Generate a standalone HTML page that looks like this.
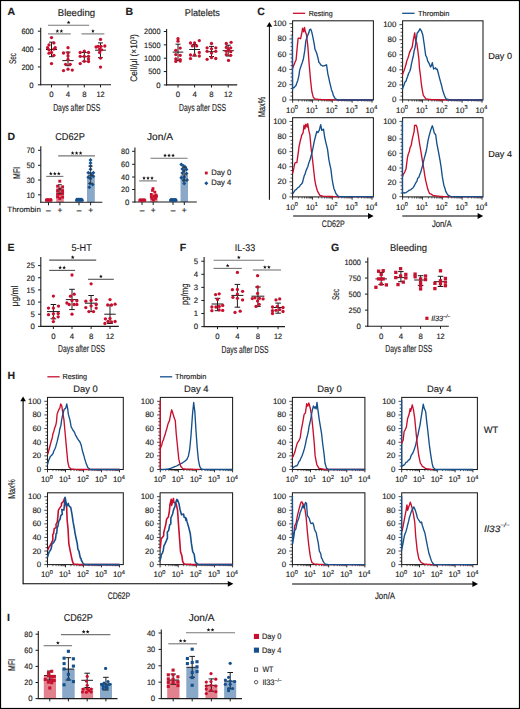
<!DOCTYPE html>
<html><head><meta charset="utf-8"><style>
html,body{margin:0;padding:0;background:#fff;}
body{width:520px;height:709px;overflow:hidden;}
svg{display:block;font-family:"Liberation Sans",sans-serif;text-rendering:geometricPrecision;}
text{fill:#1c1c1c;stroke:#1c1c1c;stroke-width:0.15px;}
</style></head><body>
<svg width="520" height="709" viewBox="0 0 520 709">
<rect x="0" y="0" width="520" height="709" fill="#fff"/>
<text x="7.4" y="15.3" font-size="10.5" font-weight="bold" fill="#000">A</text>
<text x="76.4" y="15.5" font-size="9.8" text-anchor="middle" textLength="37.3" lengthAdjust="spacingAndGlyphs">Bleeding</text>
<line x1="40.7" y1="27.8" x2="40.7" y2="85.3" stroke="#1c1c1c" stroke-width="1.1"/>
<line x1="37.9" y1="31.2" x2="40.7" y2="31.2" stroke="#1c1c1c" stroke-width="1"/>
<text x="33.7" y="34" font-size="7.8" text-anchor="end" textLength="12.3" lengthAdjust="spacingAndGlyphs">600</text>
<line x1="37.9" y1="49.07" x2="40.7" y2="49.07" stroke="#1c1c1c" stroke-width="1"/>
<text x="33.7" y="51.87" font-size="7.8" text-anchor="end" textLength="12.3" lengthAdjust="spacingAndGlyphs">400</text>
<line x1="37.9" y1="66.93" x2="40.7" y2="66.93" stroke="#1c1c1c" stroke-width="1"/>
<text x="33.7" y="69.73" font-size="7.8" text-anchor="end" textLength="12.3" lengthAdjust="spacingAndGlyphs">200</text>
<line x1="37.9" y1="84.8" x2="40.7" y2="84.8" stroke="#1c1c1c" stroke-width="1"/>
<text x="33.7" y="87.6" font-size="7.8" text-anchor="end">0</text>
<line x1="40.2" y1="84.8" x2="111" y2="84.8" stroke="#1c1c1c" stroke-width="1.1"/>
<line x1="51.5" y1="84.8" x2="51.5" y2="87.4" stroke="#1c1c1c" stroke-width="1"/>
<text x="51.5" y="97.1" font-size="7.8" text-anchor="middle">0</text>
<line x1="68" y1="84.8" x2="68" y2="87.4" stroke="#1c1c1c" stroke-width="1"/>
<text x="68" y="97.1" font-size="7.8" text-anchor="middle">4</text>
<line x1="84.3" y1="84.8" x2="84.3" y2="87.4" stroke="#1c1c1c" stroke-width="1"/>
<text x="84.3" y="97.1" font-size="7.8" text-anchor="middle">8</text>
<line x1="100.5" y1="84.8" x2="100.5" y2="87.4" stroke="#1c1c1c" stroke-width="1"/>
<text x="100.5" y="97.1" font-size="7.8" text-anchor="middle" textLength="8.2" lengthAdjust="spacingAndGlyphs">12</text>
<text x="76.7" y="110.7" font-size="10.2" text-anchor="middle" textLength="47" lengthAdjust="spacingAndGlyphs">Days after DSS</text>
<text x="15.9" y="58.5" font-size="9.8" text-anchor="middle" textLength="11" lengthAdjust="spacingAndGlyphs" transform="rotate(-90 15.9 58.5)">Sec</text>
<line x1="48" y1="25.3" x2="89.2" y2="25.3" stroke="#777" stroke-width="1.1"/>
<polygon points="68.6,20.5 69.1,21.81 70.5,21.88 69.41,22.76 69.78,24.12 68.6,23.35 67.42,24.12 67.79,22.76 66.7,21.88 68.1,21.81" fill="#111"/>
<line x1="48" y1="33.9" x2="70.7" y2="33.9" stroke="#777" stroke-width="1.1"/>
<polygon points="57.35,29.1 57.85,30.41 59.25,30.48 58.16,31.36 58.53,32.72 57.35,31.95 56.17,32.72 56.54,31.36 55.45,30.48 56.85,30.41" fill="#111"/>
<polygon points="61.35,29.1 61.85,30.41 63.25,30.48 62.16,31.36 62.53,32.72 61.35,31.95 60.17,32.72 60.54,31.36 59.45,30.48 60.85,30.41" fill="#111"/>
<line x1="81.5" y1="33.9" x2="104.4" y2="33.9" stroke="#777" stroke-width="1.1"/>
<polygon points="92.95,29.1 93.45,30.41 94.85,30.48 93.76,31.36 94.13,32.72 92.95,31.95 91.77,32.72 92.14,31.36 91.05,30.48 92.45,30.41" fill="#111"/>
<line x1="46" y1="49.5" x2="57" y2="49.5" stroke="#1c1c1c" stroke-width="1"/>
<line x1="51.5" y1="42.2" x2="51.5" y2="56.7" stroke="#1c1c1c" stroke-width="1"/>
<line x1="49" y1="42.2" x2="54" y2="42.2" stroke="#1c1c1c" stroke-width="1"/>
<line x1="49" y1="56.7" x2="54" y2="56.7" stroke="#1c1c1c" stroke-width="1"/>
<circle cx="51.5" cy="37.6" r="1.65" fill="#c8102e"/>
<circle cx="49" cy="44.9" r="1.65" fill="#c8102e"/>
<circle cx="53.9" cy="42.9" r="1.65" fill="#c8102e"/>
<circle cx="49" cy="49.8" r="1.65" fill="#c8102e"/>
<circle cx="53.9" cy="49.1" r="1.65" fill="#c8102e"/>
<circle cx="49" cy="53.2" r="1.65" fill="#c8102e"/>
<circle cx="53.9" cy="55.3" r="1.65" fill="#c8102e"/>
<circle cx="51.5" cy="52.5" r="1.65" fill="#c8102e"/>
<circle cx="51.5" cy="63.6" r="1.65" fill="#c8102e"/>
<circle cx="47.6" cy="47.7" r="1.65" fill="#c8102e"/>
<circle cx="55.2" cy="47.7" r="1.65" fill="#c8102e"/>
<line x1="62.3" y1="60.6" x2="73.7" y2="60.6" stroke="#1c1c1c" stroke-width="1"/>
<line x1="68" y1="52.1" x2="68" y2="65.7" stroke="#1c1c1c" stroke-width="1"/>
<line x1="65.5" y1="52.1" x2="70.5" y2="52.1" stroke="#1c1c1c" stroke-width="1"/>
<line x1="65.5" y1="65.7" x2="70.5" y2="65.7" stroke="#1c1c1c" stroke-width="1"/>
<circle cx="68" cy="47.7" r="1.65" fill="#c8102e"/>
<circle cx="63.5" cy="53" r="1.65" fill="#c8102e"/>
<circle cx="68" cy="53" r="1.65" fill="#c8102e"/>
<circle cx="68" cy="56" r="1.65" fill="#c8102e"/>
<circle cx="68" cy="59.5" r="1.65" fill="#c8102e"/>
<circle cx="65.6" cy="64.3" r="1.65" fill="#c8102e"/>
<circle cx="70.2" cy="64.3" r="1.65" fill="#c8102e"/>
<circle cx="63.5" cy="70.6" r="1.65" fill="#c8102e"/>
<circle cx="68" cy="69.2" r="1.65" fill="#c8102e"/>
<circle cx="72.3" cy="70.1" r="1.65" fill="#c8102e"/>
<line x1="80.8" y1="56.7" x2="87.8" y2="56.7" stroke="#1c1c1c" stroke-width="1"/>
<line x1="84.3" y1="52.5" x2="84.3" y2="61.3" stroke="#1c1c1c" stroke-width="1"/>
<line x1="81.8" y1="52.5" x2="86.8" y2="52.5" stroke="#1c1c1c" stroke-width="1"/>
<line x1="81.8" y1="61.3" x2="86.8" y2="61.3" stroke="#1c1c1c" stroke-width="1"/>
<circle cx="80.2" cy="52.5" r="1.65" fill="#c8102e"/>
<circle cx="84.3" cy="51.2" r="1.65" fill="#c8102e"/>
<circle cx="88.5" cy="52.5" r="1.65" fill="#c8102e"/>
<circle cx="80.2" cy="56.3" r="1.65" fill="#c8102e"/>
<circle cx="84.3" cy="56.3" r="1.65" fill="#c8102e"/>
<circle cx="88.5" cy="56.3" r="1.65" fill="#c8102e"/>
<circle cx="80.2" cy="63.6" r="1.65" fill="#c8102e"/>
<circle cx="84.3" cy="61.3" r="1.65" fill="#c8102e"/>
<circle cx="88.5" cy="61.5" r="1.65" fill="#c8102e"/>
<circle cx="88.5" cy="58.8" r="1.65" fill="#c8102e"/>
<line x1="95.1" y1="50.2" x2="105.9" y2="50.2" stroke="#1c1c1c" stroke-width="1"/>
<line x1="100.5" y1="42.9" x2="100.5" y2="57.7" stroke="#1c1c1c" stroke-width="1"/>
<line x1="98" y1="42.9" x2="103" y2="42.9" stroke="#1c1c1c" stroke-width="1"/>
<line x1="98" y1="57.7" x2="103" y2="57.7" stroke="#1c1c1c" stroke-width="1"/>
<circle cx="100.5" cy="39.4" r="1.65" fill="#c8102e"/>
<circle cx="96.1" cy="47" r="1.65" fill="#c8102e"/>
<circle cx="98.2" cy="46.3" r="1.65" fill="#c8102e"/>
<circle cx="101" cy="46.3" r="1.65" fill="#c8102e"/>
<circle cx="104.8" cy="46" r="1.65" fill="#c8102e"/>
<circle cx="99.6" cy="49.1" r="1.65" fill="#c8102e"/>
<circle cx="101.6" cy="49.8" r="1.65" fill="#c8102e"/>
<circle cx="99.6" cy="52.5" r="1.65" fill="#c8102e"/>
<circle cx="100.5" cy="58.1" r="1.65" fill="#c8102e"/>
<circle cx="100.5" cy="67.1" r="1.65" fill="#c8102e"/>
<text x="125.6" y="15.3" font-size="10.5" font-weight="bold" fill="#000">B</text>
<text x="202.4" y="15.6" font-size="9.8" text-anchor="middle" textLength="35.1" lengthAdjust="spacingAndGlyphs">Platelets</text>
<line x1="166.6" y1="29" x2="166.6" y2="85.4" stroke="#1c1c1c" stroke-width="1.1"/>
<line x1="163.8" y1="31.5" x2="166.6" y2="31.5" stroke="#1c1c1c" stroke-width="1"/>
<text x="160.5" y="34.3" font-size="7.8" text-anchor="end" textLength="16.4" lengthAdjust="spacingAndGlyphs">2000</text>
<line x1="163.8" y1="44.85" x2="166.6" y2="44.85" stroke="#1c1c1c" stroke-width="1"/>
<text x="160.5" y="47.65" font-size="7.8" text-anchor="end" textLength="16.4" lengthAdjust="spacingAndGlyphs">1500</text>
<line x1="163.8" y1="58.2" x2="166.6" y2="58.2" stroke="#1c1c1c" stroke-width="1"/>
<text x="160.5" y="61" font-size="7.8" text-anchor="end" textLength="16.4" lengthAdjust="spacingAndGlyphs">1000</text>
<line x1="163.8" y1="71.55" x2="166.6" y2="71.55" stroke="#1c1c1c" stroke-width="1"/>
<text x="160.5" y="74.35" font-size="7.8" text-anchor="end" textLength="12.3" lengthAdjust="spacingAndGlyphs">500</text>
<line x1="163.8" y1="84.9" x2="166.6" y2="84.9" stroke="#1c1c1c" stroke-width="1"/>
<text x="160.5" y="87.7" font-size="7.8" text-anchor="end">0</text>
<line x1="165.9" y1="84.9" x2="237.2" y2="84.9" stroke="#1c1c1c" stroke-width="1.1"/>
<line x1="178" y1="84.9" x2="178" y2="87.5" stroke="#1c1c1c" stroke-width="1"/>
<text x="178" y="97.2" font-size="7.8" text-anchor="middle">0</text>
<line x1="194.6" y1="84.9" x2="194.6" y2="87.5" stroke="#1c1c1c" stroke-width="1"/>
<text x="194.6" y="97.2" font-size="7.8" text-anchor="middle">4</text>
<line x1="211.5" y1="84.9" x2="211.5" y2="87.5" stroke="#1c1c1c" stroke-width="1"/>
<text x="211.5" y="97.2" font-size="7.8" text-anchor="middle">8</text>
<line x1="228.2" y1="84.9" x2="228.2" y2="87.5" stroke="#1c1c1c" stroke-width="1"/>
<text x="228.2" y="97.2" font-size="7.8" text-anchor="middle" textLength="8.2" lengthAdjust="spacingAndGlyphs">12</text>
<text x="202.5" y="110.7" font-size="10.2" text-anchor="middle" textLength="47" lengthAdjust="spacingAndGlyphs">Days after DSS</text>
<text x="137.1" y="58" font-size="9.5" text-anchor="middle" transform="rotate(-90 137.1 58)" textLength="47.7" lengthAdjust="spacingAndGlyphs">Cell/&#956;l (&#215;10<tspan font-size="5.5" dy="-3">3</tspan><tspan dy="3">)</tspan></text>
<line x1="172.7" y1="52.1" x2="183.3" y2="52.1" stroke="#1c1c1c" stroke-width="1"/>
<line x1="178" y1="44.2" x2="178" y2="60.4" stroke="#1c1c1c" stroke-width="1"/>
<line x1="175.5" y1="44.2" x2="180.5" y2="44.2" stroke="#1c1c1c" stroke-width="1"/>
<line x1="175.5" y1="60.4" x2="180.5" y2="60.4" stroke="#1c1c1c" stroke-width="1"/>
<circle cx="178" cy="38.7" r="1.65" fill="#c8102e"/>
<circle cx="178" cy="41.2" r="1.65" fill="#c8102e"/>
<circle cx="175.8" cy="50.3" r="1.65" fill="#c8102e"/>
<circle cx="180.2" cy="48.1" r="1.65" fill="#c8102e"/>
<circle cx="175.8" cy="54.6" r="1.65" fill="#c8102e"/>
<circle cx="180.2" cy="55.3" r="1.65" fill="#c8102e"/>
<circle cx="175.8" cy="58.9" r="1.65" fill="#c8102e"/>
<circle cx="180.2" cy="59.6" r="1.65" fill="#c8102e"/>
<circle cx="175.8" cy="61.4" r="1.65" fill="#c8102e"/>
<circle cx="180.2" cy="61.1" r="1.65" fill="#c8102e"/>
<line x1="189.2" y1="49.5" x2="200" y2="49.5" stroke="#1c1c1c" stroke-width="1"/>
<line x1="194.6" y1="44.5" x2="194.6" y2="56" stroke="#1c1c1c" stroke-width="1"/>
<line x1="192.1" y1="44.5" x2="197.1" y2="44.5" stroke="#1c1c1c" stroke-width="1"/>
<line x1="192.1" y1="56" x2="197.1" y2="56" stroke="#1c1c1c" stroke-width="1"/>
<circle cx="190.5" cy="43" r="1.65" fill="#c8102e"/>
<circle cx="194.6" cy="43" r="1.65" fill="#c8102e"/>
<circle cx="199.3" cy="40.6" r="1.65" fill="#c8102e"/>
<circle cx="192.4" cy="45.9" r="1.65" fill="#c8102e"/>
<circle cx="196.7" cy="45.9" r="1.65" fill="#c8102e"/>
<circle cx="190.5" cy="55" r="1.65" fill="#c8102e"/>
<circle cx="194.6" cy="55" r="1.65" fill="#c8102e"/>
<circle cx="199.3" cy="56" r="1.65" fill="#c8102e"/>
<circle cx="190.5" cy="58.6" r="1.65" fill="#c8102e"/>
<circle cx="199.3" cy="52.4" r="1.65" fill="#c8102e"/>
<line x1="207.5" y1="51.7" x2="215.5" y2="51.7" stroke="#1c1c1c" stroke-width="1"/>
<line x1="211.5" y1="46.4" x2="211.5" y2="56.5" stroke="#1c1c1c" stroke-width="1"/>
<line x1="209" y1="46.4" x2="214" y2="46.4" stroke="#1c1c1c" stroke-width="1"/>
<line x1="209" y1="56.5" x2="214" y2="56.5" stroke="#1c1c1c" stroke-width="1"/>
<circle cx="211.5" cy="43.5" r="1.65" fill="#c8102e"/>
<circle cx="207.1" cy="47.8" r="1.65" fill="#c8102e"/>
<circle cx="215.8" cy="47.8" r="1.65" fill="#c8102e"/>
<circle cx="211.5" cy="48.8" r="1.65" fill="#c8102e"/>
<circle cx="207.1" cy="51.3" r="1.65" fill="#c8102e"/>
<circle cx="215.8" cy="51.3" r="1.65" fill="#c8102e"/>
<circle cx="211.5" cy="53.1" r="1.65" fill="#c8102e"/>
<circle cx="211.5" cy="57.5" r="1.65" fill="#c8102e"/>
<circle cx="207.1" cy="59.3" r="1.65" fill="#c8102e"/>
<circle cx="215.8" cy="58.5" r="1.65" fill="#c8102e"/>
<line x1="222.6" y1="50.7" x2="233.8" y2="50.7" stroke="#1c1c1c" stroke-width="1"/>
<line x1="228.2" y1="45.2" x2="228.2" y2="56" stroke="#1c1c1c" stroke-width="1"/>
<line x1="225.7" y1="45.2" x2="230.7" y2="45.2" stroke="#1c1c1c" stroke-width="1"/>
<line x1="225.7" y1="56" x2="230.7" y2="56" stroke="#1c1c1c" stroke-width="1"/>
<circle cx="226.3" cy="43.5" r="1.65" fill="#c8102e"/>
<circle cx="231.1" cy="42.3" r="1.65" fill="#c8102e"/>
<circle cx="226.3" cy="47.4" r="1.65" fill="#c8102e"/>
<circle cx="230.7" cy="47.8" r="1.65" fill="#c8102e"/>
<circle cx="226.3" cy="51.3" r="1.65" fill="#c8102e"/>
<circle cx="230.7" cy="51.7" r="1.65" fill="#c8102e"/>
<circle cx="226.3" cy="54.6" r="1.65" fill="#c8102e"/>
<circle cx="230.7" cy="55.3" r="1.65" fill="#c8102e"/>
<circle cx="228.5" cy="60.4" r="1.65" fill="#c8102e"/>
<circle cx="228.5" cy="49.5" r="1.65" fill="#c8102e"/>
<text x="257.2" y="15.3" font-size="10.5" font-weight="bold" fill="#000">C</text>
<line x1="292.9" y1="13.3" x2="305.2" y2="13.3" stroke="#c8102e" stroke-width="1.3"/>
<text x="308.7" y="15.5" font-size="7.3" textLength="24" lengthAdjust="spacingAndGlyphs">Resting</text>
<line x1="402.2" y1="13.3" x2="414.6" y2="13.3" stroke="#15508c" stroke-width="1.3"/>
<text x="418" y="15.5" font-size="7.3" textLength="31.4" lengthAdjust="spacingAndGlyphs">Thrombin</text>
<line x1="289.4" y1="99.9" x2="292.6" y2="99.9" stroke="#1c1c1c" stroke-width="0.8"/>
<text x="286.3" y="102.4" font-size="7.9" text-anchor="end">0</text>
<line x1="290.6" y1="96.09" x2="292.6" y2="96.09" stroke="#1c1c1c" stroke-width="0.8"/>
<line x1="290.6" y1="92.28" x2="292.6" y2="92.28" stroke="#1c1c1c" stroke-width="0.8"/>
<line x1="290.6" y1="88.47" x2="292.6" y2="88.47" stroke="#1c1c1c" stroke-width="0.8"/>
<line x1="289.4" y1="84.66" x2="292.6" y2="84.66" stroke="#1c1c1c" stroke-width="0.8"/>
<text x="286.3" y="87.16" font-size="7.9" text-anchor="end">20</text>
<line x1="290.6" y1="80.85" x2="292.6" y2="80.85" stroke="#1c1c1c" stroke-width="0.8"/>
<line x1="290.6" y1="77.04" x2="292.6" y2="77.04" stroke="#1c1c1c" stroke-width="0.8"/>
<line x1="290.6" y1="73.23" x2="292.6" y2="73.23" stroke="#1c1c1c" stroke-width="0.8"/>
<line x1="289.4" y1="69.42" x2="292.6" y2="69.42" stroke="#1c1c1c" stroke-width="0.8"/>
<text x="286.3" y="71.92" font-size="7.9" text-anchor="end">40</text>
<line x1="290.6" y1="65.61" x2="292.6" y2="65.61" stroke="#1c1c1c" stroke-width="0.8"/>
<line x1="290.6" y1="61.8" x2="292.6" y2="61.8" stroke="#1c1c1c" stroke-width="0.8"/>
<line x1="290.6" y1="57.99" x2="292.6" y2="57.99" stroke="#1c1c1c" stroke-width="0.8"/>
<line x1="289.4" y1="54.18" x2="292.6" y2="54.18" stroke="#1c1c1c" stroke-width="0.8"/>
<text x="286.3" y="56.68" font-size="7.9" text-anchor="end">60</text>
<line x1="290.6" y1="50.37" x2="292.6" y2="50.37" stroke="#1c1c1c" stroke-width="0.8"/>
<line x1="290.6" y1="46.56" x2="292.6" y2="46.56" stroke="#1c1c1c" stroke-width="0.8"/>
<line x1="290.6" y1="42.75" x2="292.6" y2="42.75" stroke="#1c1c1c" stroke-width="0.8"/>
<line x1="289.4" y1="38.94" x2="292.6" y2="38.94" stroke="#1c1c1c" stroke-width="0.8"/>
<text x="286.3" y="41.44" font-size="7.9" text-anchor="end">80</text>
<line x1="290.6" y1="35.13" x2="292.6" y2="35.13" stroke="#1c1c1c" stroke-width="0.8"/>
<line x1="290.6" y1="31.32" x2="292.6" y2="31.32" stroke="#1c1c1c" stroke-width="0.8"/>
<line x1="290.6" y1="27.51" x2="292.6" y2="27.51" stroke="#1c1c1c" stroke-width="0.8"/>
<line x1="289.4" y1="23.7" x2="292.6" y2="23.7" stroke="#1c1c1c" stroke-width="0.8"/>
<text x="286.3" y="26.2" font-size="7.9" text-anchor="end">100</text>
<line x1="298.58" y1="99.9" x2="298.58" y2="101.5" stroke="#1c1c1c" stroke-width="0.7"/>
<line x1="302.07" y1="99.9" x2="302.07" y2="101.5" stroke="#1c1c1c" stroke-width="0.7"/>
<line x1="304.55" y1="99.9" x2="304.55" y2="101.5" stroke="#1c1c1c" stroke-width="0.7"/>
<line x1="306.47" y1="99.9" x2="306.47" y2="101.5" stroke="#1c1c1c" stroke-width="0.7"/>
<line x1="308.05" y1="99.9" x2="308.05" y2="101.5" stroke="#1c1c1c" stroke-width="0.7"/>
<line x1="309.38" y1="99.9" x2="309.38" y2="101.5" stroke="#1c1c1c" stroke-width="0.7"/>
<line x1="310.53" y1="99.9" x2="310.53" y2="101.5" stroke="#1c1c1c" stroke-width="0.7"/>
<line x1="311.54" y1="99.9" x2="311.54" y2="101.5" stroke="#1c1c1c" stroke-width="0.7"/>
<line x1="318.43" y1="99.9" x2="318.43" y2="101.5" stroke="#1c1c1c" stroke-width="0.7"/>
<line x1="321.92" y1="99.9" x2="321.92" y2="101.5" stroke="#1c1c1c" stroke-width="0.7"/>
<line x1="324.4" y1="99.9" x2="324.4" y2="101.5" stroke="#1c1c1c" stroke-width="0.7"/>
<line x1="326.32" y1="99.9" x2="326.32" y2="101.5" stroke="#1c1c1c" stroke-width="0.7"/>
<line x1="327.9" y1="99.9" x2="327.9" y2="101.5" stroke="#1c1c1c" stroke-width="0.7"/>
<line x1="329.23" y1="99.9" x2="329.23" y2="101.5" stroke="#1c1c1c" stroke-width="0.7"/>
<line x1="330.38" y1="99.9" x2="330.38" y2="101.5" stroke="#1c1c1c" stroke-width="0.7"/>
<line x1="331.39" y1="99.9" x2="331.39" y2="101.5" stroke="#1c1c1c" stroke-width="0.7"/>
<line x1="338.28" y1="99.9" x2="338.28" y2="101.5" stroke="#1c1c1c" stroke-width="0.7"/>
<line x1="341.77" y1="99.9" x2="341.77" y2="101.5" stroke="#1c1c1c" stroke-width="0.7"/>
<line x1="344.25" y1="99.9" x2="344.25" y2="101.5" stroke="#1c1c1c" stroke-width="0.7"/>
<line x1="346.17" y1="99.9" x2="346.17" y2="101.5" stroke="#1c1c1c" stroke-width="0.7"/>
<line x1="347.75" y1="99.9" x2="347.75" y2="101.5" stroke="#1c1c1c" stroke-width="0.7"/>
<line x1="349.08" y1="99.9" x2="349.08" y2="101.5" stroke="#1c1c1c" stroke-width="0.7"/>
<line x1="350.23" y1="99.9" x2="350.23" y2="101.5" stroke="#1c1c1c" stroke-width="0.7"/>
<line x1="351.24" y1="99.9" x2="351.24" y2="101.5" stroke="#1c1c1c" stroke-width="0.7"/>
<line x1="358.13" y1="99.9" x2="358.13" y2="101.5" stroke="#1c1c1c" stroke-width="0.7"/>
<line x1="361.62" y1="99.9" x2="361.62" y2="101.5" stroke="#1c1c1c" stroke-width="0.7"/>
<line x1="364.1" y1="99.9" x2="364.1" y2="101.5" stroke="#1c1c1c" stroke-width="0.7"/>
<line x1="366.02" y1="99.9" x2="366.02" y2="101.5" stroke="#1c1c1c" stroke-width="0.7"/>
<line x1="367.6" y1="99.9" x2="367.6" y2="101.5" stroke="#1c1c1c" stroke-width="0.7"/>
<line x1="368.93" y1="99.9" x2="368.93" y2="101.5" stroke="#1c1c1c" stroke-width="0.7"/>
<line x1="370.08" y1="99.9" x2="370.08" y2="101.5" stroke="#1c1c1c" stroke-width="0.7"/>
<line x1="371.09" y1="99.9" x2="371.09" y2="101.5" stroke="#1c1c1c" stroke-width="0.7"/>
<line x1="292.6" y1="99.9" x2="292.6" y2="102.7" stroke="#1c1c1c" stroke-width="0.9"/>
<text x="292" y="112.5" font-size="7.9" text-anchor="middle">10<tspan font-size="5.6" dy="-3.5">0</tspan></text>
<line x1="312.45" y1="99.9" x2="312.45" y2="102.7" stroke="#1c1c1c" stroke-width="0.9"/>
<text x="311.85" y="112.5" font-size="7.9" text-anchor="middle">10<tspan font-size="5.6" dy="-3.5">1</tspan></text>
<line x1="332.3" y1="99.9" x2="332.3" y2="102.7" stroke="#1c1c1c" stroke-width="0.9"/>
<text x="331.7" y="112.5" font-size="7.9" text-anchor="middle">10<tspan font-size="5.6" dy="-3.5">2</tspan></text>
<line x1="352.15" y1="99.9" x2="352.15" y2="102.7" stroke="#1c1c1c" stroke-width="0.9"/>
<text x="351.55" y="112.5" font-size="7.9" text-anchor="middle">10<tspan font-size="5.6" dy="-3.5">3</tspan></text>
<line x1="372" y1="99.9" x2="372" y2="102.7" stroke="#1c1c1c" stroke-width="0.9"/>
<text x="371.4" y="112.5" font-size="7.9" text-anchor="middle">10<tspan font-size="5.6" dy="-3.5">4</tspan></text>
<rect x="292.6" y="20.8" width="80.8" height="79.1" fill="none" stroke="#1c1c1c" stroke-width="1.05"/>
<line x1="289.4" y1="196.9" x2="292.6" y2="196.9" stroke="#1c1c1c" stroke-width="0.8"/>
<text x="286.3" y="199.4" font-size="7.9" text-anchor="end">0</text>
<line x1="290.6" y1="193.13" x2="292.6" y2="193.13" stroke="#1c1c1c" stroke-width="0.8"/>
<line x1="290.6" y1="189.36" x2="292.6" y2="189.36" stroke="#1c1c1c" stroke-width="0.8"/>
<line x1="290.6" y1="185.59" x2="292.6" y2="185.59" stroke="#1c1c1c" stroke-width="0.8"/>
<line x1="289.4" y1="181.82" x2="292.6" y2="181.82" stroke="#1c1c1c" stroke-width="0.8"/>
<text x="286.3" y="184.32" font-size="7.9" text-anchor="end">20</text>
<line x1="290.6" y1="178.05" x2="292.6" y2="178.05" stroke="#1c1c1c" stroke-width="0.8"/>
<line x1="290.6" y1="174.28" x2="292.6" y2="174.28" stroke="#1c1c1c" stroke-width="0.8"/>
<line x1="290.6" y1="170.51" x2="292.6" y2="170.51" stroke="#1c1c1c" stroke-width="0.8"/>
<line x1="289.4" y1="166.74" x2="292.6" y2="166.74" stroke="#1c1c1c" stroke-width="0.8"/>
<text x="286.3" y="169.24" font-size="7.9" text-anchor="end">40</text>
<line x1="290.6" y1="162.97" x2="292.6" y2="162.97" stroke="#1c1c1c" stroke-width="0.8"/>
<line x1="290.6" y1="159.2" x2="292.6" y2="159.2" stroke="#1c1c1c" stroke-width="0.8"/>
<line x1="290.6" y1="155.43" x2="292.6" y2="155.43" stroke="#1c1c1c" stroke-width="0.8"/>
<line x1="289.4" y1="151.66" x2="292.6" y2="151.66" stroke="#1c1c1c" stroke-width="0.8"/>
<text x="286.3" y="154.16" font-size="7.9" text-anchor="end">60</text>
<line x1="290.6" y1="147.89" x2="292.6" y2="147.89" stroke="#1c1c1c" stroke-width="0.8"/>
<line x1="290.6" y1="144.12" x2="292.6" y2="144.12" stroke="#1c1c1c" stroke-width="0.8"/>
<line x1="290.6" y1="140.35" x2="292.6" y2="140.35" stroke="#1c1c1c" stroke-width="0.8"/>
<line x1="289.4" y1="136.58" x2="292.6" y2="136.58" stroke="#1c1c1c" stroke-width="0.8"/>
<text x="286.3" y="139.08" font-size="7.9" text-anchor="end">80</text>
<line x1="290.6" y1="132.81" x2="292.6" y2="132.81" stroke="#1c1c1c" stroke-width="0.8"/>
<line x1="290.6" y1="129.04" x2="292.6" y2="129.04" stroke="#1c1c1c" stroke-width="0.8"/>
<line x1="290.6" y1="125.27" x2="292.6" y2="125.27" stroke="#1c1c1c" stroke-width="0.8"/>
<line x1="289.4" y1="121.5" x2="292.6" y2="121.5" stroke="#1c1c1c" stroke-width="0.8"/>
<text x="286.3" y="124" font-size="7.9" text-anchor="end">100</text>
<line x1="298.58" y1="196.9" x2="298.58" y2="198.5" stroke="#1c1c1c" stroke-width="0.7"/>
<line x1="302.07" y1="196.9" x2="302.07" y2="198.5" stroke="#1c1c1c" stroke-width="0.7"/>
<line x1="304.55" y1="196.9" x2="304.55" y2="198.5" stroke="#1c1c1c" stroke-width="0.7"/>
<line x1="306.47" y1="196.9" x2="306.47" y2="198.5" stroke="#1c1c1c" stroke-width="0.7"/>
<line x1="308.05" y1="196.9" x2="308.05" y2="198.5" stroke="#1c1c1c" stroke-width="0.7"/>
<line x1="309.38" y1="196.9" x2="309.38" y2="198.5" stroke="#1c1c1c" stroke-width="0.7"/>
<line x1="310.53" y1="196.9" x2="310.53" y2="198.5" stroke="#1c1c1c" stroke-width="0.7"/>
<line x1="311.54" y1="196.9" x2="311.54" y2="198.5" stroke="#1c1c1c" stroke-width="0.7"/>
<line x1="318.43" y1="196.9" x2="318.43" y2="198.5" stroke="#1c1c1c" stroke-width="0.7"/>
<line x1="321.92" y1="196.9" x2="321.92" y2="198.5" stroke="#1c1c1c" stroke-width="0.7"/>
<line x1="324.4" y1="196.9" x2="324.4" y2="198.5" stroke="#1c1c1c" stroke-width="0.7"/>
<line x1="326.32" y1="196.9" x2="326.32" y2="198.5" stroke="#1c1c1c" stroke-width="0.7"/>
<line x1="327.9" y1="196.9" x2="327.9" y2="198.5" stroke="#1c1c1c" stroke-width="0.7"/>
<line x1="329.23" y1="196.9" x2="329.23" y2="198.5" stroke="#1c1c1c" stroke-width="0.7"/>
<line x1="330.38" y1="196.9" x2="330.38" y2="198.5" stroke="#1c1c1c" stroke-width="0.7"/>
<line x1="331.39" y1="196.9" x2="331.39" y2="198.5" stroke="#1c1c1c" stroke-width="0.7"/>
<line x1="338.28" y1="196.9" x2="338.28" y2="198.5" stroke="#1c1c1c" stroke-width="0.7"/>
<line x1="341.77" y1="196.9" x2="341.77" y2="198.5" stroke="#1c1c1c" stroke-width="0.7"/>
<line x1="344.25" y1="196.9" x2="344.25" y2="198.5" stroke="#1c1c1c" stroke-width="0.7"/>
<line x1="346.17" y1="196.9" x2="346.17" y2="198.5" stroke="#1c1c1c" stroke-width="0.7"/>
<line x1="347.75" y1="196.9" x2="347.75" y2="198.5" stroke="#1c1c1c" stroke-width="0.7"/>
<line x1="349.08" y1="196.9" x2="349.08" y2="198.5" stroke="#1c1c1c" stroke-width="0.7"/>
<line x1="350.23" y1="196.9" x2="350.23" y2="198.5" stroke="#1c1c1c" stroke-width="0.7"/>
<line x1="351.24" y1="196.9" x2="351.24" y2="198.5" stroke="#1c1c1c" stroke-width="0.7"/>
<line x1="358.13" y1="196.9" x2="358.13" y2="198.5" stroke="#1c1c1c" stroke-width="0.7"/>
<line x1="361.62" y1="196.9" x2="361.62" y2="198.5" stroke="#1c1c1c" stroke-width="0.7"/>
<line x1="364.1" y1="196.9" x2="364.1" y2="198.5" stroke="#1c1c1c" stroke-width="0.7"/>
<line x1="366.02" y1="196.9" x2="366.02" y2="198.5" stroke="#1c1c1c" stroke-width="0.7"/>
<line x1="367.6" y1="196.9" x2="367.6" y2="198.5" stroke="#1c1c1c" stroke-width="0.7"/>
<line x1="368.93" y1="196.9" x2="368.93" y2="198.5" stroke="#1c1c1c" stroke-width="0.7"/>
<line x1="370.08" y1="196.9" x2="370.08" y2="198.5" stroke="#1c1c1c" stroke-width="0.7"/>
<line x1="371.09" y1="196.9" x2="371.09" y2="198.5" stroke="#1c1c1c" stroke-width="0.7"/>
<line x1="292.6" y1="196.9" x2="292.6" y2="199.7" stroke="#1c1c1c" stroke-width="0.9"/>
<text x="292" y="209.5" font-size="7.9" text-anchor="middle">10<tspan font-size="5.6" dy="-3.5">0</tspan></text>
<line x1="312.45" y1="196.9" x2="312.45" y2="199.7" stroke="#1c1c1c" stroke-width="0.9"/>
<text x="311.85" y="209.5" font-size="7.9" text-anchor="middle">10<tspan font-size="5.6" dy="-3.5">1</tspan></text>
<line x1="332.3" y1="196.9" x2="332.3" y2="199.7" stroke="#1c1c1c" stroke-width="0.9"/>
<text x="331.7" y="209.5" font-size="7.9" text-anchor="middle">10<tspan font-size="5.6" dy="-3.5">2</tspan></text>
<line x1="352.15" y1="196.9" x2="352.15" y2="199.7" stroke="#1c1c1c" stroke-width="0.9"/>
<text x="351.55" y="209.5" font-size="7.9" text-anchor="middle">10<tspan font-size="5.6" dy="-3.5">3</tspan></text>
<line x1="372" y1="196.9" x2="372" y2="199.7" stroke="#1c1c1c" stroke-width="0.9"/>
<text x="371.4" y="209.5" font-size="7.9" text-anchor="middle">10<tspan font-size="5.6" dy="-3.5">4</tspan></text>
<rect x="292.6" y="117.7" width="80.8" height="79.2" fill="none" stroke="#1c1c1c" stroke-width="1.05"/>
<line x1="399.4" y1="99.9" x2="402.6" y2="99.9" stroke="#1c1c1c" stroke-width="0.8"/>
<text x="396.3" y="102.4" font-size="7.9" text-anchor="end">0</text>
<line x1="400.6" y1="96.14" x2="402.6" y2="96.14" stroke="#1c1c1c" stroke-width="0.8"/>
<line x1="400.6" y1="92.38" x2="402.6" y2="92.38" stroke="#1c1c1c" stroke-width="0.8"/>
<line x1="400.6" y1="88.62" x2="402.6" y2="88.62" stroke="#1c1c1c" stroke-width="0.8"/>
<line x1="399.4" y1="84.86" x2="402.6" y2="84.86" stroke="#1c1c1c" stroke-width="0.8"/>
<text x="396.3" y="87.36" font-size="7.9" text-anchor="end">20</text>
<line x1="400.6" y1="81.1" x2="402.6" y2="81.1" stroke="#1c1c1c" stroke-width="0.8"/>
<line x1="400.6" y1="77.34" x2="402.6" y2="77.34" stroke="#1c1c1c" stroke-width="0.8"/>
<line x1="400.6" y1="73.58" x2="402.6" y2="73.58" stroke="#1c1c1c" stroke-width="0.8"/>
<line x1="399.4" y1="69.82" x2="402.6" y2="69.82" stroke="#1c1c1c" stroke-width="0.8"/>
<text x="396.3" y="72.32" font-size="7.9" text-anchor="end">40</text>
<line x1="400.6" y1="66.06" x2="402.6" y2="66.06" stroke="#1c1c1c" stroke-width="0.8"/>
<line x1="400.6" y1="62.3" x2="402.6" y2="62.3" stroke="#1c1c1c" stroke-width="0.8"/>
<line x1="400.6" y1="58.54" x2="402.6" y2="58.54" stroke="#1c1c1c" stroke-width="0.8"/>
<line x1="399.4" y1="54.78" x2="402.6" y2="54.78" stroke="#1c1c1c" stroke-width="0.8"/>
<text x="396.3" y="57.28" font-size="7.9" text-anchor="end">60</text>
<line x1="400.6" y1="51.02" x2="402.6" y2="51.02" stroke="#1c1c1c" stroke-width="0.8"/>
<line x1="400.6" y1="47.26" x2="402.6" y2="47.26" stroke="#1c1c1c" stroke-width="0.8"/>
<line x1="400.6" y1="43.5" x2="402.6" y2="43.5" stroke="#1c1c1c" stroke-width="0.8"/>
<line x1="399.4" y1="39.74" x2="402.6" y2="39.74" stroke="#1c1c1c" stroke-width="0.8"/>
<text x="396.3" y="42.24" font-size="7.9" text-anchor="end">80</text>
<line x1="400.6" y1="35.98" x2="402.6" y2="35.98" stroke="#1c1c1c" stroke-width="0.8"/>
<line x1="400.6" y1="32.22" x2="402.6" y2="32.22" stroke="#1c1c1c" stroke-width="0.8"/>
<line x1="400.6" y1="28.46" x2="402.6" y2="28.46" stroke="#1c1c1c" stroke-width="0.8"/>
<line x1="399.4" y1="24.7" x2="402.6" y2="24.7" stroke="#1c1c1c" stroke-width="0.8"/>
<text x="396.3" y="27.2" font-size="7.9" text-anchor="end">100</text>
<line x1="408.58" y1="99.9" x2="408.58" y2="101.5" stroke="#1c1c1c" stroke-width="0.7"/>
<line x1="412.07" y1="99.9" x2="412.07" y2="101.5" stroke="#1c1c1c" stroke-width="0.7"/>
<line x1="414.55" y1="99.9" x2="414.55" y2="101.5" stroke="#1c1c1c" stroke-width="0.7"/>
<line x1="416.47" y1="99.9" x2="416.47" y2="101.5" stroke="#1c1c1c" stroke-width="0.7"/>
<line x1="418.05" y1="99.9" x2="418.05" y2="101.5" stroke="#1c1c1c" stroke-width="0.7"/>
<line x1="419.38" y1="99.9" x2="419.38" y2="101.5" stroke="#1c1c1c" stroke-width="0.7"/>
<line x1="420.53" y1="99.9" x2="420.53" y2="101.5" stroke="#1c1c1c" stroke-width="0.7"/>
<line x1="421.54" y1="99.9" x2="421.54" y2="101.5" stroke="#1c1c1c" stroke-width="0.7"/>
<line x1="428.43" y1="99.9" x2="428.43" y2="101.5" stroke="#1c1c1c" stroke-width="0.7"/>
<line x1="431.92" y1="99.9" x2="431.92" y2="101.5" stroke="#1c1c1c" stroke-width="0.7"/>
<line x1="434.4" y1="99.9" x2="434.4" y2="101.5" stroke="#1c1c1c" stroke-width="0.7"/>
<line x1="436.32" y1="99.9" x2="436.32" y2="101.5" stroke="#1c1c1c" stroke-width="0.7"/>
<line x1="437.9" y1="99.9" x2="437.9" y2="101.5" stroke="#1c1c1c" stroke-width="0.7"/>
<line x1="439.23" y1="99.9" x2="439.23" y2="101.5" stroke="#1c1c1c" stroke-width="0.7"/>
<line x1="440.38" y1="99.9" x2="440.38" y2="101.5" stroke="#1c1c1c" stroke-width="0.7"/>
<line x1="441.39" y1="99.9" x2="441.39" y2="101.5" stroke="#1c1c1c" stroke-width="0.7"/>
<line x1="448.28" y1="99.9" x2="448.28" y2="101.5" stroke="#1c1c1c" stroke-width="0.7"/>
<line x1="451.77" y1="99.9" x2="451.77" y2="101.5" stroke="#1c1c1c" stroke-width="0.7"/>
<line x1="454.25" y1="99.9" x2="454.25" y2="101.5" stroke="#1c1c1c" stroke-width="0.7"/>
<line x1="456.17" y1="99.9" x2="456.17" y2="101.5" stroke="#1c1c1c" stroke-width="0.7"/>
<line x1="457.75" y1="99.9" x2="457.75" y2="101.5" stroke="#1c1c1c" stroke-width="0.7"/>
<line x1="459.08" y1="99.9" x2="459.08" y2="101.5" stroke="#1c1c1c" stroke-width="0.7"/>
<line x1="460.23" y1="99.9" x2="460.23" y2="101.5" stroke="#1c1c1c" stroke-width="0.7"/>
<line x1="461.24" y1="99.9" x2="461.24" y2="101.5" stroke="#1c1c1c" stroke-width="0.7"/>
<line x1="468.13" y1="99.9" x2="468.13" y2="101.5" stroke="#1c1c1c" stroke-width="0.7"/>
<line x1="471.62" y1="99.9" x2="471.62" y2="101.5" stroke="#1c1c1c" stroke-width="0.7"/>
<line x1="474.1" y1="99.9" x2="474.1" y2="101.5" stroke="#1c1c1c" stroke-width="0.7"/>
<line x1="476.02" y1="99.9" x2="476.02" y2="101.5" stroke="#1c1c1c" stroke-width="0.7"/>
<line x1="477.6" y1="99.9" x2="477.6" y2="101.5" stroke="#1c1c1c" stroke-width="0.7"/>
<line x1="478.93" y1="99.9" x2="478.93" y2="101.5" stroke="#1c1c1c" stroke-width="0.7"/>
<line x1="480.08" y1="99.9" x2="480.08" y2="101.5" stroke="#1c1c1c" stroke-width="0.7"/>
<line x1="481.09" y1="99.9" x2="481.09" y2="101.5" stroke="#1c1c1c" stroke-width="0.7"/>
<line x1="402.6" y1="99.9" x2="402.6" y2="102.7" stroke="#1c1c1c" stroke-width="0.9"/>
<text x="402" y="112.5" font-size="7.9" text-anchor="middle">10<tspan font-size="5.6" dy="-3.5">0</tspan></text>
<line x1="422.45" y1="99.9" x2="422.45" y2="102.7" stroke="#1c1c1c" stroke-width="0.9"/>
<text x="421.85" y="112.5" font-size="7.9" text-anchor="middle">10<tspan font-size="5.6" dy="-3.5">1</tspan></text>
<line x1="442.3" y1="99.9" x2="442.3" y2="102.7" stroke="#1c1c1c" stroke-width="0.9"/>
<text x="441.7" y="112.5" font-size="7.9" text-anchor="middle">10<tspan font-size="5.6" dy="-3.5">2</tspan></text>
<line x1="462.15" y1="99.9" x2="462.15" y2="102.7" stroke="#1c1c1c" stroke-width="0.9"/>
<text x="461.55" y="112.5" font-size="7.9" text-anchor="middle">10<tspan font-size="5.6" dy="-3.5">3</tspan></text>
<line x1="482" y1="99.9" x2="482" y2="102.7" stroke="#1c1c1c" stroke-width="0.9"/>
<text x="481.4" y="112.5" font-size="7.9" text-anchor="middle">10<tspan font-size="5.6" dy="-3.5">4</tspan></text>
<rect x="402.6" y="20.8" width="80.4" height="79.1" fill="none" stroke="#1c1c1c" stroke-width="1.05"/>
<line x1="399.4" y1="196.7" x2="402.6" y2="196.7" stroke="#1c1c1c" stroke-width="0.8"/>
<text x="396.3" y="199.2" font-size="7.9" text-anchor="end">0</text>
<line x1="400.6" y1="193.07" x2="402.6" y2="193.07" stroke="#1c1c1c" stroke-width="0.8"/>
<line x1="400.6" y1="189.45" x2="402.6" y2="189.45" stroke="#1c1c1c" stroke-width="0.8"/>
<line x1="400.6" y1="185.82" x2="402.6" y2="185.82" stroke="#1c1c1c" stroke-width="0.8"/>
<line x1="399.4" y1="182.2" x2="402.6" y2="182.2" stroke="#1c1c1c" stroke-width="0.8"/>
<text x="396.3" y="184.7" font-size="7.9" text-anchor="end">20</text>
<line x1="400.6" y1="178.65" x2="402.6" y2="178.65" stroke="#1c1c1c" stroke-width="0.8"/>
<line x1="400.6" y1="175.1" x2="402.6" y2="175.1" stroke="#1c1c1c" stroke-width="0.8"/>
<line x1="400.6" y1="171.55" x2="402.6" y2="171.55" stroke="#1c1c1c" stroke-width="0.8"/>
<line x1="399.4" y1="168" x2="402.6" y2="168" stroke="#1c1c1c" stroke-width="0.8"/>
<text x="396.3" y="170.5" font-size="7.9" text-anchor="end">40</text>
<line x1="400.6" y1="164.32" x2="402.6" y2="164.32" stroke="#1c1c1c" stroke-width="0.8"/>
<line x1="400.6" y1="160.65" x2="402.6" y2="160.65" stroke="#1c1c1c" stroke-width="0.8"/>
<line x1="400.6" y1="156.98" x2="402.6" y2="156.98" stroke="#1c1c1c" stroke-width="0.8"/>
<line x1="399.4" y1="153.3" x2="402.6" y2="153.3" stroke="#1c1c1c" stroke-width="0.8"/>
<text x="396.3" y="155.8" font-size="7.9" text-anchor="end">60</text>
<line x1="400.6" y1="149.7" x2="402.6" y2="149.7" stroke="#1c1c1c" stroke-width="0.8"/>
<line x1="400.6" y1="146.1" x2="402.6" y2="146.1" stroke="#1c1c1c" stroke-width="0.8"/>
<line x1="400.6" y1="142.5" x2="402.6" y2="142.5" stroke="#1c1c1c" stroke-width="0.8"/>
<line x1="399.4" y1="138.9" x2="402.6" y2="138.9" stroke="#1c1c1c" stroke-width="0.8"/>
<text x="396.3" y="141.4" font-size="7.9" text-anchor="end">80</text>
<line x1="400.6" y1="134.53" x2="402.6" y2="134.53" stroke="#1c1c1c" stroke-width="0.8"/>
<line x1="400.6" y1="130.15" x2="402.6" y2="130.15" stroke="#1c1c1c" stroke-width="0.8"/>
<line x1="400.6" y1="125.78" x2="402.6" y2="125.78" stroke="#1c1c1c" stroke-width="0.8"/>
<line x1="399.4" y1="121.4" x2="402.6" y2="121.4" stroke="#1c1c1c" stroke-width="0.8"/>
<text x="396.3" y="123.9" font-size="7.9" text-anchor="end">100</text>
<line x1="408.58" y1="196.9" x2="408.58" y2="198.5" stroke="#1c1c1c" stroke-width="0.7"/>
<line x1="412.07" y1="196.9" x2="412.07" y2="198.5" stroke="#1c1c1c" stroke-width="0.7"/>
<line x1="414.55" y1="196.9" x2="414.55" y2="198.5" stroke="#1c1c1c" stroke-width="0.7"/>
<line x1="416.47" y1="196.9" x2="416.47" y2="198.5" stroke="#1c1c1c" stroke-width="0.7"/>
<line x1="418.05" y1="196.9" x2="418.05" y2="198.5" stroke="#1c1c1c" stroke-width="0.7"/>
<line x1="419.38" y1="196.9" x2="419.38" y2="198.5" stroke="#1c1c1c" stroke-width="0.7"/>
<line x1="420.53" y1="196.9" x2="420.53" y2="198.5" stroke="#1c1c1c" stroke-width="0.7"/>
<line x1="421.54" y1="196.9" x2="421.54" y2="198.5" stroke="#1c1c1c" stroke-width="0.7"/>
<line x1="428.43" y1="196.9" x2="428.43" y2="198.5" stroke="#1c1c1c" stroke-width="0.7"/>
<line x1="431.92" y1="196.9" x2="431.92" y2="198.5" stroke="#1c1c1c" stroke-width="0.7"/>
<line x1="434.4" y1="196.9" x2="434.4" y2="198.5" stroke="#1c1c1c" stroke-width="0.7"/>
<line x1="436.32" y1="196.9" x2="436.32" y2="198.5" stroke="#1c1c1c" stroke-width="0.7"/>
<line x1="437.9" y1="196.9" x2="437.9" y2="198.5" stroke="#1c1c1c" stroke-width="0.7"/>
<line x1="439.23" y1="196.9" x2="439.23" y2="198.5" stroke="#1c1c1c" stroke-width="0.7"/>
<line x1="440.38" y1="196.9" x2="440.38" y2="198.5" stroke="#1c1c1c" stroke-width="0.7"/>
<line x1="441.39" y1="196.9" x2="441.39" y2="198.5" stroke="#1c1c1c" stroke-width="0.7"/>
<line x1="448.28" y1="196.9" x2="448.28" y2="198.5" stroke="#1c1c1c" stroke-width="0.7"/>
<line x1="451.77" y1="196.9" x2="451.77" y2="198.5" stroke="#1c1c1c" stroke-width="0.7"/>
<line x1="454.25" y1="196.9" x2="454.25" y2="198.5" stroke="#1c1c1c" stroke-width="0.7"/>
<line x1="456.17" y1="196.9" x2="456.17" y2="198.5" stroke="#1c1c1c" stroke-width="0.7"/>
<line x1="457.75" y1="196.9" x2="457.75" y2="198.5" stroke="#1c1c1c" stroke-width="0.7"/>
<line x1="459.08" y1="196.9" x2="459.08" y2="198.5" stroke="#1c1c1c" stroke-width="0.7"/>
<line x1="460.23" y1="196.9" x2="460.23" y2="198.5" stroke="#1c1c1c" stroke-width="0.7"/>
<line x1="461.24" y1="196.9" x2="461.24" y2="198.5" stroke="#1c1c1c" stroke-width="0.7"/>
<line x1="468.13" y1="196.9" x2="468.13" y2="198.5" stroke="#1c1c1c" stroke-width="0.7"/>
<line x1="471.62" y1="196.9" x2="471.62" y2="198.5" stroke="#1c1c1c" stroke-width="0.7"/>
<line x1="474.1" y1="196.9" x2="474.1" y2="198.5" stroke="#1c1c1c" stroke-width="0.7"/>
<line x1="476.02" y1="196.9" x2="476.02" y2="198.5" stroke="#1c1c1c" stroke-width="0.7"/>
<line x1="477.6" y1="196.9" x2="477.6" y2="198.5" stroke="#1c1c1c" stroke-width="0.7"/>
<line x1="478.93" y1="196.9" x2="478.93" y2="198.5" stroke="#1c1c1c" stroke-width="0.7"/>
<line x1="480.08" y1="196.9" x2="480.08" y2="198.5" stroke="#1c1c1c" stroke-width="0.7"/>
<line x1="481.09" y1="196.9" x2="481.09" y2="198.5" stroke="#1c1c1c" stroke-width="0.7"/>
<line x1="402.6" y1="196.9" x2="402.6" y2="199.7" stroke="#1c1c1c" stroke-width="0.9"/>
<text x="402" y="209.5" font-size="7.9" text-anchor="middle">10<tspan font-size="5.6" dy="-3.5">0</tspan></text>
<line x1="422.45" y1="196.9" x2="422.45" y2="199.7" stroke="#1c1c1c" stroke-width="0.9"/>
<text x="421.85" y="209.5" font-size="7.9" text-anchor="middle">10<tspan font-size="5.6" dy="-3.5">1</tspan></text>
<line x1="442.3" y1="196.9" x2="442.3" y2="199.7" stroke="#1c1c1c" stroke-width="0.9"/>
<text x="441.7" y="209.5" font-size="7.9" text-anchor="middle">10<tspan font-size="5.6" dy="-3.5">2</tspan></text>
<line x1="462.15" y1="196.9" x2="462.15" y2="199.7" stroke="#1c1c1c" stroke-width="0.9"/>
<text x="461.55" y="209.5" font-size="7.9" text-anchor="middle">10<tspan font-size="5.6" dy="-3.5">3</tspan></text>
<line x1="482" y1="196.9" x2="482" y2="199.7" stroke="#1c1c1c" stroke-width="0.9"/>
<text x="481.4" y="209.5" font-size="7.9" text-anchor="middle">10<tspan font-size="5.6" dy="-3.5">4</tspan></text>
<rect x="402.6" y="117.7" width="80.4" height="79.2" fill="none" stroke="#1c1c1c" stroke-width="1.05"/>
<polyline points="292.31,68.89 293.37,66.17 294.03,64.64 295.03,62.04 296.08,59.94 297.22,47.4 298.12,38.24 299.41,38.15 300.62,38.68 301.99,32.03 302.52,28.27 303.65,31.79 304.5,27.4 305.43,32.01 306.44,34.53 307.83,45.98 309,62.18 310.56,80.43 311.84,91.47 313.32,97.34 314.21,98.15 315.15,99.04 315.94,99.1 316.74,99.17 317.54,99.24 318.34,99.31 319.14,99.38 319.94,99.44 320.74,99.51 321.54,99.58 322.31,99.6 323.07,99.62 323.84,99.64 324.61,99.66 325.38,99.68 326.15,99.7 326.92,99.72 327.69,99.74 328.46,99.75 329.23,99.77 330,99.79 330.77,99.81 331.54,99.83 332.3,99.85 333.07,99.87 333.84,99.89 334.61,99.91 335.38,99.93 336.15,99.95 336.9,99.95 337.66,99.95 338.41,99.95 339.16,99.95 339.92,99.95 340.67,99.95 341.42,99.95 342.18,99.95 342.93,99.95 343.68,99.95 344.43,99.95 345.19,99.95 345.94,99.95 346.69,99.95 347.45,99.95 348.2,99.95 348.95,99.95 349.71,99.95 350.46,99.95 351.21,99.95 351.97,99.95 352.72,99.95 353.47,99.95 354.23,99.95 354.98,99.95 355.73,99.95 356.48,99.95 357.24,99.95 357.99,99.95 358.74,99.95 359.5,99.95 360.25,99.95 361,99.95 361.76,99.95 362.51,99.95 363.26,99.95 364.02,99.95 364.77,99.95 365.52,99.95 366.27,99.95 367.03,99.95 367.78,99.95 368.53,99.95 369.29,99.95 370.04,99.95 370.79,99.95 371.55,99.95 372.3,99.95 373.05,99.95" fill="none" stroke="#c8102e" stroke-width="1.35" stroke-linejoin="round"/>
<polyline points="292.31,36.01 292.5,89.53 293.05,87.54 294.23,87.56 294.97,86.45 296.01,85.46 296.73,83.15 297.74,80.68 298.91,75.55 299.63,70.34 300.43,67.91 301.24,65.59 302.28,62.46 303.43,58.7 304.76,50.65 305.81,41.17 307.13,36.71 308.96,32.37 309.53,29.82 310.7,29.17 311.66,31.72 312.52,35.41 314.07,43.14 315,49.35 316.15,51.84 316.98,54.23 318.06,58.37 318.94,62.5 319.87,63.24 320.61,64.8 321.71,65.32 322.63,65.96 323.65,65.82 325.05,65.48 326.55,64.81 327.85,73.95 328.93,78.57 329.76,82.6 330.71,86.43 331.46,89.67 332.68,92.65 333.3,95.47 334.36,97.16 335.23,98.71 336.15,99.1 337.06,99.52 337.98,99.95 338.74,99.95 339.5,99.95 340.27,99.95 341.03,99.95 341.79,99.95 342.55,99.95 343.32,99.95 344.08,99.95 344.84,99.95 345.6,99.95 346.37,99.95 347.13,99.95 347.89,99.95 348.65,99.95 349.42,99.95 350.18,99.95 350.94,99.95 351.7,99.95 352.47,99.95 353.23,99.95 353.99,99.95 354.75,99.95 355.52,99.95 356.28,99.95 357.04,99.95 357.8,99.95 358.57,99.95 359.33,99.95 360.09,99.95 360.85,99.95 361.62,99.95 362.38,99.95 363.14,99.95 363.9,99.95 364.67,99.95 365.43,99.95 366.19,99.95 366.95,99.95 367.72,99.95 368.48,99.95 369.24,99.95 370,99.95 370.77,99.95 371.53,99.95 372.29,99.95 373.05,99.95" fill="none" stroke="#15508c" stroke-width="1.35" stroke-linejoin="round"/>
<polyline points="402.31,75.28 403.24,72.53 404.18,70.26 404.87,68.13 406.1,64.04 406.76,60.99 407.78,58.52 408.69,55.59 409.47,52.62 410.68,49.87 411.54,48.37 412.17,47.18 413.31,39.97 413.98,36.68 414.72,32.79 415.62,40.84 416.73,42.66 417.96,51.41 418.93,59.69 419.49,68.43 420.46,75.76 421.46,84.98 422.32,90.05 423.29,95.39 424.24,96.52 425.18,97.84 426.06,99.04 426.84,99.11 427.62,99.19 428.4,99.27 429.19,99.35 429.97,99.43 430.75,99.5 431.54,99.58 432.31,99.6 433.07,99.62 433.84,99.64 434.61,99.66 435.38,99.68 436.15,99.7 436.92,99.72 437.69,99.74 438.46,99.75 439.23,99.77 440,99.79 440.77,99.81 441.54,99.83 442.3,99.85 443.07,99.87 443.84,99.89 444.61,99.91 445.38,99.93 446.15,99.95 446.9,99.95 447.66,99.95 448.41,99.95 449.16,99.95 449.92,99.95 450.67,99.95 451.42,99.95 452.18,99.95 452.93,99.95 453.68,99.95 454.43,99.95 455.19,99.95 455.94,99.95 456.69,99.95 457.45,99.95 458.2,99.95 458.95,99.95 459.71,99.95 460.46,99.95 461.21,99.95 461.97,99.95 462.72,99.95 463.47,99.95 464.23,99.95 464.98,99.95 465.73,99.95 466.48,99.95 467.24,99.95 467.99,99.95 468.74,99.95 469.5,99.95 470.25,99.95 471,99.95 471.76,99.95 472.51,99.95 473.26,99.95 474.02,99.95 474.77,99.95 475.52,99.95 476.27,99.95 477.03,99.95 477.78,99.95 478.53,99.95 479.29,99.95 480.04,99.95 480.79,99.95 481.55,99.95 482.3,99.95 483.05,99.95" fill="none" stroke="#c8102e" stroke-width="1.35" stroke-linejoin="round"/>
<polyline points="402.31,89.9 403.05,87.15 403.99,84.9 405.01,82.07 406.09,80.96 406.76,78.65 407.69,76.24 408.54,73.52 409.79,71.29 410.66,68.37 411.31,64.68 412.41,59.53 413.42,55.47 414.01,51.54 415.17,47.1 415.87,42.41 417.11,33.24 418.9,31.05 419.94,28.76 421.52,31.02 422.91,35.55 424.19,44.24 425.66,55.31 426.89,57.52 427.69,61.05 428.85,62.87 429.72,64.97 430.56,67.03 431.41,65.56 432.32,62.76 433.63,69.05 434.75,68.26 435.58,67.76 436.3,69.38 437.27,69.28 438.89,75.6 439.69,78.62 440.65,82.21 441.67,85.7 442.69,90.37 443.6,92.92 444.27,95.02 445.27,97.39 446.15,99.03 447.06,99.26 447.98,99.49 448.89,99.72 449.8,99.95 450.56,99.95 451.32,99.95 452.07,99.95 452.83,99.95 453.58,99.95 454.34,99.95 455.09,99.95 455.85,99.95 456.61,99.95 457.36,99.95 458.12,99.95 458.87,99.95 459.63,99.95 460.38,99.95 461.14,99.95 461.89,99.95 462.65,99.95 463.41,99.95 464.16,99.95 464.92,99.95 465.67,99.95 466.43,99.95 467.18,99.95 467.94,99.95 468.7,99.95 469.45,99.95 470.21,99.95 470.96,99.95 471.72,99.95 472.47,99.95 473.23,99.95 473.98,99.95 474.74,99.95 475.5,99.95 476.25,99.95 477.01,99.95 477.76,99.95 478.52,99.95 479.27,99.95 480.03,99.95 480.79,99.95 481.54,99.95 482.3,99.95 483.05,99.95" fill="none" stroke="#15508c" stroke-width="1.35" stroke-linejoin="round"/>
<polyline points="292.67,173.28 293.87,167.95 294.69,163.59 295.77,162.61 296.86,162.67 297.85,155.55 299.09,146.36 300.06,141.74 301.11,137.71 301.87,134.79 303.08,132.83 304.04,125.19 304.94,128.88 305.85,124.1 307.08,127.02 307.72,123.61 308.91,130.93 309.86,134.67 311.02,147.76 312.59,160.14 314.06,173.51 314.69,179.24 315.55,184.08 316.42,187.47 317.55,191.38 318.64,193.13 319.7,195.19 320.62,195.51 321.54,195.75 322.45,196.03 323.36,196.3 324.13,196.32 324.9,196.34 325.67,196.36 326.44,196.38 327.21,196.4 327.98,196.42 328.75,196.44 329.52,196.46 330.29,196.48 331.06,196.5 331.82,196.51 332.59,196.53 333.36,196.55 334.13,196.57 334.9,196.59 335.67,196.61 336.44,196.63 337.21,196.65 337.98,196.67 338.74,196.67 339.49,196.67 340.25,196.67 341.01,196.67 341.77,196.67 342.53,196.67 343.28,196.67 344.04,196.67 344.8,196.67 345.56,196.67 346.31,196.67 347.07,196.67 347.83,196.67 348.59,196.67 349.35,196.67 350.1,196.67 350.86,196.67 351.62,196.67 352.38,196.67 353.14,196.67 353.89,196.67 354.65,196.67 355.41,196.67 356.17,196.67 356.93,196.67 357.68,196.67 358.44,196.67 359.2,196.67 359.96,196.67 360.72,196.67 361.47,196.67 362.23,196.67 362.99,196.67 363.75,196.67 364.51,196.67 365.26,196.67 366.02,196.67 366.78,196.67 367.54,196.67 368.3,196.67 369.05,196.67 369.81,196.67 370.57,196.67 371.33,196.67 372.08,196.67 372.84,196.67 373.6,196.67" fill="none" stroke="#c8102e" stroke-width="1.35" stroke-linejoin="round"/>
<polyline points="292.67,193.38 293.54,192.67 294.18,191.54 295.11,190.12 296.07,189.69 296.99,188.66 297.91,187.63 298.67,187.26 299.69,186.12 300.55,184.79 301.34,184.16 302.43,182.78 303.2,179.64 304.31,175.54 305.07,174.11 305.88,170.97 306.83,168.88 307.87,166.52 308.81,162.88 309.84,160.33 310.58,157.79 311.57,154.28 312.97,148.08 314.17,141.66 315.61,135.96 316.8,131.38 317.89,132.64 319.41,129.89 320.68,124.65 321.75,130.34 323.52,129.09 324.62,136.99 325.9,142.56 327.55,149.34 328.76,158.81 329.71,164 330.88,169.18 332.1,179.14 333,184.08 333.85,188.48 335.02,191.14 335.85,193.46 336.91,194.74 337.98,196.12 338.89,196.39 339.8,196.67 340.56,196.67 341.31,196.67 342.06,196.67 342.81,196.67 343.56,196.67 344.31,196.67 345.06,196.67 345.81,196.67 346.56,196.67 347.31,196.67 348.07,196.67 348.82,196.67 349.57,196.67 350.32,196.67 351.07,196.67 351.82,196.67 352.57,196.67 353.32,196.67 354.07,196.67 354.83,196.67 355.58,196.67 356.33,196.67 357.08,196.67 357.83,196.67 358.58,196.67 359.33,196.67 360.08,196.67 360.83,196.67 361.58,196.67 362.34,196.67 363.09,196.67 363.84,196.67 364.59,196.67 365.34,196.67 366.09,196.67 366.84,196.67 367.59,196.67 368.34,196.67 369.09,196.67 369.85,196.67 370.6,196.67 371.35,196.67 372.1,196.67 372.85,196.67 373.6,196.67" fill="none" stroke="#15508c" stroke-width="1.35" stroke-linejoin="round"/>
<polyline points="402.31,176.94 403.07,174.9 403.95,173.47 404.99,171.5 405.96,169.1 407.39,158.12 408.16,154.5 409.39,151.27 410.05,147.71 411.26,145.12 411.95,140.95 412.71,137.32 414.09,131.7 414.57,125.36 416.14,125.19 416.96,127.23 418.33,135.09 419.48,143.2 420.82,150.83 422.37,160.71 423.9,169.41 424.69,175.06 425.77,180.95 426.64,184.4 427.67,188.84 428.54,191.32 429.64,193.62 430.66,193.9 431.54,194.38 432.46,194.95 433.36,195.59 434.17,195.69 434.99,195.78 435.8,195.88 436.61,195.98 437.42,196.08 438.23,196.18 439.05,196.28 439.86,196.38 440.67,196.49 441.48,196.51 442.29,196.53 443.11,196.55 443.92,196.57 444.73,196.59 445.54,196.61 446.35,196.63 447.17,196.65 447.98,196.67 448.74,196.67 449.5,196.67 450.27,196.67 451.03,196.67 451.79,196.67 452.55,196.67 453.32,196.67 454.08,196.67 454.84,196.67 455.6,196.67 456.37,196.67 457.13,196.67 457.89,196.67 458.65,196.67 459.42,196.67 460.18,196.67 460.94,196.67 461.7,196.67 462.47,196.67 463.23,196.67 463.99,196.67 464.75,196.67 465.52,196.67 466.28,196.67 467.04,196.67 467.8,196.67 468.57,196.67 469.33,196.67 470.09,196.67 470.85,196.67 471.62,196.67 472.38,196.67 473.14,196.67 473.9,196.67 474.67,196.67 475.43,196.67 476.19,196.67 476.95,196.67 477.72,196.67 478.48,196.67 479.24,196.67 480,196.67 480.77,196.67 481.53,196.67 482.29,196.67 483.05,196.67" fill="none" stroke="#c8102e" stroke-width="1.35" stroke-linejoin="round"/>
<polyline points="402.31,120.67 402.39,193.24 403.26,192.95 404.08,192.68 404.98,193.01 405.95,192.56 406.87,191.97 407.89,191.29 408.61,190.7 409.53,190.14 410.69,189.85 411.28,189.12 412.56,188.29 413.32,187.38 414.25,185.93 415.18,184.05 416.07,182.42 416.96,181.07 417.65,178.34 418.74,177.47 419.85,174.29 420.67,172.47 421.4,169.63 422.56,165.81 423.43,161.89 424.31,158.19 425.88,152.52 426.97,147.21 428.1,140.04 429.35,134.96 430.79,129.84 431.62,127.62 432.34,125.82 433.3,128.86 434.24,132.82 435.7,134.77 436.88,143.61 438.34,151.24 439.96,159.78 441.15,167.45 442.29,176.7 443.89,185.48 444.85,187.96 445.76,191.32 446.87,193.35 447.97,195.22 448.89,195.68 449.8,196.18 450.72,196.67 451.47,196.67 452.22,196.67 452.97,196.67 453.73,196.67 454.48,196.67 455.23,196.67 455.98,196.67 456.73,196.67 457.49,196.67 458.24,196.67 458.99,196.67 459.74,196.67 460.49,196.67 461.25,196.67 462,196.67 462.75,196.67 463.5,196.67 464.25,196.67 465.01,196.67 465.76,196.67 466.51,196.67 467.26,196.67 468.01,196.67 468.77,196.67 469.52,196.67 470.27,196.67 471.02,196.67 471.77,196.67 472.53,196.67 473.28,196.67 474.03,196.67 474.78,196.67 475.53,196.67 476.28,196.67 477.04,196.67 477.79,196.67 478.54,196.67 479.29,196.67 480.04,196.67 480.8,196.67 481.55,196.67 482.3,196.67 483.05,196.67" fill="none" stroke="#15508c" stroke-width="1.35" stroke-linejoin="round"/>
<text x="488.2" y="59.3" font-size="8.8" textLength="23.8" lengthAdjust="spacingAndGlyphs">Day 0</text>
<text x="488.2" y="156.8" font-size="8.8" textLength="23.8" lengthAdjust="spacingAndGlyphs">Day 4</text>
<line x1="293.1" y1="216" x2="369.6" y2="216" stroke="#000" stroke-width="1.1"/>
<path d="M373.6 216L368 213.1L368 218.9Z" fill="#000"/>
<line x1="402.3" y1="216" x2="479.2" y2="216" stroke="#000" stroke-width="1.1"/>
<path d="M483.2 216L477.6 213.1L477.6 218.9Z" fill="#000"/>
<text x="333.2" y="227" font-size="9.5" text-anchor="middle" textLength="22.8" lengthAdjust="spacingAndGlyphs">CD62P</text>
<text x="441.8" y="227" font-size="9.5" text-anchor="middle" textLength="19.8" lengthAdjust="spacingAndGlyphs">Jon/A</text>
<line x1="269.4" y1="199.8" x2="269.4" y2="25.9" stroke="#000" stroke-width="1.0"/>
<path d="M269.4 21.9L266.6 26.7L272.2 26.7Z" fill="#000"/>
<text x="264.9" y="107" font-size="9.8" text-anchor="middle" textLength="20.2" lengthAdjust="spacingAndGlyphs" transform="rotate(-90 264.9 107)">Max%</text>
<text x="7.4" y="139.9" font-size="10.5" font-weight="bold" fill="#000">D</text>
<text x="70" y="140.3" font-size="10" text-anchor="middle" textLength="29.5" lengthAdjust="spacingAndGlyphs">CD62P</text>
<text x="160" y="140.2" font-size="10" text-anchor="middle" textLength="26" lengthAdjust="spacingAndGlyphs">Jon/A</text>
<rect x="45.1" y="199.2" width="6.8" height="3.1" fill="#e3828f"/>
<rect x="56.2" y="188.2" width="7.6" height="14.1" fill="#e3828f"/>
<rect x="75.2" y="198.8" width="8.2" height="3.5" fill="#8aa9c9"/>
<rect x="87" y="175.6" width="7.8" height="26.7" fill="#8aa9c9"/>
<line x1="40.8" y1="146.3" x2="40.8" y2="202.8" stroke="#1c1c1c" stroke-width="1.1"/>
<line x1="38" y1="150.3" x2="40.8" y2="150.3" stroke="#1c1c1c" stroke-width="1"/>
<text x="34.7" y="153.1" font-size="7.8" text-anchor="end" textLength="8.2" lengthAdjust="spacingAndGlyphs">70</text>
<line x1="38" y1="165.3" x2="40.8" y2="165.3" stroke="#1c1c1c" stroke-width="1"/>
<text x="34.7" y="168.1" font-size="7.8" text-anchor="end" textLength="8.2" lengthAdjust="spacingAndGlyphs">50</text>
<line x1="38" y1="180" x2="40.8" y2="180" stroke="#1c1c1c" stroke-width="1"/>
<text x="34.7" y="182.8" font-size="7.8" text-anchor="end" textLength="8.2" lengthAdjust="spacingAndGlyphs">30</text>
<line x1="38" y1="194.8" x2="40.8" y2="194.8" stroke="#1c1c1c" stroke-width="1"/>
<text x="34.7" y="197.6" font-size="7.8" text-anchor="end" textLength="8.2" lengthAdjust="spacingAndGlyphs">10</text>
<line x1="40.3" y1="202.3" x2="102.3" y2="202.3" stroke="#1c1c1c" stroke-width="1.1"/>
<line x1="48.5" y1="202.3" x2="48.5" y2="205.3" stroke="#1c1c1c" stroke-width="1"/>
<line x1="59.9" y1="202.3" x2="59.9" y2="205.3" stroke="#1c1c1c" stroke-width="1"/>
<line x1="79" y1="202.3" x2="79" y2="205.3" stroke="#1c1c1c" stroke-width="1"/>
<line x1="90.6" y1="202.3" x2="90.6" y2="205.3" stroke="#1c1c1c" stroke-width="1"/>
<rect x="45.1" y="199" width="2.4" height="2.4" fill="#c8102e"/>
<rect x="46.4" y="199" width="2.4" height="2.4" fill="#c8102e"/>
<rect x="47.7" y="199" width="2.4" height="2.4" fill="#c8102e"/>
<rect x="49" y="199" width="2.4" height="2.4" fill="#c8102e"/>
<rect x="50.1" y="199" width="2.4" height="2.4" fill="#c8102e"/>
<rect x="45.5" y="198.2" width="2.0" height="2.0" fill="#c8102e"/>
<rect x="47" y="198.2" width="2.0" height="2.0" fill="#c8102e"/>
<rect x="48.5" y="198.2" width="2.0" height="2.0" fill="#c8102e"/>
<rect x="50" y="198.2" width="2.0" height="2.0" fill="#c8102e"/>
<circle cx="76.5" cy="200.3" r="1.4" fill="#15508c"/>
<circle cx="78" cy="200.3" r="1.4" fill="#15508c"/>
<circle cx="79.5" cy="200.3" r="1.4" fill="#15508c"/>
<circle cx="81" cy="200.3" r="1.4" fill="#15508c"/>
<circle cx="82.3" cy="200.3" r="1.4" fill="#15508c"/>
<circle cx="77" cy="199.1" r="1.3" fill="#15508c"/>
<circle cx="78.5" cy="199.1" r="1.3" fill="#15508c"/>
<circle cx="80" cy="199.1" r="1.3" fill="#15508c"/>
<circle cx="81.5" cy="199.1" r="1.3" fill="#15508c"/>
<rect x="58.35" y="179.75" width="2.9" height="2.9" fill="#c8102e"/>
<rect x="56.15" y="184.75" width="2.9" height="2.9" fill="#c8102e"/>
<rect x="61.15" y="185.35" width="2.9" height="2.9" fill="#c8102e"/>
<rect x="56.15" y="189.25" width="2.9" height="2.9" fill="#c8102e"/>
<rect x="61.15" y="189.25" width="2.9" height="2.9" fill="#c8102e"/>
<rect x="56.15" y="192.55" width="2.9" height="2.9" fill="#c8102e"/>
<rect x="58.35" y="192.55" width="2.9" height="2.9" fill="#c8102e"/>
<rect x="61.15" y="192.05" width="2.9" height="2.9" fill="#c8102e"/>
<rect x="56.15" y="195.35" width="2.9" height="2.9" fill="#c8102e"/>
<rect x="61.15" y="195.65" width="2.9" height="2.9" fill="#c8102e"/>
<rect x="58.35" y="187.55" width="2.9" height="2.9" fill="#c8102e"/>
<rect x="58.35" y="197.05" width="2.9" height="2.9" fill="#c8102e"/>
<line x1="57.7" y1="189" x2="62.1" y2="189" stroke="#333" stroke-width="0.8"/>
<line x1="59.9" y1="184.5" x2="59.9" y2="193.5" stroke="#333" stroke-width="0.8"/>
<line x1="57.9" y1="184.5" x2="61.9" y2="184.5" stroke="#333" stroke-width="0.8"/>
<line x1="57.9" y1="193.5" x2="61.9" y2="193.5" stroke="#333" stroke-width="0.8"/>
<path d="M90.5 158L92.5 160L90.5 162L88.5 160Z" fill="#15508c"/>
<path d="M90.5 161L92.5 163L90.5 165L88.5 163Z" fill="#15508c"/>
<path d="M90.5 164.1L92.5 166.1L90.5 168.1L88.5 166.1Z" fill="#15508c"/>
<path d="M90.5 167.3L92.5 169.3L90.5 171.3L88.5 169.3Z" fill="#15508c"/>
<path d="M88.3 170.8L90.3 172.8L88.3 174.8L86.3 172.8Z" fill="#15508c"/>
<path d="M90.5 171.4L92.5 173.4L90.5 175.4L88.5 173.4Z" fill="#15508c"/>
<path d="M93.3 170.8L95.3 172.8L93.3 174.8L91.3 172.8Z" fill="#15508c"/>
<path d="M88.3 175.3L90.3 177.3L88.3 179.3L86.3 177.3Z" fill="#15508c"/>
<path d="M93.3 174.2L95.3 176.2L93.3 178.2L91.3 176.2Z" fill="#15508c"/>
<path d="M90.5 176.4L92.5 178.4L90.5 180.4L88.5 178.4Z" fill="#15508c"/>
<path d="M90 181.4L92 183.4L90 185.4L88 183.4Z" fill="#15508c"/>
<path d="M92.7 182.5L94.7 184.5L92.7 186.5L90.7 184.5Z" fill="#15508c"/>
<path d="M89.4 185.3L91.4 187.3L89.4 189.3L87.4 187.3Z" fill="#15508c"/>
<path d="M91.5 173L93.5 175L91.5 177L89.5 175Z" fill="#15508c"/>
<line x1="88.2" y1="175.6" x2="93" y2="175.6" stroke="#333" stroke-width="0.8"/>
<line x1="90.6" y1="166.1" x2="90.6" y2="183.4" stroke="#333" stroke-width="0.8"/>
<line x1="88.4" y1="166.1" x2="92.8" y2="166.1" stroke="#333" stroke-width="0.8"/>
<line x1="88.4" y1="183.4" x2="92.8" y2="183.4" stroke="#333" stroke-width="0.8"/>
<line x1="46.2" y1="176.4" x2="63.4" y2="176.4" stroke="#777" stroke-width="1.1"/>
<polygon points="50.8,171.6 51.3,172.91 52.7,172.98 51.61,173.86 51.98,175.22 50.8,174.45 49.62,175.22 49.99,173.86 48.9,172.98 50.3,172.91" fill="#111"/>
<polygon points="54.8,171.6 55.3,172.91 56.7,172.98 55.61,173.86 55.98,175.22 54.8,174.45 53.62,175.22 53.99,173.86 52.9,172.98 54.3,172.91" fill="#111"/>
<polygon points="58.8,171.6 59.3,172.91 60.7,172.98 59.61,173.86 59.98,175.22 58.8,174.45 57.62,175.22 57.99,173.86 56.9,172.98 58.3,172.91" fill="#111"/>
<line x1="58.2" y1="155.9" x2="95" y2="155.9" stroke="#777" stroke-width="1.1"/>
<polygon points="72.6,151.1 73.1,152.41 74.5,152.48 73.41,153.36 73.78,154.72 72.6,153.95 71.42,154.72 71.79,153.36 70.7,152.48 72.1,152.41" fill="#111"/>
<polygon points="76.6,151.1 77.1,152.41 78.5,152.48 77.41,153.36 77.78,154.72 76.6,153.95 75.42,154.72 75.79,153.36 74.7,152.48 76.1,152.41" fill="#111"/>
<polygon points="80.6,151.1 81.1,152.41 82.5,152.48 81.41,153.36 81.78,154.72 80.6,153.95 79.42,154.72 79.79,153.36 78.7,152.48 80.1,152.41" fill="#111"/>
<text x="7.3" y="212.3" font-size="7.6" textLength="33.5" lengthAdjust="spacingAndGlyphs">Thrombin</text>
<text x="48.3" y="212.6" font-size="8.4" text-anchor="middle">&#8211;</text>
<text x="60" y="212.6" font-size="8.4" text-anchor="middle">+</text>
<text x="79.2" y="212.6" font-size="8.4" text-anchor="middle">&#8211;</text>
<text x="90.7" y="212.6" font-size="8.4" text-anchor="middle">+</text>
<text x="20.2" y="172.9" font-size="9.8" text-anchor="middle" textLength="12" lengthAdjust="spacingAndGlyphs" transform="rotate(-90 20.2 172.9)">MFI</text>
<rect x="138.6" y="199.2" width="7.2" height="2.8" fill="#e3828f"/>
<rect x="150.2" y="194.4" width="7.4" height="7.6" fill="#e3828f"/>
<rect x="169.3" y="199.4" width="7.4" height="2.6" fill="#8aa9c9"/>
<rect x="180.5" y="174.8" width="7.5" height="27.2" fill="#8aa9c9"/>
<line x1="134.9" y1="147.5" x2="134.9" y2="202.5" stroke="#1c1c1c" stroke-width="1.1"/>
<line x1="132.1" y1="151.3" x2="134.9" y2="151.3" stroke="#1c1c1c" stroke-width="1"/>
<text x="129.3" y="154.1" font-size="7.8" text-anchor="end" textLength="8.2" lengthAdjust="spacingAndGlyphs">80</text>
<line x1="132.1" y1="164.3" x2="134.9" y2="164.3" stroke="#1c1c1c" stroke-width="1"/>
<text x="129.3" y="167.1" font-size="7.8" text-anchor="end" textLength="8.2" lengthAdjust="spacingAndGlyphs">60</text>
<line x1="132.1" y1="177" x2="134.9" y2="177" stroke="#1c1c1c" stroke-width="1"/>
<text x="129.3" y="179.8" font-size="7.8" text-anchor="end" textLength="8.2" lengthAdjust="spacingAndGlyphs">40</text>
<line x1="132.1" y1="189.5" x2="134.9" y2="189.5" stroke="#1c1c1c" stroke-width="1"/>
<text x="129.3" y="192.3" font-size="7.8" text-anchor="end" textLength="8.2" lengthAdjust="spacingAndGlyphs">20</text>
<line x1="132.1" y1="202" x2="134.9" y2="202" stroke="#1c1c1c" stroke-width="1"/>
<text x="129.3" y="204.8" font-size="7.8" text-anchor="end">0</text>
<line x1="134.4" y1="202" x2="196.8" y2="202" stroke="#1c1c1c" stroke-width="1.1"/>
<line x1="142" y1="202" x2="142" y2="205" stroke="#1c1c1c" stroke-width="1"/>
<line x1="153.2" y1="202" x2="153.2" y2="205" stroke="#1c1c1c" stroke-width="1"/>
<line x1="173" y1="202" x2="173" y2="205" stroke="#1c1c1c" stroke-width="1"/>
<line x1="184.3" y1="202" x2="184.3" y2="205" stroke="#1c1c1c" stroke-width="1"/>
<rect x="138.4" y="199.2" width="2.4" height="2.4" fill="#c8102e"/>
<rect x="139.8" y="199.2" width="2.4" height="2.4" fill="#c8102e"/>
<rect x="141.2" y="199.2" width="2.4" height="2.4" fill="#c8102e"/>
<rect x="142.6" y="199.2" width="2.4" height="2.4" fill="#c8102e"/>
<rect x="143.8" y="199.2" width="2.4" height="2.4" fill="#c8102e"/>
<rect x="139" y="198.4" width="2.0" height="2.0" fill="#c8102e"/>
<rect x="140.6" y="198.4" width="2.0" height="2.0" fill="#c8102e"/>
<rect x="142.2" y="198.4" width="2.0" height="2.0" fill="#c8102e"/>
<rect x="143.6" y="198.4" width="2.0" height="2.0" fill="#c8102e"/>
<circle cx="170.5" cy="200.4" r="1.4" fill="#15508c"/>
<circle cx="172" cy="200.4" r="1.4" fill="#15508c"/>
<circle cx="173.5" cy="200.4" r="1.4" fill="#15508c"/>
<circle cx="175" cy="200.4" r="1.4" fill="#15508c"/>
<circle cx="176.2" cy="200.4" r="1.4" fill="#15508c"/>
<circle cx="171" cy="199.2" r="1.3" fill="#15508c"/>
<circle cx="172.6" cy="199.2" r="1.3" fill="#15508c"/>
<circle cx="174.2" cy="199.2" r="1.3" fill="#15508c"/>
<circle cx="175.6" cy="199.2" r="1.3" fill="#15508c"/>
<rect x="151.6" y="187.2" width="2.8" height="2.8" fill="#c8102e"/>
<rect x="151.1" y="189" width="2.8" height="2.8" fill="#c8102e"/>
<rect x="153.4" y="190.7" width="2.8" height="2.8" fill="#c8102e"/>
<rect x="149.9" y="193" width="2.8" height="2.8" fill="#c8102e"/>
<rect x="154.5" y="193.6" width="2.8" height="2.8" fill="#c8102e"/>
<rect x="149.9" y="195.3" width="2.8" height="2.8" fill="#c8102e"/>
<rect x="152.8" y="194.8" width="2.8" height="2.8" fill="#c8102e"/>
<rect x="155.1" y="194.8" width="2.8" height="2.8" fill="#c8102e"/>
<rect x="150.6" y="197" width="2.8" height="2.8" fill="#c8102e"/>
<rect x="154.1" y="197" width="2.8" height="2.8" fill="#c8102e"/>
<rect x="152.1" y="198.6" width="2.8" height="2.8" fill="#c8102e"/>
<path d="M181.3 162.4L183.3 164.4L181.3 166.4L179.3 164.4Z" fill="#15508c"/>
<path d="M183.6 164.1L185.6 166.1L183.6 168.1L181.6 166.1Z" fill="#15508c"/>
<path d="M185.3 165.3L187.3 167.3L185.3 169.3L183.3 167.3Z" fill="#15508c"/>
<path d="M182.4 167L184.4 169L182.4 171L180.4 169Z" fill="#15508c"/>
<path d="M186.5 167.6L188.5 169.6L186.5 171.6L184.5 169.6Z" fill="#15508c"/>
<path d="M182.4 171.1L184.4 173.1L182.4 175.1L180.4 173.1Z" fill="#15508c"/>
<path d="M186.5 171.6L188.5 173.6L186.5 175.6L184.5 173.6Z" fill="#15508c"/>
<path d="M181.3 175.7L183.3 177.7L181.3 179.7L179.3 177.7Z" fill="#15508c"/>
<path d="M184.2 175.1L186.2 177.1L184.2 179.1L182.2 177.1Z" fill="#15508c"/>
<path d="M183.6 178L185.6 180L183.6 182L181.6 180Z" fill="#15508c"/>
<path d="M187 178L189 180L187 182L185 180Z" fill="#15508c"/>
<path d="M184.2 181.4L186.2 183.4L184.2 185.4L182.2 183.4Z" fill="#15508c"/>
<path d="M184 169L186 171L184 173L182 171Z" fill="#15508c"/>
<line x1="181.9" y1="174.8" x2="186.7" y2="174.8" stroke="#333" stroke-width="0.8"/>
<line x1="184.3" y1="167.3" x2="184.3" y2="181.1" stroke="#333" stroke-width="0.8"/>
<line x1="182.1" y1="167.3" x2="186.5" y2="167.3" stroke="#333" stroke-width="0.8"/>
<line x1="182.1" y1="181.1" x2="186.5" y2="181.1" stroke="#333" stroke-width="0.8"/>
<line x1="139.2" y1="180.9" x2="156.8" y2="180.9" stroke="#777" stroke-width="1.1"/>
<polygon points="144,176.1 144.5,177.41 145.9,177.48 144.81,178.36 145.18,179.72 144,178.95 142.82,179.72 143.19,178.36 142.1,177.48 143.5,177.41" fill="#111"/>
<polygon points="148,176.1 148.5,177.41 149.9,177.48 148.81,178.36 149.18,179.72 148,178.95 146.82,179.72 147.19,178.36 146.1,177.48 147.5,177.41" fill="#111"/>
<polygon points="152,176.1 152.5,177.41 153.9,177.48 152.81,178.36 153.18,179.72 152,178.95 150.82,179.72 151.19,178.36 150.1,177.48 151.5,177.41" fill="#111"/>
<line x1="150.5" y1="158.3" x2="187.6" y2="158.3" stroke="#777" stroke-width="1.1"/>
<polygon points="165.05,153.5 165.55,154.81 166.95,154.88 165.86,155.76 166.23,157.12 165.05,156.35 163.87,157.12 164.24,155.76 163.15,154.88 164.55,154.81" fill="#111"/>
<polygon points="169.05,153.5 169.55,154.81 170.95,154.88 169.86,155.76 170.23,157.12 169.05,156.35 167.87,157.12 168.24,155.76 167.15,154.88 168.55,154.81" fill="#111"/>
<polygon points="173.05,153.5 173.55,154.81 174.95,154.88 173.86,155.76 174.23,157.12 173.05,156.35 171.87,157.12 172.24,155.76 171.15,154.88 172.55,154.81" fill="#111"/>
<text x="142" y="212.6" font-size="8.4" text-anchor="middle">&#8211;</text>
<text x="153.2" y="212.6" font-size="8.4" text-anchor="middle">+</text>
<text x="173" y="212.6" font-size="8.4" text-anchor="middle">&#8211;</text>
<text x="184.3" y="212.6" font-size="8.4" text-anchor="middle">+</text>
<rect x="204.9" y="171.6" width="2.8" height="2.8" fill="#c8102e"/>
<text x="211.3" y="175.2" font-size="7.8" textLength="20" lengthAdjust="spacingAndGlyphs">Day 0</text>
<path d="M206.3 181.2L208.3 183.2L206.3 185.2L204.3 183.2Z" fill="#15508c"/>
<text x="211.3" y="185.4" font-size="7.8" textLength="20" lengthAdjust="spacingAndGlyphs">Day 4</text>
<text x="7.6" y="250.5" font-size="10.5" font-weight="bold" fill="#000">E</text>
<text x="81.6" y="250.6" font-size="9.8" text-anchor="middle" textLength="20.2" lengthAdjust="spacingAndGlyphs">5-HT</text>
<line x1="40.8" y1="257" x2="40.8" y2="326.9" stroke="#1c1c1c" stroke-width="1.1"/>
<line x1="38" y1="265.6" x2="40.8" y2="265.6" stroke="#1c1c1c" stroke-width="1"/>
<text x="34.8" y="268.4" font-size="7.8" text-anchor="end" textLength="8.2" lengthAdjust="spacingAndGlyphs">25</text>
<line x1="38" y1="277.76" x2="40.8" y2="277.76" stroke="#1c1c1c" stroke-width="1"/>
<text x="34.8" y="280.56" font-size="7.8" text-anchor="end" textLength="8.2" lengthAdjust="spacingAndGlyphs">20</text>
<line x1="38" y1="289.92" x2="40.8" y2="289.92" stroke="#1c1c1c" stroke-width="1"/>
<text x="34.8" y="292.72" font-size="7.8" text-anchor="end" textLength="8.2" lengthAdjust="spacingAndGlyphs">15</text>
<line x1="38" y1="302.08" x2="40.8" y2="302.08" stroke="#1c1c1c" stroke-width="1"/>
<text x="34.8" y="304.88" font-size="7.8" text-anchor="end" textLength="8.2" lengthAdjust="spacingAndGlyphs">10</text>
<line x1="38" y1="314.24" x2="40.8" y2="314.24" stroke="#1c1c1c" stroke-width="1"/>
<text x="34.8" y="317.04" font-size="7.8" text-anchor="end">5</text>
<line x1="38" y1="326.4" x2="40.8" y2="326.4" stroke="#1c1c1c" stroke-width="1"/>
<text x="34.8" y="329.2" font-size="7.8" text-anchor="end">0</text>
<line x1="40.3" y1="326.4" x2="118.8" y2="326.4" stroke="#1c1c1c" stroke-width="1.1"/>
<line x1="53.4" y1="326.4" x2="53.4" y2="329" stroke="#1c1c1c" stroke-width="1"/>
<text x="53.4" y="338.7" font-size="7.8" text-anchor="middle">0</text>
<line x1="72" y1="326.4" x2="72" y2="329" stroke="#1c1c1c" stroke-width="1"/>
<text x="72" y="338.7" font-size="7.8" text-anchor="middle">4</text>
<line x1="91.1" y1="326.4" x2="91.1" y2="329" stroke="#1c1c1c" stroke-width="1"/>
<text x="91.1" y="338.7" font-size="7.8" text-anchor="middle">8</text>
<line x1="110" y1="326.4" x2="110" y2="329" stroke="#1c1c1c" stroke-width="1"/>
<text x="110" y="338.7" font-size="7.8" text-anchor="middle" textLength="8.2" lengthAdjust="spacingAndGlyphs">12</text>
<text x="81.5" y="352.3" font-size="10.2" text-anchor="middle" textLength="47" lengthAdjust="spacingAndGlyphs">Days after DSS</text>
<text x="17.7" y="296" font-size="9.8" text-anchor="middle" textLength="20.8" lengthAdjust="spacingAndGlyphs" transform="rotate(-90 17.7 296)">&#956;g/ml</text>
<line x1="49.2" y1="260.1" x2="96.2" y2="260.1" stroke="#555" stroke-width="1.1"/>
<polygon points="72.7,255.3 73.2,256.61 74.6,256.68 73.51,257.56 73.88,258.92 72.7,258.15 71.52,258.92 71.89,257.56 70.8,256.68 72.2,256.61" fill="#111"/>
<line x1="49.2" y1="270.4" x2="75.1" y2="270.4" stroke="#555" stroke-width="1.1"/>
<polygon points="60.15,265.6 60.65,266.91 62.05,266.98 60.96,267.86 61.33,269.22 60.15,268.45 58.97,269.22 59.34,267.86 58.25,266.98 59.65,266.91" fill="#111"/>
<polygon points="64.15,265.6 64.65,266.91 66.05,266.98 64.96,267.86 65.33,269.22 64.15,268.45 62.97,269.22 63.34,267.86 62.25,266.98 63.65,266.91" fill="#111"/>
<line x1="88" y1="279.3" x2="113.8" y2="279.3" stroke="#555" stroke-width="1.1"/>
<polygon points="100.9,274.5 101.4,275.81 102.8,275.88 101.71,276.76 102.08,278.12 100.9,277.35 99.72,278.12 100.09,276.76 99,275.88 100.4,275.81" fill="#111"/>
<line x1="47" y1="311.6" x2="59.8" y2="311.6" stroke="#1c1c1c" stroke-width="1"/>
<line x1="53.4" y1="304.5" x2="53.4" y2="318.8" stroke="#1c1c1c" stroke-width="1"/>
<line x1="50.6" y1="304.5" x2="56.2" y2="304.5" stroke="#1c1c1c" stroke-width="1"/>
<line x1="50.6" y1="318.8" x2="56.2" y2="318.8" stroke="#1c1c1c" stroke-width="1"/>
<circle cx="53.4" cy="296.1" r="1.65" fill="#c8102e"/>
<circle cx="48.5" cy="308.1" r="1.65" fill="#c8102e"/>
<circle cx="53.4" cy="308.1" r="1.65" fill="#c8102e"/>
<circle cx="58.5" cy="306.1" r="1.65" fill="#c8102e"/>
<circle cx="48.5" cy="314.7" r="1.65" fill="#c8102e"/>
<circle cx="53.4" cy="313.8" r="1.65" fill="#c8102e"/>
<circle cx="58.2" cy="313.5" r="1.65" fill="#c8102e"/>
<circle cx="58.2" cy="316.8" r="1.65" fill="#c8102e"/>
<circle cx="53.4" cy="318.1" r="1.65" fill="#c8102e"/>
<circle cx="53.4" cy="321.6" r="1.65" fill="#c8102e"/>
<line x1="65.8" y1="299.6" x2="78.2" y2="299.6" stroke="#1c1c1c" stroke-width="1"/>
<line x1="72" y1="289.3" x2="72" y2="309.6" stroke="#1c1c1c" stroke-width="1"/>
<line x1="69.2" y1="289.3" x2="74.8" y2="289.3" stroke="#1c1c1c" stroke-width="1"/>
<line x1="69.2" y1="309.6" x2="74.8" y2="309.6" stroke="#1c1c1c" stroke-width="1"/>
<circle cx="72" cy="275" r="1.65" fill="#c8102e"/>
<circle cx="74.2" cy="294.2" r="1.65" fill="#c8102e"/>
<circle cx="70.5" cy="296.2" r="1.65" fill="#c8102e"/>
<circle cx="66.9" cy="303" r="1.65" fill="#c8102e"/>
<circle cx="72" cy="300.4" r="1.65" fill="#c8102e"/>
<circle cx="76.9" cy="300.8" r="1.65" fill="#c8102e"/>
<circle cx="69.2" cy="304.5" r="1.65" fill="#c8102e"/>
<circle cx="74.2" cy="304.5" r="1.65" fill="#c8102e"/>
<circle cx="76.9" cy="304.5" r="1.65" fill="#c8102e"/>
<circle cx="72" cy="314.2" r="1.65" fill="#c8102e"/>
<line x1="84.9" y1="303.2" x2="97.3" y2="303.2" stroke="#1c1c1c" stroke-width="1"/>
<line x1="91.1" y1="295.5" x2="91.1" y2="311.6" stroke="#1c1c1c" stroke-width="1"/>
<line x1="88.3" y1="295.5" x2="93.9" y2="295.5" stroke="#1c1c1c" stroke-width="1"/>
<line x1="88.3" y1="311.6" x2="93.9" y2="311.6" stroke="#1c1c1c" stroke-width="1"/>
<circle cx="91.1" cy="283.8" r="1.65" fill="#c8102e"/>
<circle cx="85.8" cy="301.2" r="1.65" fill="#c8102e"/>
<circle cx="91.1" cy="300.4" r="1.65" fill="#c8102e"/>
<circle cx="96.2" cy="299.6" r="1.65" fill="#c8102e"/>
<circle cx="85.8" cy="307.6" r="1.65" fill="#c8102e"/>
<circle cx="91.1" cy="305.8" r="1.65" fill="#c8102e"/>
<circle cx="96.2" cy="304.5" r="1.65" fill="#c8102e"/>
<circle cx="96.2" cy="308.1" r="1.65" fill="#c8102e"/>
<circle cx="88.9" cy="311.6" r="1.65" fill="#c8102e"/>
<circle cx="93.5" cy="311.6" r="1.65" fill="#c8102e"/>
<line x1="104.3" y1="314.2" x2="115.7" y2="314.2" stroke="#1c1c1c" stroke-width="1"/>
<line x1="110" y1="305" x2="110" y2="323.5" stroke="#1c1c1c" stroke-width="1"/>
<line x1="107.2" y1="305" x2="112.8" y2="305" stroke="#1c1c1c" stroke-width="1"/>
<line x1="107.2" y1="323.5" x2="112.8" y2="323.5" stroke="#1c1c1c" stroke-width="1"/>
<circle cx="110" cy="299.6" r="1.65" fill="#c8102e"/>
<circle cx="107.7" cy="305" r="1.65" fill="#c8102e"/>
<circle cx="111.5" cy="305" r="1.65" fill="#c8102e"/>
<circle cx="115.1" cy="304.2" r="1.65" fill="#c8102e"/>
<circle cx="105.4" cy="318.8" r="1.65" fill="#c8102e"/>
<circle cx="110" cy="318.4" r="1.65" fill="#c8102e"/>
<circle cx="104.9" cy="323.5" r="1.65" fill="#c8102e"/>
<circle cx="108" cy="321.5" r="1.65" fill="#c8102e"/>
<circle cx="111.5" cy="321.9" r="1.65" fill="#c8102e"/>
<circle cx="115.1" cy="321.5" r="1.65" fill="#c8102e"/>
<text x="179.8" y="250.5" font-size="10.5" font-weight="bold" fill="#000">F</text>
<text x="245" y="250.6" font-size="9.8" text-anchor="middle" textLength="20.3" lengthAdjust="spacingAndGlyphs">IL-33</text>
<line x1="204.1" y1="257" x2="204.1" y2="327.1" stroke="#1c1c1c" stroke-width="1.1"/>
<line x1="201.3" y1="261.25" x2="204.1" y2="261.25" stroke="#1c1c1c" stroke-width="1"/>
<text x="198.1" y="264.05" font-size="7.8" text-anchor="end">5</text>
<line x1="201.3" y1="274.32" x2="204.1" y2="274.32" stroke="#1c1c1c" stroke-width="1"/>
<text x="198.1" y="277.12" font-size="7.8" text-anchor="end">4</text>
<line x1="201.3" y1="287.39" x2="204.1" y2="287.39" stroke="#1c1c1c" stroke-width="1"/>
<text x="198.1" y="290.19" font-size="7.8" text-anchor="end">3</text>
<line x1="201.3" y1="300.46" x2="204.1" y2="300.46" stroke="#1c1c1c" stroke-width="1"/>
<text x="198.1" y="303.26" font-size="7.8" text-anchor="end">2</text>
<line x1="201.3" y1="313.53" x2="204.1" y2="313.53" stroke="#1c1c1c" stroke-width="1"/>
<text x="198.1" y="316.33" font-size="7.8" text-anchor="end">1</text>
<line x1="201.3" y1="326.6" x2="204.1" y2="326.6" stroke="#1c1c1c" stroke-width="1"/>
<text x="198.1" y="329.4" font-size="7.8" text-anchor="end">0</text>
<line x1="203.6" y1="326.6" x2="285" y2="326.6" stroke="#1c1c1c" stroke-width="1.1"/>
<line x1="217.5" y1="326.6" x2="217.5" y2="329.2" stroke="#1c1c1c" stroke-width="1"/>
<text x="217.5" y="338.9" font-size="7.8" text-anchor="middle">0</text>
<line x1="237.4" y1="326.6" x2="237.4" y2="329.2" stroke="#1c1c1c" stroke-width="1"/>
<text x="237.4" y="338.9" font-size="7.8" text-anchor="middle">4</text>
<line x1="257.9" y1="326.6" x2="257.9" y2="329.2" stroke="#1c1c1c" stroke-width="1"/>
<text x="257.9" y="338.9" font-size="7.8" text-anchor="middle">8</text>
<line x1="278.1" y1="326.6" x2="278.1" y2="329.2" stroke="#1c1c1c" stroke-width="1"/>
<text x="278.1" y="338.9" font-size="7.8" text-anchor="middle" textLength="8.2" lengthAdjust="spacingAndGlyphs">12</text>
<text x="245" y="352.5" font-size="10.2" text-anchor="middle" textLength="47" lengthAdjust="spacingAndGlyphs">Days after DSS</text>
<text x="187.7" y="294.25" font-size="9.8" text-anchor="middle" textLength="21.7" lengthAdjust="spacingAndGlyphs" transform="rotate(-90 187.7 294.25)">pg/mg</text>
<line x1="213.5" y1="260.2" x2="264.1" y2="260.2" stroke="#777" stroke-width="1.1"/>
<polygon points="238.8,255.4 239.3,256.71 240.7,256.78 239.61,257.66 239.98,259.02 238.8,258.25 237.62,259.02 237.99,257.66 236.9,256.78 238.3,256.71" fill="#111"/>
<line x1="213.5" y1="268.4" x2="241.8" y2="268.4" stroke="#777" stroke-width="1.1"/>
<polygon points="227.65,263.6 228.15,264.91 229.55,264.98 228.46,265.86 228.83,267.22 227.65,266.45 226.47,267.22 226.84,265.86 225.75,264.98 227.15,264.91" fill="#111"/>
<line x1="252.8" y1="270" x2="281" y2="270" stroke="#777" stroke-width="1.1"/>
<polygon points="264.9,265.2 265.4,266.51 266.8,266.58 265.71,267.46 266.08,268.82 264.9,268.05 263.72,268.82 264.09,267.46 263,266.58 264.4,266.51" fill="#111"/>
<polygon points="268.9,265.2 269.4,266.51 270.8,266.58 269.71,267.46 270.08,268.82 268.9,268.05 267.72,268.82 268.09,267.46 267,266.58 268.4,266.51" fill="#111"/>
<line x1="211.6" y1="304" x2="223.4" y2="304" stroke="#1c1c1c" stroke-width="1"/>
<line x1="217.5" y1="298.3" x2="217.5" y2="310.7" stroke="#1c1c1c" stroke-width="1"/>
<line x1="214.7" y1="298.3" x2="220.3" y2="298.3" stroke="#1c1c1c" stroke-width="1"/>
<line x1="214.7" y1="310.7" x2="220.3" y2="310.7" stroke="#1c1c1c" stroke-width="1"/>
<circle cx="215.6" cy="294.6" r="1.65" fill="#c8102e"/>
<circle cx="219.2" cy="293.8" r="1.65" fill="#c8102e"/>
<circle cx="217.5" cy="299.4" r="1.65" fill="#c8102e"/>
<circle cx="211.9" cy="307" r="1.65" fill="#c8102e"/>
<circle cx="215.9" cy="307" r="1.65" fill="#c8102e"/>
<circle cx="219.2" cy="306.4" r="1.65" fill="#c8102e"/>
<circle cx="222.7" cy="305.4" r="1.65" fill="#c8102e"/>
<circle cx="211.9" cy="310.7" r="1.65" fill="#c8102e"/>
<circle cx="219.2" cy="309.9" r="1.65" fill="#c8102e"/>
<circle cx="222.7" cy="310.4" r="1.65" fill="#c8102e"/>
<line x1="231.4" y1="295.4" x2="243.4" y2="295.4" stroke="#1c1c1c" stroke-width="1"/>
<line x1="237.4" y1="284.4" x2="237.4" y2="307.2" stroke="#1c1c1c" stroke-width="1"/>
<line x1="234.6" y1="284.4" x2="240.2" y2="284.4" stroke="#1c1c1c" stroke-width="1"/>
<line x1="234.6" y1="307.2" x2="240.2" y2="307.2" stroke="#1c1c1c" stroke-width="1"/>
<circle cx="237.4" cy="272.4" r="1.65" fill="#c8102e"/>
<circle cx="232.4" cy="289.7" r="1.65" fill="#c8102e"/>
<circle cx="237.4" cy="289.4" r="1.65" fill="#c8102e"/>
<circle cx="242.6" cy="291.3" r="1.65" fill="#c8102e"/>
<circle cx="232.9" cy="297.3" r="1.65" fill="#c8102e"/>
<circle cx="237.4" cy="294.1" r="1.65" fill="#c8102e"/>
<circle cx="237.4" cy="298.3" r="1.65" fill="#c8102e"/>
<circle cx="242.6" cy="299.9" r="1.65" fill="#c8102e"/>
<circle cx="235" cy="312.4" r="1.65" fill="#c8102e"/>
<circle cx="240.2" cy="311.2" r="1.65" fill="#c8102e"/>
<line x1="251.4" y1="296.2" x2="264.4" y2="296.2" stroke="#1c1c1c" stroke-width="1"/>
<line x1="257.9" y1="287" x2="257.9" y2="306.4" stroke="#1c1c1c" stroke-width="1"/>
<line x1="255.1" y1="287" x2="260.7" y2="287" stroke="#1c1c1c" stroke-width="1"/>
<line x1="255.1" y1="306.4" x2="260.7" y2="306.4" stroke="#1c1c1c" stroke-width="1"/>
<circle cx="257.6" cy="275.7" r="1.65" fill="#c8102e"/>
<circle cx="257.6" cy="287" r="1.65" fill="#c8102e"/>
<circle cx="257.6" cy="293.4" r="1.65" fill="#c8102e"/>
<circle cx="252.3" cy="298.6" r="1.65" fill="#c8102e"/>
<circle cx="255" cy="297.8" r="1.65" fill="#c8102e"/>
<circle cx="259.5" cy="298.3" r="1.65" fill="#c8102e"/>
<circle cx="263.1" cy="298.9" r="1.65" fill="#c8102e"/>
<circle cx="257.6" cy="301" r="1.65" fill="#c8102e"/>
<circle cx="256" cy="306.4" r="1.65" fill="#c8102e"/>
<circle cx="259.2" cy="304.3" r="1.65" fill="#c8102e"/>
<line x1="272.7" y1="307.5" x2="283.5" y2="307.5" stroke="#1c1c1c" stroke-width="1"/>
<line x1="278.1" y1="303.1" x2="278.1" y2="313.2" stroke="#1c1c1c" stroke-width="1"/>
<line x1="275.3" y1="303.1" x2="280.9" y2="303.1" stroke="#1c1c1c" stroke-width="1"/>
<line x1="275.3" y1="313.2" x2="280.9" y2="313.2" stroke="#1c1c1c" stroke-width="1"/>
<circle cx="276" cy="299.9" r="1.65" fill="#c8102e"/>
<circle cx="279.7" cy="298.9" r="1.65" fill="#c8102e"/>
<circle cx="272.5" cy="307" r="1.65" fill="#c8102e"/>
<circle cx="277.3" cy="306.4" r="1.65" fill="#c8102e"/>
<circle cx="283" cy="307.5" r="1.65" fill="#c8102e"/>
<circle cx="272.5" cy="310.7" r="1.65" fill="#c8102e"/>
<circle cx="276" cy="310.3" r="1.65" fill="#c8102e"/>
<circle cx="279.7" cy="309.6" r="1.65" fill="#c8102e"/>
<circle cx="283" cy="311.5" r="1.65" fill="#c8102e"/>
<circle cx="272.5" cy="313.5" r="1.65" fill="#c8102e"/>
<text x="331" y="250.5" font-size="10.5" font-weight="bold" fill="#000">G</text>
<text x="408.5" y="250.6" font-size="9.8" text-anchor="middle" textLength="37" lengthAdjust="spacingAndGlyphs">Bleeding</text>
<line x1="367.8" y1="257.5" x2="367.8" y2="326.7" stroke="#1c1c1c" stroke-width="1.1"/>
<line x1="365" y1="262" x2="367.8" y2="262" stroke="#1c1c1c" stroke-width="1"/>
<text x="360.9" y="264.8" font-size="7.8" text-anchor="end" textLength="16.4" lengthAdjust="spacingAndGlyphs">1000</text>
<line x1="365" y1="278.05" x2="367.8" y2="278.05" stroke="#1c1c1c" stroke-width="1"/>
<text x="360.9" y="280.85" font-size="7.8" text-anchor="end" textLength="12.3" lengthAdjust="spacingAndGlyphs">750</text>
<line x1="365" y1="294.1" x2="367.8" y2="294.1" stroke="#1c1c1c" stroke-width="1"/>
<text x="360.9" y="296.9" font-size="7.8" text-anchor="end" textLength="12.3" lengthAdjust="spacingAndGlyphs">500</text>
<line x1="365" y1="310.15" x2="367.8" y2="310.15" stroke="#1c1c1c" stroke-width="1"/>
<text x="360.9" y="312.95" font-size="7.8" text-anchor="end" textLength="12.3" lengthAdjust="spacingAndGlyphs">250</text>
<line x1="365" y1="326.2" x2="367.8" y2="326.2" stroke="#1c1c1c" stroke-width="1"/>
<text x="360.9" y="329" font-size="7.8" text-anchor="end">0</text>
<line x1="367.3" y1="326.2" x2="448.8" y2="326.2" stroke="#1c1c1c" stroke-width="1.1"/>
<line x1="381.2" y1="326.2" x2="381.2" y2="328.8" stroke="#1c1c1c" stroke-width="1"/>
<text x="381.2" y="338.5" font-size="7.8" text-anchor="middle">0</text>
<line x1="400.9" y1="326.2" x2="400.9" y2="328.8" stroke="#1c1c1c" stroke-width="1"/>
<text x="400.9" y="338.5" font-size="7.8" text-anchor="middle">4</text>
<line x1="420.6" y1="326.2" x2="420.6" y2="328.8" stroke="#1c1c1c" stroke-width="1"/>
<text x="420.6" y="338.5" font-size="7.8" text-anchor="middle">8</text>
<line x1="440.5" y1="326.2" x2="440.5" y2="328.8" stroke="#1c1c1c" stroke-width="1"/>
<text x="440.5" y="338.5" font-size="7.8" text-anchor="middle" textLength="8.2" lengthAdjust="spacingAndGlyphs">12</text>
<text x="408.8" y="352.3" font-size="10.2" text-anchor="middle" textLength="47" lengthAdjust="spacingAndGlyphs">Days after DSS</text>
<text x="339.2" y="294.4" font-size="9.8" text-anchor="middle" textLength="11" lengthAdjust="spacingAndGlyphs" transform="rotate(-90 339.2 294.4)">Sec</text>
<line x1="375.4" y1="278.9" x2="387" y2="278.9" stroke="#1c1c1c" stroke-width="1"/>
<line x1="381.2" y1="272.4" x2="381.2" y2="284.6" stroke="#1c1c1c" stroke-width="1"/>
<line x1="378.4" y1="272.4" x2="384" y2="272.4" stroke="#1c1c1c" stroke-width="1"/>
<line x1="378.4" y1="284.6" x2="384" y2="284.6" stroke="#1c1c1c" stroke-width="1"/>
<rect x="376.95" y="269.55" width="3.3" height="3.3" fill="#c8102e"/>
<rect x="381.55" y="269.05" width="3.3" height="3.3" fill="#c8102e"/>
<rect x="379.55" y="272.75" width="3.3" height="3.3" fill="#c8102e"/>
<rect x="376.95" y="277.25" width="3.3" height="3.3" fill="#c8102e"/>
<rect x="381.55" y="277.25" width="3.3" height="3.3" fill="#c8102e"/>
<rect x="379.55" y="282.45" width="3.3" height="3.3" fill="#c8102e"/>
<rect x="374.25" y="285.65" width="3.3" height="3.3" fill="#c8102e"/>
<rect x="384.75" y="283.25" width="3.3" height="3.3" fill="#c8102e"/>
<rect x="379.55" y="277.35" width="3.3" height="3.3" fill="#c8102e"/>
<line x1="394.5" y1="277.6" x2="407.3" y2="277.6" stroke="#1c1c1c" stroke-width="1"/>
<line x1="400.9" y1="271.6" x2="400.9" y2="281.7" stroke="#1c1c1c" stroke-width="1"/>
<line x1="398.1" y1="271.6" x2="403.7" y2="271.6" stroke="#1c1c1c" stroke-width="1"/>
<line x1="398.1" y1="281.7" x2="403.7" y2="281.7" stroke="#1c1c1c" stroke-width="1"/>
<rect x="398.95" y="267.05" width="3.3" height="3.3" fill="#c8102e"/>
<rect x="394.15" y="270.75" width="3.3" height="3.3" fill="#c8102e"/>
<rect x="404.15" y="272.75" width="3.3" height="3.3" fill="#c8102e"/>
<rect x="394.15" y="275.95" width="3.3" height="3.3" fill="#c8102e"/>
<rect x="398.95" y="274.35" width="3.3" height="3.3" fill="#c8102e"/>
<rect x="404.15" y="276.25" width="3.3" height="3.3" fill="#c8102e"/>
<rect x="401.65" y="280.45" width="3.3" height="3.3" fill="#c8102e"/>
<rect x="396.35" y="282.95" width="3.3" height="3.3" fill="#c8102e"/>
<line x1="414.2" y1="280" x2="427" y2="280" stroke="#1c1c1c" stroke-width="1"/>
<line x1="420.6" y1="275.7" x2="420.6" y2="285.4" stroke="#1c1c1c" stroke-width="1"/>
<line x1="417.8" y1="275.7" x2="423.4" y2="275.7" stroke="#1c1c1c" stroke-width="1"/>
<line x1="417.8" y1="285.4" x2="423.4" y2="285.4" stroke="#1c1c1c" stroke-width="1"/>
<rect x="413.45" y="272.45" width="3.3" height="3.3" fill="#c8102e"/>
<rect x="413.45" y="275.15" width="3.3" height="3.3" fill="#c8102e"/>
<rect x="423.85" y="274.35" width="3.3" height="3.3" fill="#c8102e"/>
<rect x="418.95" y="277.25" width="3.3" height="3.3" fill="#c8102e"/>
<rect x="423.85" y="277.95" width="3.3" height="3.3" fill="#c8102e"/>
<rect x="418.95" y="280.85" width="3.3" height="3.3" fill="#c8102e"/>
<rect x="418.95" y="284.05" width="3.3" height="3.3" fill="#c8102e"/>
<rect x="418.95" y="287.25" width="3.3" height="3.3" fill="#c8102e"/>
<line x1="434" y1="281.7" x2="447" y2="281.7" stroke="#1c1c1c" stroke-width="1"/>
<line x1="440.5" y1="276.3" x2="440.5" y2="286.5" stroke="#1c1c1c" stroke-width="1"/>
<line x1="437.7" y1="276.3" x2="443.3" y2="276.3" stroke="#1c1c1c" stroke-width="1"/>
<line x1="437.7" y1="286.5" x2="443.3" y2="286.5" stroke="#1c1c1c" stroke-width="1"/>
<rect x="438.85" y="269.15" width="3.3" height="3.3" fill="#c8102e"/>
<rect x="443.75" y="276.75" width="3.3" height="3.3" fill="#c8102e"/>
<rect x="438.85" y="279.15" width="3.3" height="3.3" fill="#c8102e"/>
<rect x="433.25" y="281.65" width="3.3" height="3.3" fill="#c8102e"/>
<rect x="443.75" y="280.45" width="3.3" height="3.3" fill="#c8102e"/>
<rect x="438.85" y="282.15" width="3.3" height="3.3" fill="#c8102e"/>
<rect x="443.75" y="284.05" width="3.3" height="3.3" fill="#c8102e"/>
<rect x="433.25" y="286.95" width="3.3" height="3.3" fill="#c8102e"/>
<rect x="425.3" y="316.7" width="3.2" height="3.2" fill="#c8102e"/>
<text x="431.2" y="320.7" font-size="7.6" font-style="italic" textLength="19" lengthAdjust="spacingAndGlyphs">Il33<tspan font-size="5" dy="-3.2">&#8722;/&#8722;</tspan></text>
<text x="7.4" y="378.7" font-size="10.5" font-weight="bold" fill="#000">H</text>
<line x1="47.4" y1="376.8" x2="59.6" y2="376.8" stroke="#c8102e" stroke-width="1.3"/>
<text x="62.6" y="379" font-size="7.3" textLength="24.5" lengthAdjust="spacingAndGlyphs">Resting</text>
<line x1="160" y1="376.8" x2="172.2" y2="376.8" stroke="#15508c" stroke-width="1.3"/>
<text x="175" y="379" font-size="7.3" textLength="31.3" lengthAdjust="spacingAndGlyphs">Thrombin</text>
<line x1="44.3" y1="469.5" x2="47.5" y2="469.5" stroke="#1c1c1c" stroke-width="0.8"/>
<text x="41.2" y="472" font-size="7.9" text-anchor="end">0</text>
<line x1="45.5" y1="466.09" x2="47.5" y2="466.09" stroke="#1c1c1c" stroke-width="0.8"/>
<line x1="45.5" y1="462.68" x2="47.5" y2="462.68" stroke="#1c1c1c" stroke-width="0.8"/>
<line x1="45.5" y1="459.27" x2="47.5" y2="459.27" stroke="#1c1c1c" stroke-width="0.8"/>
<line x1="44.3" y1="455.86" x2="47.5" y2="455.86" stroke="#1c1c1c" stroke-width="0.8"/>
<text x="41.2" y="458.36" font-size="7.9" text-anchor="end">20</text>
<line x1="45.5" y1="452.45" x2="47.5" y2="452.45" stroke="#1c1c1c" stroke-width="0.8"/>
<line x1="45.5" y1="449.04" x2="47.5" y2="449.04" stroke="#1c1c1c" stroke-width="0.8"/>
<line x1="45.5" y1="445.63" x2="47.5" y2="445.63" stroke="#1c1c1c" stroke-width="0.8"/>
<line x1="44.3" y1="442.22" x2="47.5" y2="442.22" stroke="#1c1c1c" stroke-width="0.8"/>
<text x="41.2" y="444.72" font-size="7.9" text-anchor="end">40</text>
<line x1="45.5" y1="438.81" x2="47.5" y2="438.81" stroke="#1c1c1c" stroke-width="0.8"/>
<line x1="45.5" y1="435.4" x2="47.5" y2="435.4" stroke="#1c1c1c" stroke-width="0.8"/>
<line x1="45.5" y1="431.99" x2="47.5" y2="431.99" stroke="#1c1c1c" stroke-width="0.8"/>
<line x1="44.3" y1="428.58" x2="47.5" y2="428.58" stroke="#1c1c1c" stroke-width="0.8"/>
<text x="41.2" y="431.08" font-size="7.9" text-anchor="end">60</text>
<line x1="45.5" y1="425.17" x2="47.5" y2="425.17" stroke="#1c1c1c" stroke-width="0.8"/>
<line x1="45.5" y1="421.76" x2="47.5" y2="421.76" stroke="#1c1c1c" stroke-width="0.8"/>
<line x1="45.5" y1="418.35" x2="47.5" y2="418.35" stroke="#1c1c1c" stroke-width="0.8"/>
<line x1="44.3" y1="414.94" x2="47.5" y2="414.94" stroke="#1c1c1c" stroke-width="0.8"/>
<text x="41.2" y="417.44" font-size="7.9" text-anchor="end">80</text>
<line x1="45.5" y1="411.53" x2="47.5" y2="411.53" stroke="#1c1c1c" stroke-width="0.8"/>
<line x1="45.5" y1="408.12" x2="47.5" y2="408.12" stroke="#1c1c1c" stroke-width="0.8"/>
<line x1="45.5" y1="404.71" x2="47.5" y2="404.71" stroke="#1c1c1c" stroke-width="0.8"/>
<line x1="44.3" y1="401.3" x2="47.5" y2="401.3" stroke="#1c1c1c" stroke-width="0.8"/>
<text x="41.2" y="403.8" font-size="7.9" text-anchor="end">100</text>
<line x1="52.92" y1="469.5" x2="52.92" y2="471.1" stroke="#1c1c1c" stroke-width="0.7"/>
<line x1="56.09" y1="469.5" x2="56.09" y2="471.1" stroke="#1c1c1c" stroke-width="0.7"/>
<line x1="58.34" y1="469.5" x2="58.34" y2="471.1" stroke="#1c1c1c" stroke-width="0.7"/>
<line x1="60.08" y1="469.5" x2="60.08" y2="471.1" stroke="#1c1c1c" stroke-width="0.7"/>
<line x1="61.51" y1="469.5" x2="61.51" y2="471.1" stroke="#1c1c1c" stroke-width="0.7"/>
<line x1="62.71" y1="469.5" x2="62.71" y2="471.1" stroke="#1c1c1c" stroke-width="0.7"/>
<line x1="63.76" y1="469.5" x2="63.76" y2="471.1" stroke="#1c1c1c" stroke-width="0.7"/>
<line x1="64.68" y1="469.5" x2="64.68" y2="471.1" stroke="#1c1c1c" stroke-width="0.7"/>
<line x1="70.92" y1="469.5" x2="70.92" y2="471.1" stroke="#1c1c1c" stroke-width="0.7"/>
<line x1="74.09" y1="469.5" x2="74.09" y2="471.1" stroke="#1c1c1c" stroke-width="0.7"/>
<line x1="76.34" y1="469.5" x2="76.34" y2="471.1" stroke="#1c1c1c" stroke-width="0.7"/>
<line x1="78.08" y1="469.5" x2="78.08" y2="471.1" stroke="#1c1c1c" stroke-width="0.7"/>
<line x1="79.51" y1="469.5" x2="79.51" y2="471.1" stroke="#1c1c1c" stroke-width="0.7"/>
<line x1="80.71" y1="469.5" x2="80.71" y2="471.1" stroke="#1c1c1c" stroke-width="0.7"/>
<line x1="81.76" y1="469.5" x2="81.76" y2="471.1" stroke="#1c1c1c" stroke-width="0.7"/>
<line x1="82.68" y1="469.5" x2="82.68" y2="471.1" stroke="#1c1c1c" stroke-width="0.7"/>
<line x1="88.92" y1="469.5" x2="88.92" y2="471.1" stroke="#1c1c1c" stroke-width="0.7"/>
<line x1="92.09" y1="469.5" x2="92.09" y2="471.1" stroke="#1c1c1c" stroke-width="0.7"/>
<line x1="94.34" y1="469.5" x2="94.34" y2="471.1" stroke="#1c1c1c" stroke-width="0.7"/>
<line x1="96.08" y1="469.5" x2="96.08" y2="471.1" stroke="#1c1c1c" stroke-width="0.7"/>
<line x1="97.51" y1="469.5" x2="97.51" y2="471.1" stroke="#1c1c1c" stroke-width="0.7"/>
<line x1="98.71" y1="469.5" x2="98.71" y2="471.1" stroke="#1c1c1c" stroke-width="0.7"/>
<line x1="99.76" y1="469.5" x2="99.76" y2="471.1" stroke="#1c1c1c" stroke-width="0.7"/>
<line x1="100.68" y1="469.5" x2="100.68" y2="471.1" stroke="#1c1c1c" stroke-width="0.7"/>
<line x1="106.92" y1="469.5" x2="106.92" y2="471.1" stroke="#1c1c1c" stroke-width="0.7"/>
<line x1="110.09" y1="469.5" x2="110.09" y2="471.1" stroke="#1c1c1c" stroke-width="0.7"/>
<line x1="112.34" y1="469.5" x2="112.34" y2="471.1" stroke="#1c1c1c" stroke-width="0.7"/>
<line x1="114.08" y1="469.5" x2="114.08" y2="471.1" stroke="#1c1c1c" stroke-width="0.7"/>
<line x1="115.51" y1="469.5" x2="115.51" y2="471.1" stroke="#1c1c1c" stroke-width="0.7"/>
<line x1="116.71" y1="469.5" x2="116.71" y2="471.1" stroke="#1c1c1c" stroke-width="0.7"/>
<line x1="117.76" y1="469.5" x2="117.76" y2="471.1" stroke="#1c1c1c" stroke-width="0.7"/>
<line x1="118.68" y1="469.5" x2="118.68" y2="471.1" stroke="#1c1c1c" stroke-width="0.7"/>
<line x1="47.5" y1="469.5" x2="47.5" y2="472.3" stroke="#1c1c1c" stroke-width="0.9"/>
<text x="46.9" y="482.1" font-size="7.9" text-anchor="middle">10<tspan font-size="5.6" dy="-3.5">0</tspan></text>
<line x1="65.5" y1="469.5" x2="65.5" y2="472.3" stroke="#1c1c1c" stroke-width="0.9"/>
<text x="64.9" y="482.1" font-size="7.9" text-anchor="middle">10<tspan font-size="5.6" dy="-3.5">1</tspan></text>
<line x1="83.5" y1="469.5" x2="83.5" y2="472.3" stroke="#1c1c1c" stroke-width="0.9"/>
<text x="82.9" y="482.1" font-size="7.9" text-anchor="middle">10<tspan font-size="5.6" dy="-3.5">2</tspan></text>
<line x1="101.5" y1="469.5" x2="101.5" y2="472.3" stroke="#1c1c1c" stroke-width="0.9"/>
<text x="100.9" y="482.1" font-size="7.9" text-anchor="middle">10<tspan font-size="5.6" dy="-3.5">3</tspan></text>
<line x1="119.5" y1="469.5" x2="119.5" y2="472.3" stroke="#1c1c1c" stroke-width="0.9"/>
<text x="118.9" y="482.1" font-size="7.9" text-anchor="middle">10<tspan font-size="5.6" dy="-3.5">4</tspan></text>
<rect x="47.5" y="397.4" width="75.8" height="72.1" fill="none" stroke="#1c1c1c" stroke-width="1.05"/>
<line x1="157.1" y1="469.5" x2="160.3" y2="469.5" stroke="#1c1c1c" stroke-width="0.8"/>
<text x="154" y="472" font-size="7.9" text-anchor="end">0</text>
<line x1="158.3" y1="466.09" x2="160.3" y2="466.09" stroke="#1c1c1c" stroke-width="0.8"/>
<line x1="158.3" y1="462.68" x2="160.3" y2="462.68" stroke="#1c1c1c" stroke-width="0.8"/>
<line x1="158.3" y1="459.27" x2="160.3" y2="459.27" stroke="#1c1c1c" stroke-width="0.8"/>
<line x1="157.1" y1="455.86" x2="160.3" y2="455.86" stroke="#1c1c1c" stroke-width="0.8"/>
<text x="154" y="458.36" font-size="7.9" text-anchor="end">20</text>
<line x1="158.3" y1="452.45" x2="160.3" y2="452.45" stroke="#1c1c1c" stroke-width="0.8"/>
<line x1="158.3" y1="449.04" x2="160.3" y2="449.04" stroke="#1c1c1c" stroke-width="0.8"/>
<line x1="158.3" y1="445.63" x2="160.3" y2="445.63" stroke="#1c1c1c" stroke-width="0.8"/>
<line x1="157.1" y1="442.22" x2="160.3" y2="442.22" stroke="#1c1c1c" stroke-width="0.8"/>
<text x="154" y="444.72" font-size="7.9" text-anchor="end">40</text>
<line x1="158.3" y1="438.81" x2="160.3" y2="438.81" stroke="#1c1c1c" stroke-width="0.8"/>
<line x1="158.3" y1="435.4" x2="160.3" y2="435.4" stroke="#1c1c1c" stroke-width="0.8"/>
<line x1="158.3" y1="431.99" x2="160.3" y2="431.99" stroke="#1c1c1c" stroke-width="0.8"/>
<line x1="157.1" y1="428.58" x2="160.3" y2="428.58" stroke="#1c1c1c" stroke-width="0.8"/>
<text x="154" y="431.08" font-size="7.9" text-anchor="end">60</text>
<line x1="158.3" y1="425.17" x2="160.3" y2="425.17" stroke="#1c1c1c" stroke-width="0.8"/>
<line x1="158.3" y1="421.76" x2="160.3" y2="421.76" stroke="#1c1c1c" stroke-width="0.8"/>
<line x1="158.3" y1="418.35" x2="160.3" y2="418.35" stroke="#1c1c1c" stroke-width="0.8"/>
<line x1="157.1" y1="414.94" x2="160.3" y2="414.94" stroke="#1c1c1c" stroke-width="0.8"/>
<text x="154" y="417.44" font-size="7.9" text-anchor="end">80</text>
<line x1="158.3" y1="411.53" x2="160.3" y2="411.53" stroke="#1c1c1c" stroke-width="0.8"/>
<line x1="158.3" y1="408.12" x2="160.3" y2="408.12" stroke="#1c1c1c" stroke-width="0.8"/>
<line x1="158.3" y1="404.71" x2="160.3" y2="404.71" stroke="#1c1c1c" stroke-width="0.8"/>
<line x1="157.1" y1="401.3" x2="160.3" y2="401.3" stroke="#1c1c1c" stroke-width="0.8"/>
<text x="154" y="403.8" font-size="7.9" text-anchor="end">100</text>
<line x1="165.74" y1="469.5" x2="165.74" y2="471.1" stroke="#1c1c1c" stroke-width="0.7"/>
<line x1="168.92" y1="469.5" x2="168.92" y2="471.1" stroke="#1c1c1c" stroke-width="0.7"/>
<line x1="171.18" y1="469.5" x2="171.18" y2="471.1" stroke="#1c1c1c" stroke-width="0.7"/>
<line x1="172.93" y1="469.5" x2="172.93" y2="471.1" stroke="#1c1c1c" stroke-width="0.7"/>
<line x1="174.37" y1="469.5" x2="174.37" y2="471.1" stroke="#1c1c1c" stroke-width="0.7"/>
<line x1="175.58" y1="469.5" x2="175.58" y2="471.1" stroke="#1c1c1c" stroke-width="0.7"/>
<line x1="176.62" y1="469.5" x2="176.62" y2="471.1" stroke="#1c1c1c" stroke-width="0.7"/>
<line x1="177.55" y1="469.5" x2="177.55" y2="471.1" stroke="#1c1c1c" stroke-width="0.7"/>
<line x1="183.82" y1="469.5" x2="183.82" y2="471.1" stroke="#1c1c1c" stroke-width="0.7"/>
<line x1="187" y1="469.5" x2="187" y2="471.1" stroke="#1c1c1c" stroke-width="0.7"/>
<line x1="189.26" y1="469.5" x2="189.26" y2="471.1" stroke="#1c1c1c" stroke-width="0.7"/>
<line x1="191.01" y1="469.5" x2="191.01" y2="471.1" stroke="#1c1c1c" stroke-width="0.7"/>
<line x1="192.44" y1="469.5" x2="192.44" y2="471.1" stroke="#1c1c1c" stroke-width="0.7"/>
<line x1="193.65" y1="469.5" x2="193.65" y2="471.1" stroke="#1c1c1c" stroke-width="0.7"/>
<line x1="194.7" y1="469.5" x2="194.7" y2="471.1" stroke="#1c1c1c" stroke-width="0.7"/>
<line x1="195.62" y1="469.5" x2="195.62" y2="471.1" stroke="#1c1c1c" stroke-width="0.7"/>
<line x1="201.89" y1="469.5" x2="201.89" y2="471.1" stroke="#1c1c1c" stroke-width="0.7"/>
<line x1="205.07" y1="469.5" x2="205.07" y2="471.1" stroke="#1c1c1c" stroke-width="0.7"/>
<line x1="207.33" y1="469.5" x2="207.33" y2="471.1" stroke="#1c1c1c" stroke-width="0.7"/>
<line x1="209.08" y1="469.5" x2="209.08" y2="471.1" stroke="#1c1c1c" stroke-width="0.7"/>
<line x1="210.52" y1="469.5" x2="210.52" y2="471.1" stroke="#1c1c1c" stroke-width="0.7"/>
<line x1="211.73" y1="469.5" x2="211.73" y2="471.1" stroke="#1c1c1c" stroke-width="0.7"/>
<line x1="212.77" y1="469.5" x2="212.77" y2="471.1" stroke="#1c1c1c" stroke-width="0.7"/>
<line x1="213.7" y1="469.5" x2="213.7" y2="471.1" stroke="#1c1c1c" stroke-width="0.7"/>
<line x1="219.97" y1="469.5" x2="219.97" y2="471.1" stroke="#1c1c1c" stroke-width="0.7"/>
<line x1="223.15" y1="469.5" x2="223.15" y2="471.1" stroke="#1c1c1c" stroke-width="0.7"/>
<line x1="225.41" y1="469.5" x2="225.41" y2="471.1" stroke="#1c1c1c" stroke-width="0.7"/>
<line x1="227.16" y1="469.5" x2="227.16" y2="471.1" stroke="#1c1c1c" stroke-width="0.7"/>
<line x1="228.59" y1="469.5" x2="228.59" y2="471.1" stroke="#1c1c1c" stroke-width="0.7"/>
<line x1="229.8" y1="469.5" x2="229.8" y2="471.1" stroke="#1c1c1c" stroke-width="0.7"/>
<line x1="230.85" y1="469.5" x2="230.85" y2="471.1" stroke="#1c1c1c" stroke-width="0.7"/>
<line x1="231.77" y1="469.5" x2="231.77" y2="471.1" stroke="#1c1c1c" stroke-width="0.7"/>
<line x1="160.3" y1="469.5" x2="160.3" y2="472.3" stroke="#1c1c1c" stroke-width="0.9"/>
<text x="159.7" y="482.1" font-size="7.9" text-anchor="middle">10<tspan font-size="5.6" dy="-3.5">0</tspan></text>
<line x1="178.38" y1="469.5" x2="178.38" y2="472.3" stroke="#1c1c1c" stroke-width="0.9"/>
<text x="177.78" y="482.1" font-size="7.9" text-anchor="middle">10<tspan font-size="5.6" dy="-3.5">1</tspan></text>
<line x1="196.45" y1="469.5" x2="196.45" y2="472.3" stroke="#1c1c1c" stroke-width="0.9"/>
<text x="195.85" y="482.1" font-size="7.9" text-anchor="middle">10<tspan font-size="5.6" dy="-3.5">2</tspan></text>
<line x1="214.53" y1="469.5" x2="214.53" y2="472.3" stroke="#1c1c1c" stroke-width="0.9"/>
<text x="213.93" y="482.1" font-size="7.9" text-anchor="middle">10<tspan font-size="5.6" dy="-3.5">3</tspan></text>
<line x1="232.6" y1="469.5" x2="232.6" y2="472.3" stroke="#1c1c1c" stroke-width="0.9"/>
<text x="232" y="482.1" font-size="7.9" text-anchor="middle">10<tspan font-size="5.6" dy="-3.5">4</tspan></text>
<rect x="160.3" y="397.4" width="72.3" height="72.1" fill="none" stroke="#1c1c1c" stroke-width="1.05"/>
<line x1="44.3" y1="564.6" x2="47.5" y2="564.6" stroke="#1c1c1c" stroke-width="0.8"/>
<text x="41.2" y="567.1" font-size="7.9" text-anchor="end">0</text>
<line x1="45.5" y1="561.21" x2="47.5" y2="561.21" stroke="#1c1c1c" stroke-width="0.8"/>
<line x1="45.5" y1="557.81" x2="47.5" y2="557.81" stroke="#1c1c1c" stroke-width="0.8"/>
<line x1="45.5" y1="554.41" x2="47.5" y2="554.41" stroke="#1c1c1c" stroke-width="0.8"/>
<line x1="44.3" y1="551.02" x2="47.5" y2="551.02" stroke="#1c1c1c" stroke-width="0.8"/>
<text x="41.2" y="553.52" font-size="7.9" text-anchor="end">20</text>
<line x1="45.5" y1="547.62" x2="47.5" y2="547.62" stroke="#1c1c1c" stroke-width="0.8"/>
<line x1="45.5" y1="544.23" x2="47.5" y2="544.23" stroke="#1c1c1c" stroke-width="0.8"/>
<line x1="45.5" y1="540.84" x2="47.5" y2="540.84" stroke="#1c1c1c" stroke-width="0.8"/>
<line x1="44.3" y1="537.44" x2="47.5" y2="537.44" stroke="#1c1c1c" stroke-width="0.8"/>
<text x="41.2" y="539.94" font-size="7.9" text-anchor="end">40</text>
<line x1="45.5" y1="534.05" x2="47.5" y2="534.05" stroke="#1c1c1c" stroke-width="0.8"/>
<line x1="45.5" y1="530.65" x2="47.5" y2="530.65" stroke="#1c1c1c" stroke-width="0.8"/>
<line x1="45.5" y1="527.25" x2="47.5" y2="527.25" stroke="#1c1c1c" stroke-width="0.8"/>
<line x1="44.3" y1="523.86" x2="47.5" y2="523.86" stroke="#1c1c1c" stroke-width="0.8"/>
<text x="41.2" y="526.36" font-size="7.9" text-anchor="end">60</text>
<line x1="45.5" y1="520.47" x2="47.5" y2="520.47" stroke="#1c1c1c" stroke-width="0.8"/>
<line x1="45.5" y1="517.07" x2="47.5" y2="517.07" stroke="#1c1c1c" stroke-width="0.8"/>
<line x1="45.5" y1="513.67" x2="47.5" y2="513.67" stroke="#1c1c1c" stroke-width="0.8"/>
<line x1="44.3" y1="510.28" x2="47.5" y2="510.28" stroke="#1c1c1c" stroke-width="0.8"/>
<text x="41.2" y="512.78" font-size="7.9" text-anchor="end">80</text>
<line x1="45.5" y1="506.88" x2="47.5" y2="506.88" stroke="#1c1c1c" stroke-width="0.8"/>
<line x1="45.5" y1="503.49" x2="47.5" y2="503.49" stroke="#1c1c1c" stroke-width="0.8"/>
<line x1="45.5" y1="500.09" x2="47.5" y2="500.09" stroke="#1c1c1c" stroke-width="0.8"/>
<line x1="44.3" y1="496.7" x2="47.5" y2="496.7" stroke="#1c1c1c" stroke-width="0.8"/>
<text x="41.2" y="499.2" font-size="7.9" text-anchor="end">100</text>
<line x1="52.92" y1="564.6" x2="52.92" y2="566.2" stroke="#1c1c1c" stroke-width="0.7"/>
<line x1="56.09" y1="564.6" x2="56.09" y2="566.2" stroke="#1c1c1c" stroke-width="0.7"/>
<line x1="58.34" y1="564.6" x2="58.34" y2="566.2" stroke="#1c1c1c" stroke-width="0.7"/>
<line x1="60.08" y1="564.6" x2="60.08" y2="566.2" stroke="#1c1c1c" stroke-width="0.7"/>
<line x1="61.51" y1="564.6" x2="61.51" y2="566.2" stroke="#1c1c1c" stroke-width="0.7"/>
<line x1="62.71" y1="564.6" x2="62.71" y2="566.2" stroke="#1c1c1c" stroke-width="0.7"/>
<line x1="63.76" y1="564.6" x2="63.76" y2="566.2" stroke="#1c1c1c" stroke-width="0.7"/>
<line x1="64.68" y1="564.6" x2="64.68" y2="566.2" stroke="#1c1c1c" stroke-width="0.7"/>
<line x1="70.92" y1="564.6" x2="70.92" y2="566.2" stroke="#1c1c1c" stroke-width="0.7"/>
<line x1="74.09" y1="564.6" x2="74.09" y2="566.2" stroke="#1c1c1c" stroke-width="0.7"/>
<line x1="76.34" y1="564.6" x2="76.34" y2="566.2" stroke="#1c1c1c" stroke-width="0.7"/>
<line x1="78.08" y1="564.6" x2="78.08" y2="566.2" stroke="#1c1c1c" stroke-width="0.7"/>
<line x1="79.51" y1="564.6" x2="79.51" y2="566.2" stroke="#1c1c1c" stroke-width="0.7"/>
<line x1="80.71" y1="564.6" x2="80.71" y2="566.2" stroke="#1c1c1c" stroke-width="0.7"/>
<line x1="81.76" y1="564.6" x2="81.76" y2="566.2" stroke="#1c1c1c" stroke-width="0.7"/>
<line x1="82.68" y1="564.6" x2="82.68" y2="566.2" stroke="#1c1c1c" stroke-width="0.7"/>
<line x1="88.92" y1="564.6" x2="88.92" y2="566.2" stroke="#1c1c1c" stroke-width="0.7"/>
<line x1="92.09" y1="564.6" x2="92.09" y2="566.2" stroke="#1c1c1c" stroke-width="0.7"/>
<line x1="94.34" y1="564.6" x2="94.34" y2="566.2" stroke="#1c1c1c" stroke-width="0.7"/>
<line x1="96.08" y1="564.6" x2="96.08" y2="566.2" stroke="#1c1c1c" stroke-width="0.7"/>
<line x1="97.51" y1="564.6" x2="97.51" y2="566.2" stroke="#1c1c1c" stroke-width="0.7"/>
<line x1="98.71" y1="564.6" x2="98.71" y2="566.2" stroke="#1c1c1c" stroke-width="0.7"/>
<line x1="99.76" y1="564.6" x2="99.76" y2="566.2" stroke="#1c1c1c" stroke-width="0.7"/>
<line x1="100.68" y1="564.6" x2="100.68" y2="566.2" stroke="#1c1c1c" stroke-width="0.7"/>
<line x1="106.92" y1="564.6" x2="106.92" y2="566.2" stroke="#1c1c1c" stroke-width="0.7"/>
<line x1="110.09" y1="564.6" x2="110.09" y2="566.2" stroke="#1c1c1c" stroke-width="0.7"/>
<line x1="112.34" y1="564.6" x2="112.34" y2="566.2" stroke="#1c1c1c" stroke-width="0.7"/>
<line x1="114.08" y1="564.6" x2="114.08" y2="566.2" stroke="#1c1c1c" stroke-width="0.7"/>
<line x1="115.51" y1="564.6" x2="115.51" y2="566.2" stroke="#1c1c1c" stroke-width="0.7"/>
<line x1="116.71" y1="564.6" x2="116.71" y2="566.2" stroke="#1c1c1c" stroke-width="0.7"/>
<line x1="117.76" y1="564.6" x2="117.76" y2="566.2" stroke="#1c1c1c" stroke-width="0.7"/>
<line x1="118.68" y1="564.6" x2="118.68" y2="566.2" stroke="#1c1c1c" stroke-width="0.7"/>
<line x1="47.5" y1="564.6" x2="47.5" y2="567.4" stroke="#1c1c1c" stroke-width="0.9"/>
<text x="46.9" y="577.2" font-size="7.9" text-anchor="middle">10<tspan font-size="5.6" dy="-3.5">0</tspan></text>
<line x1="65.5" y1="564.6" x2="65.5" y2="567.4" stroke="#1c1c1c" stroke-width="0.9"/>
<text x="64.9" y="577.2" font-size="7.9" text-anchor="middle">10<tspan font-size="5.6" dy="-3.5">1</tspan></text>
<line x1="83.5" y1="564.6" x2="83.5" y2="567.4" stroke="#1c1c1c" stroke-width="0.9"/>
<text x="82.9" y="577.2" font-size="7.9" text-anchor="middle">10<tspan font-size="5.6" dy="-3.5">2</tspan></text>
<line x1="101.5" y1="564.6" x2="101.5" y2="567.4" stroke="#1c1c1c" stroke-width="0.9"/>
<text x="100.9" y="577.2" font-size="7.9" text-anchor="middle">10<tspan font-size="5.6" dy="-3.5">3</tspan></text>
<line x1="119.5" y1="564.6" x2="119.5" y2="567.4" stroke="#1c1c1c" stroke-width="0.9"/>
<text x="118.9" y="577.2" font-size="7.9" text-anchor="middle">10<tspan font-size="5.6" dy="-3.5">4</tspan></text>
<rect x="47.5" y="492.8" width="75.8" height="71.8" fill="none" stroke="#1c1c1c" stroke-width="1.05"/>
<line x1="156.9" y1="564.6" x2="160.1" y2="564.6" stroke="#1c1c1c" stroke-width="0.8"/>
<text x="153.8" y="567.1" font-size="7.9" text-anchor="end">0</text>
<line x1="158.1" y1="561.21" x2="160.1" y2="561.21" stroke="#1c1c1c" stroke-width="0.8"/>
<line x1="158.1" y1="557.81" x2="160.1" y2="557.81" stroke="#1c1c1c" stroke-width="0.8"/>
<line x1="158.1" y1="554.41" x2="160.1" y2="554.41" stroke="#1c1c1c" stroke-width="0.8"/>
<line x1="156.9" y1="551.02" x2="160.1" y2="551.02" stroke="#1c1c1c" stroke-width="0.8"/>
<text x="153.8" y="553.52" font-size="7.9" text-anchor="end">20</text>
<line x1="158.1" y1="547.62" x2="160.1" y2="547.62" stroke="#1c1c1c" stroke-width="0.8"/>
<line x1="158.1" y1="544.23" x2="160.1" y2="544.23" stroke="#1c1c1c" stroke-width="0.8"/>
<line x1="158.1" y1="540.84" x2="160.1" y2="540.84" stroke="#1c1c1c" stroke-width="0.8"/>
<line x1="156.9" y1="537.44" x2="160.1" y2="537.44" stroke="#1c1c1c" stroke-width="0.8"/>
<text x="153.8" y="539.94" font-size="7.9" text-anchor="end">40</text>
<line x1="158.1" y1="534.05" x2="160.1" y2="534.05" stroke="#1c1c1c" stroke-width="0.8"/>
<line x1="158.1" y1="530.65" x2="160.1" y2="530.65" stroke="#1c1c1c" stroke-width="0.8"/>
<line x1="158.1" y1="527.25" x2="160.1" y2="527.25" stroke="#1c1c1c" stroke-width="0.8"/>
<line x1="156.9" y1="523.86" x2="160.1" y2="523.86" stroke="#1c1c1c" stroke-width="0.8"/>
<text x="153.8" y="526.36" font-size="7.9" text-anchor="end">60</text>
<line x1="158.1" y1="520.47" x2="160.1" y2="520.47" stroke="#1c1c1c" stroke-width="0.8"/>
<line x1="158.1" y1="517.07" x2="160.1" y2="517.07" stroke="#1c1c1c" stroke-width="0.8"/>
<line x1="158.1" y1="513.67" x2="160.1" y2="513.67" stroke="#1c1c1c" stroke-width="0.8"/>
<line x1="156.9" y1="510.28" x2="160.1" y2="510.28" stroke="#1c1c1c" stroke-width="0.8"/>
<text x="153.8" y="512.78" font-size="7.9" text-anchor="end">80</text>
<line x1="158.1" y1="506.88" x2="160.1" y2="506.88" stroke="#1c1c1c" stroke-width="0.8"/>
<line x1="158.1" y1="503.49" x2="160.1" y2="503.49" stroke="#1c1c1c" stroke-width="0.8"/>
<line x1="158.1" y1="500.09" x2="160.1" y2="500.09" stroke="#1c1c1c" stroke-width="0.8"/>
<line x1="156.9" y1="496.7" x2="160.1" y2="496.7" stroke="#1c1c1c" stroke-width="0.8"/>
<text x="153.8" y="499.2" font-size="7.9" text-anchor="end">100</text>
<line x1="165.56" y1="564.6" x2="165.56" y2="566.2" stroke="#1c1c1c" stroke-width="0.7"/>
<line x1="168.75" y1="564.6" x2="168.75" y2="566.2" stroke="#1c1c1c" stroke-width="0.7"/>
<line x1="171.01" y1="564.6" x2="171.01" y2="566.2" stroke="#1c1c1c" stroke-width="0.7"/>
<line x1="172.77" y1="564.6" x2="172.77" y2="566.2" stroke="#1c1c1c" stroke-width="0.7"/>
<line x1="174.2" y1="564.6" x2="174.2" y2="566.2" stroke="#1c1c1c" stroke-width="0.7"/>
<line x1="175.42" y1="564.6" x2="175.42" y2="566.2" stroke="#1c1c1c" stroke-width="0.7"/>
<line x1="176.47" y1="564.6" x2="176.47" y2="566.2" stroke="#1c1c1c" stroke-width="0.7"/>
<line x1="177.4" y1="564.6" x2="177.4" y2="566.2" stroke="#1c1c1c" stroke-width="0.7"/>
<line x1="183.68" y1="564.6" x2="183.68" y2="566.2" stroke="#1c1c1c" stroke-width="0.7"/>
<line x1="186.87" y1="564.6" x2="186.87" y2="566.2" stroke="#1c1c1c" stroke-width="0.7"/>
<line x1="189.14" y1="564.6" x2="189.14" y2="566.2" stroke="#1c1c1c" stroke-width="0.7"/>
<line x1="190.89" y1="564.6" x2="190.89" y2="566.2" stroke="#1c1c1c" stroke-width="0.7"/>
<line x1="192.33" y1="564.6" x2="192.33" y2="566.2" stroke="#1c1c1c" stroke-width="0.7"/>
<line x1="193.54" y1="564.6" x2="193.54" y2="566.2" stroke="#1c1c1c" stroke-width="0.7"/>
<line x1="194.59" y1="564.6" x2="194.59" y2="566.2" stroke="#1c1c1c" stroke-width="0.7"/>
<line x1="195.52" y1="564.6" x2="195.52" y2="566.2" stroke="#1c1c1c" stroke-width="0.7"/>
<line x1="201.81" y1="564.6" x2="201.81" y2="566.2" stroke="#1c1c1c" stroke-width="0.7"/>
<line x1="205" y1="564.6" x2="205" y2="566.2" stroke="#1c1c1c" stroke-width="0.7"/>
<line x1="207.26" y1="564.6" x2="207.26" y2="566.2" stroke="#1c1c1c" stroke-width="0.7"/>
<line x1="209.02" y1="564.6" x2="209.02" y2="566.2" stroke="#1c1c1c" stroke-width="0.7"/>
<line x1="210.45" y1="564.6" x2="210.45" y2="566.2" stroke="#1c1c1c" stroke-width="0.7"/>
<line x1="211.67" y1="564.6" x2="211.67" y2="566.2" stroke="#1c1c1c" stroke-width="0.7"/>
<line x1="212.72" y1="564.6" x2="212.72" y2="566.2" stroke="#1c1c1c" stroke-width="0.7"/>
<line x1="213.65" y1="564.6" x2="213.65" y2="566.2" stroke="#1c1c1c" stroke-width="0.7"/>
<line x1="219.93" y1="564.6" x2="219.93" y2="566.2" stroke="#1c1c1c" stroke-width="0.7"/>
<line x1="223.12" y1="564.6" x2="223.12" y2="566.2" stroke="#1c1c1c" stroke-width="0.7"/>
<line x1="225.39" y1="564.6" x2="225.39" y2="566.2" stroke="#1c1c1c" stroke-width="0.7"/>
<line x1="227.14" y1="564.6" x2="227.14" y2="566.2" stroke="#1c1c1c" stroke-width="0.7"/>
<line x1="228.58" y1="564.6" x2="228.58" y2="566.2" stroke="#1c1c1c" stroke-width="0.7"/>
<line x1="229.79" y1="564.6" x2="229.79" y2="566.2" stroke="#1c1c1c" stroke-width="0.7"/>
<line x1="230.84" y1="564.6" x2="230.84" y2="566.2" stroke="#1c1c1c" stroke-width="0.7"/>
<line x1="231.77" y1="564.6" x2="231.77" y2="566.2" stroke="#1c1c1c" stroke-width="0.7"/>
<line x1="160.1" y1="564.6" x2="160.1" y2="567.4" stroke="#1c1c1c" stroke-width="0.9"/>
<text x="159.5" y="577.2" font-size="7.9" text-anchor="middle">10<tspan font-size="5.6" dy="-3.5">0</tspan></text>
<line x1="178.22" y1="564.6" x2="178.22" y2="567.4" stroke="#1c1c1c" stroke-width="0.9"/>
<text x="177.62" y="577.2" font-size="7.9" text-anchor="middle">10<tspan font-size="5.6" dy="-3.5">1</tspan></text>
<line x1="196.35" y1="564.6" x2="196.35" y2="567.4" stroke="#1c1c1c" stroke-width="0.9"/>
<text x="195.75" y="577.2" font-size="7.9" text-anchor="middle">10<tspan font-size="5.6" dy="-3.5">2</tspan></text>
<line x1="214.47" y1="564.6" x2="214.47" y2="567.4" stroke="#1c1c1c" stroke-width="0.9"/>
<text x="213.88" y="577.2" font-size="7.9" text-anchor="middle">10<tspan font-size="5.6" dy="-3.5">3</tspan></text>
<line x1="232.6" y1="564.6" x2="232.6" y2="567.4" stroke="#1c1c1c" stroke-width="0.9"/>
<text x="232" y="577.2" font-size="7.9" text-anchor="middle">10<tspan font-size="5.6" dy="-3.5">4</tspan></text>
<rect x="160.1" y="492.8" width="72.5" height="71.8" fill="none" stroke="#1c1c1c" stroke-width="1.05"/>
<line x1="289.2" y1="469.5" x2="292.4" y2="469.5" stroke="#1c1c1c" stroke-width="0.8"/>
<text x="286.1" y="472" font-size="7.9" text-anchor="end">0</text>
<line x1="290.4" y1="466.09" x2="292.4" y2="466.09" stroke="#1c1c1c" stroke-width="0.8"/>
<line x1="290.4" y1="462.68" x2="292.4" y2="462.68" stroke="#1c1c1c" stroke-width="0.8"/>
<line x1="290.4" y1="459.27" x2="292.4" y2="459.27" stroke="#1c1c1c" stroke-width="0.8"/>
<line x1="289.2" y1="455.86" x2="292.4" y2="455.86" stroke="#1c1c1c" stroke-width="0.8"/>
<text x="286.1" y="458.36" font-size="7.9" text-anchor="end">20</text>
<line x1="290.4" y1="452.45" x2="292.4" y2="452.45" stroke="#1c1c1c" stroke-width="0.8"/>
<line x1="290.4" y1="449.04" x2="292.4" y2="449.04" stroke="#1c1c1c" stroke-width="0.8"/>
<line x1="290.4" y1="445.63" x2="292.4" y2="445.63" stroke="#1c1c1c" stroke-width="0.8"/>
<line x1="289.2" y1="442.22" x2="292.4" y2="442.22" stroke="#1c1c1c" stroke-width="0.8"/>
<text x="286.1" y="444.72" font-size="7.9" text-anchor="end">40</text>
<line x1="290.4" y1="438.81" x2="292.4" y2="438.81" stroke="#1c1c1c" stroke-width="0.8"/>
<line x1="290.4" y1="435.4" x2="292.4" y2="435.4" stroke="#1c1c1c" stroke-width="0.8"/>
<line x1="290.4" y1="431.99" x2="292.4" y2="431.99" stroke="#1c1c1c" stroke-width="0.8"/>
<line x1="289.2" y1="428.58" x2="292.4" y2="428.58" stroke="#1c1c1c" stroke-width="0.8"/>
<text x="286.1" y="431.08" font-size="7.9" text-anchor="end">60</text>
<line x1="290.4" y1="425.17" x2="292.4" y2="425.17" stroke="#1c1c1c" stroke-width="0.8"/>
<line x1="290.4" y1="421.76" x2="292.4" y2="421.76" stroke="#1c1c1c" stroke-width="0.8"/>
<line x1="290.4" y1="418.35" x2="292.4" y2="418.35" stroke="#1c1c1c" stroke-width="0.8"/>
<line x1="289.2" y1="414.94" x2="292.4" y2="414.94" stroke="#1c1c1c" stroke-width="0.8"/>
<text x="286.1" y="417.44" font-size="7.9" text-anchor="end">80</text>
<line x1="290.4" y1="411.53" x2="292.4" y2="411.53" stroke="#1c1c1c" stroke-width="0.8"/>
<line x1="290.4" y1="408.12" x2="292.4" y2="408.12" stroke="#1c1c1c" stroke-width="0.8"/>
<line x1="290.4" y1="404.71" x2="292.4" y2="404.71" stroke="#1c1c1c" stroke-width="0.8"/>
<line x1="289.2" y1="401.3" x2="292.4" y2="401.3" stroke="#1c1c1c" stroke-width="0.8"/>
<text x="286.1" y="403.8" font-size="7.9" text-anchor="end">100</text>
<line x1="297.86" y1="469.5" x2="297.86" y2="471.1" stroke="#1c1c1c" stroke-width="0.7"/>
<line x1="301.05" y1="469.5" x2="301.05" y2="471.1" stroke="#1c1c1c" stroke-width="0.7"/>
<line x1="303.31" y1="469.5" x2="303.31" y2="471.1" stroke="#1c1c1c" stroke-width="0.7"/>
<line x1="305.07" y1="469.5" x2="305.07" y2="471.1" stroke="#1c1c1c" stroke-width="0.7"/>
<line x1="306.5" y1="469.5" x2="306.5" y2="471.1" stroke="#1c1c1c" stroke-width="0.7"/>
<line x1="307.72" y1="469.5" x2="307.72" y2="471.1" stroke="#1c1c1c" stroke-width="0.7"/>
<line x1="308.77" y1="469.5" x2="308.77" y2="471.1" stroke="#1c1c1c" stroke-width="0.7"/>
<line x1="309.7" y1="469.5" x2="309.7" y2="471.1" stroke="#1c1c1c" stroke-width="0.7"/>
<line x1="315.98" y1="469.5" x2="315.98" y2="471.1" stroke="#1c1c1c" stroke-width="0.7"/>
<line x1="319.17" y1="469.5" x2="319.17" y2="471.1" stroke="#1c1c1c" stroke-width="0.7"/>
<line x1="321.44" y1="469.5" x2="321.44" y2="471.1" stroke="#1c1c1c" stroke-width="0.7"/>
<line x1="323.19" y1="469.5" x2="323.19" y2="471.1" stroke="#1c1c1c" stroke-width="0.7"/>
<line x1="324.63" y1="469.5" x2="324.63" y2="471.1" stroke="#1c1c1c" stroke-width="0.7"/>
<line x1="325.84" y1="469.5" x2="325.84" y2="471.1" stroke="#1c1c1c" stroke-width="0.7"/>
<line x1="326.89" y1="469.5" x2="326.89" y2="471.1" stroke="#1c1c1c" stroke-width="0.7"/>
<line x1="327.82" y1="469.5" x2="327.82" y2="471.1" stroke="#1c1c1c" stroke-width="0.7"/>
<line x1="334.11" y1="469.5" x2="334.11" y2="471.1" stroke="#1c1c1c" stroke-width="0.7"/>
<line x1="337.3" y1="469.5" x2="337.3" y2="471.1" stroke="#1c1c1c" stroke-width="0.7"/>
<line x1="339.56" y1="469.5" x2="339.56" y2="471.1" stroke="#1c1c1c" stroke-width="0.7"/>
<line x1="341.32" y1="469.5" x2="341.32" y2="471.1" stroke="#1c1c1c" stroke-width="0.7"/>
<line x1="342.75" y1="469.5" x2="342.75" y2="471.1" stroke="#1c1c1c" stroke-width="0.7"/>
<line x1="343.97" y1="469.5" x2="343.97" y2="471.1" stroke="#1c1c1c" stroke-width="0.7"/>
<line x1="345.02" y1="469.5" x2="345.02" y2="471.1" stroke="#1c1c1c" stroke-width="0.7"/>
<line x1="345.95" y1="469.5" x2="345.95" y2="471.1" stroke="#1c1c1c" stroke-width="0.7"/>
<line x1="352.23" y1="469.5" x2="352.23" y2="471.1" stroke="#1c1c1c" stroke-width="0.7"/>
<line x1="355.42" y1="469.5" x2="355.42" y2="471.1" stroke="#1c1c1c" stroke-width="0.7"/>
<line x1="357.69" y1="469.5" x2="357.69" y2="471.1" stroke="#1c1c1c" stroke-width="0.7"/>
<line x1="359.44" y1="469.5" x2="359.44" y2="471.1" stroke="#1c1c1c" stroke-width="0.7"/>
<line x1="360.88" y1="469.5" x2="360.88" y2="471.1" stroke="#1c1c1c" stroke-width="0.7"/>
<line x1="362.09" y1="469.5" x2="362.09" y2="471.1" stroke="#1c1c1c" stroke-width="0.7"/>
<line x1="363.14" y1="469.5" x2="363.14" y2="471.1" stroke="#1c1c1c" stroke-width="0.7"/>
<line x1="364.07" y1="469.5" x2="364.07" y2="471.1" stroke="#1c1c1c" stroke-width="0.7"/>
<line x1="292.4" y1="469.5" x2="292.4" y2="472.3" stroke="#1c1c1c" stroke-width="0.9"/>
<text x="291.8" y="482.1" font-size="7.9" text-anchor="middle">10<tspan font-size="5.6" dy="-3.5">0</tspan></text>
<line x1="310.52" y1="469.5" x2="310.52" y2="472.3" stroke="#1c1c1c" stroke-width="0.9"/>
<text x="309.92" y="482.1" font-size="7.9" text-anchor="middle">10<tspan font-size="5.6" dy="-3.5">1</tspan></text>
<line x1="328.65" y1="469.5" x2="328.65" y2="472.3" stroke="#1c1c1c" stroke-width="0.9"/>
<text x="328.05" y="482.1" font-size="7.9" text-anchor="middle">10<tspan font-size="5.6" dy="-3.5">2</tspan></text>
<line x1="346.77" y1="469.5" x2="346.77" y2="472.3" stroke="#1c1c1c" stroke-width="0.9"/>
<text x="346.17" y="482.1" font-size="7.9" text-anchor="middle">10<tspan font-size="5.6" dy="-3.5">3</tspan></text>
<line x1="364.9" y1="469.5" x2="364.9" y2="472.3" stroke="#1c1c1c" stroke-width="0.9"/>
<text x="364.3" y="482.1" font-size="7.9" text-anchor="middle">10<tspan font-size="5.6" dy="-3.5">4</tspan></text>
<rect x="292.4" y="397.4" width="72.5" height="72.1" fill="none" stroke="#1c1c1c" stroke-width="1.05"/>
<line x1="398.5" y1="469.5" x2="401.7" y2="469.5" stroke="#1c1c1c" stroke-width="0.8"/>
<text x="395.4" y="472" font-size="7.9" text-anchor="end">0</text>
<line x1="399.7" y1="466.09" x2="401.7" y2="466.09" stroke="#1c1c1c" stroke-width="0.8"/>
<line x1="399.7" y1="462.68" x2="401.7" y2="462.68" stroke="#1c1c1c" stroke-width="0.8"/>
<line x1="399.7" y1="459.27" x2="401.7" y2="459.27" stroke="#1c1c1c" stroke-width="0.8"/>
<line x1="398.5" y1="455.86" x2="401.7" y2="455.86" stroke="#1c1c1c" stroke-width="0.8"/>
<text x="395.4" y="458.36" font-size="7.9" text-anchor="end">20</text>
<line x1="399.7" y1="452.45" x2="401.7" y2="452.45" stroke="#1c1c1c" stroke-width="0.8"/>
<line x1="399.7" y1="449.04" x2="401.7" y2="449.04" stroke="#1c1c1c" stroke-width="0.8"/>
<line x1="399.7" y1="445.63" x2="401.7" y2="445.63" stroke="#1c1c1c" stroke-width="0.8"/>
<line x1="398.5" y1="442.22" x2="401.7" y2="442.22" stroke="#1c1c1c" stroke-width="0.8"/>
<text x="395.4" y="444.72" font-size="7.9" text-anchor="end">40</text>
<line x1="399.7" y1="438.81" x2="401.7" y2="438.81" stroke="#1c1c1c" stroke-width="0.8"/>
<line x1="399.7" y1="435.4" x2="401.7" y2="435.4" stroke="#1c1c1c" stroke-width="0.8"/>
<line x1="399.7" y1="431.99" x2="401.7" y2="431.99" stroke="#1c1c1c" stroke-width="0.8"/>
<line x1="398.5" y1="428.58" x2="401.7" y2="428.58" stroke="#1c1c1c" stroke-width="0.8"/>
<text x="395.4" y="431.08" font-size="7.9" text-anchor="end">60</text>
<line x1="399.7" y1="425.17" x2="401.7" y2="425.17" stroke="#1c1c1c" stroke-width="0.8"/>
<line x1="399.7" y1="421.76" x2="401.7" y2="421.76" stroke="#1c1c1c" stroke-width="0.8"/>
<line x1="399.7" y1="418.35" x2="401.7" y2="418.35" stroke="#1c1c1c" stroke-width="0.8"/>
<line x1="398.5" y1="414.94" x2="401.7" y2="414.94" stroke="#1c1c1c" stroke-width="0.8"/>
<text x="395.4" y="417.44" font-size="7.9" text-anchor="end">80</text>
<line x1="399.7" y1="411.53" x2="401.7" y2="411.53" stroke="#1c1c1c" stroke-width="0.8"/>
<line x1="399.7" y1="408.12" x2="401.7" y2="408.12" stroke="#1c1c1c" stroke-width="0.8"/>
<line x1="399.7" y1="404.71" x2="401.7" y2="404.71" stroke="#1c1c1c" stroke-width="0.8"/>
<line x1="398.5" y1="401.3" x2="401.7" y2="401.3" stroke="#1c1c1c" stroke-width="0.8"/>
<text x="395.4" y="403.8" font-size="7.9" text-anchor="end">100</text>
<line x1="407.06" y1="469.5" x2="407.06" y2="471.1" stroke="#1c1c1c" stroke-width="0.7"/>
<line x1="410.19" y1="469.5" x2="410.19" y2="471.1" stroke="#1c1c1c" stroke-width="0.7"/>
<line x1="412.42" y1="469.5" x2="412.42" y2="471.1" stroke="#1c1c1c" stroke-width="0.7"/>
<line x1="414.14" y1="469.5" x2="414.14" y2="471.1" stroke="#1c1c1c" stroke-width="0.7"/>
<line x1="415.55" y1="469.5" x2="415.55" y2="471.1" stroke="#1c1c1c" stroke-width="0.7"/>
<line x1="416.74" y1="469.5" x2="416.74" y2="471.1" stroke="#1c1c1c" stroke-width="0.7"/>
<line x1="417.78" y1="469.5" x2="417.78" y2="471.1" stroke="#1c1c1c" stroke-width="0.7"/>
<line x1="418.69" y1="469.5" x2="418.69" y2="471.1" stroke="#1c1c1c" stroke-width="0.7"/>
<line x1="424.86" y1="469.5" x2="424.86" y2="471.1" stroke="#1c1c1c" stroke-width="0.7"/>
<line x1="427.99" y1="469.5" x2="427.99" y2="471.1" stroke="#1c1c1c" stroke-width="0.7"/>
<line x1="430.22" y1="469.5" x2="430.22" y2="471.1" stroke="#1c1c1c" stroke-width="0.7"/>
<line x1="431.94" y1="469.5" x2="431.94" y2="471.1" stroke="#1c1c1c" stroke-width="0.7"/>
<line x1="433.35" y1="469.5" x2="433.35" y2="471.1" stroke="#1c1c1c" stroke-width="0.7"/>
<line x1="434.54" y1="469.5" x2="434.54" y2="471.1" stroke="#1c1c1c" stroke-width="0.7"/>
<line x1="435.58" y1="469.5" x2="435.58" y2="471.1" stroke="#1c1c1c" stroke-width="0.7"/>
<line x1="436.49" y1="469.5" x2="436.49" y2="471.1" stroke="#1c1c1c" stroke-width="0.7"/>
<line x1="442.66" y1="469.5" x2="442.66" y2="471.1" stroke="#1c1c1c" stroke-width="0.7"/>
<line x1="445.79" y1="469.5" x2="445.79" y2="471.1" stroke="#1c1c1c" stroke-width="0.7"/>
<line x1="448.02" y1="469.5" x2="448.02" y2="471.1" stroke="#1c1c1c" stroke-width="0.7"/>
<line x1="449.74" y1="469.5" x2="449.74" y2="471.1" stroke="#1c1c1c" stroke-width="0.7"/>
<line x1="451.15" y1="469.5" x2="451.15" y2="471.1" stroke="#1c1c1c" stroke-width="0.7"/>
<line x1="452.34" y1="469.5" x2="452.34" y2="471.1" stroke="#1c1c1c" stroke-width="0.7"/>
<line x1="453.38" y1="469.5" x2="453.38" y2="471.1" stroke="#1c1c1c" stroke-width="0.7"/>
<line x1="454.29" y1="469.5" x2="454.29" y2="471.1" stroke="#1c1c1c" stroke-width="0.7"/>
<line x1="460.46" y1="469.5" x2="460.46" y2="471.1" stroke="#1c1c1c" stroke-width="0.7"/>
<line x1="463.59" y1="469.5" x2="463.59" y2="471.1" stroke="#1c1c1c" stroke-width="0.7"/>
<line x1="465.82" y1="469.5" x2="465.82" y2="471.1" stroke="#1c1c1c" stroke-width="0.7"/>
<line x1="467.54" y1="469.5" x2="467.54" y2="471.1" stroke="#1c1c1c" stroke-width="0.7"/>
<line x1="468.95" y1="469.5" x2="468.95" y2="471.1" stroke="#1c1c1c" stroke-width="0.7"/>
<line x1="470.14" y1="469.5" x2="470.14" y2="471.1" stroke="#1c1c1c" stroke-width="0.7"/>
<line x1="471.18" y1="469.5" x2="471.18" y2="471.1" stroke="#1c1c1c" stroke-width="0.7"/>
<line x1="472.09" y1="469.5" x2="472.09" y2="471.1" stroke="#1c1c1c" stroke-width="0.7"/>
<line x1="401.7" y1="469.5" x2="401.7" y2="472.3" stroke="#1c1c1c" stroke-width="0.9"/>
<text x="401.1" y="482.1" font-size="7.9" text-anchor="middle">10<tspan font-size="5.6" dy="-3.5">0</tspan></text>
<line x1="419.5" y1="469.5" x2="419.5" y2="472.3" stroke="#1c1c1c" stroke-width="0.9"/>
<text x="418.9" y="482.1" font-size="7.9" text-anchor="middle">10<tspan font-size="5.6" dy="-3.5">1</tspan></text>
<line x1="437.3" y1="469.5" x2="437.3" y2="472.3" stroke="#1c1c1c" stroke-width="0.9"/>
<text x="436.7" y="482.1" font-size="7.9" text-anchor="middle">10<tspan font-size="5.6" dy="-3.5">2</tspan></text>
<line x1="455.1" y1="469.5" x2="455.1" y2="472.3" stroke="#1c1c1c" stroke-width="0.9"/>
<text x="454.5" y="482.1" font-size="7.9" text-anchor="middle">10<tspan font-size="5.6" dy="-3.5">3</tspan></text>
<line x1="472.9" y1="469.5" x2="472.9" y2="472.3" stroke="#1c1c1c" stroke-width="0.9"/>
<text x="472.3" y="482.1" font-size="7.9" text-anchor="middle">10<tspan font-size="5.6" dy="-3.5">4</tspan></text>
<rect x="401.7" y="397.4" width="75.7" height="72.1" fill="none" stroke="#1c1c1c" stroke-width="1.05"/>
<line x1="289.2" y1="564.6" x2="292.4" y2="564.6" stroke="#1c1c1c" stroke-width="0.8"/>
<text x="286.1" y="567.1" font-size="7.9" text-anchor="end">0</text>
<line x1="290.4" y1="561.21" x2="292.4" y2="561.21" stroke="#1c1c1c" stroke-width="0.8"/>
<line x1="290.4" y1="557.81" x2="292.4" y2="557.81" stroke="#1c1c1c" stroke-width="0.8"/>
<line x1="290.4" y1="554.41" x2="292.4" y2="554.41" stroke="#1c1c1c" stroke-width="0.8"/>
<line x1="289.2" y1="551.02" x2="292.4" y2="551.02" stroke="#1c1c1c" stroke-width="0.8"/>
<text x="286.1" y="553.52" font-size="7.9" text-anchor="end">20</text>
<line x1="290.4" y1="547.62" x2="292.4" y2="547.62" stroke="#1c1c1c" stroke-width="0.8"/>
<line x1="290.4" y1="544.23" x2="292.4" y2="544.23" stroke="#1c1c1c" stroke-width="0.8"/>
<line x1="290.4" y1="540.84" x2="292.4" y2="540.84" stroke="#1c1c1c" stroke-width="0.8"/>
<line x1="289.2" y1="537.44" x2="292.4" y2="537.44" stroke="#1c1c1c" stroke-width="0.8"/>
<text x="286.1" y="539.94" font-size="7.9" text-anchor="end">40</text>
<line x1="290.4" y1="534.05" x2="292.4" y2="534.05" stroke="#1c1c1c" stroke-width="0.8"/>
<line x1="290.4" y1="530.65" x2="292.4" y2="530.65" stroke="#1c1c1c" stroke-width="0.8"/>
<line x1="290.4" y1="527.25" x2="292.4" y2="527.25" stroke="#1c1c1c" stroke-width="0.8"/>
<line x1="289.2" y1="523.86" x2="292.4" y2="523.86" stroke="#1c1c1c" stroke-width="0.8"/>
<text x="286.1" y="526.36" font-size="7.9" text-anchor="end">60</text>
<line x1="290.4" y1="520.47" x2="292.4" y2="520.47" stroke="#1c1c1c" stroke-width="0.8"/>
<line x1="290.4" y1="517.07" x2="292.4" y2="517.07" stroke="#1c1c1c" stroke-width="0.8"/>
<line x1="290.4" y1="513.67" x2="292.4" y2="513.67" stroke="#1c1c1c" stroke-width="0.8"/>
<line x1="289.2" y1="510.28" x2="292.4" y2="510.28" stroke="#1c1c1c" stroke-width="0.8"/>
<text x="286.1" y="512.78" font-size="7.9" text-anchor="end">80</text>
<line x1="290.4" y1="506.88" x2="292.4" y2="506.88" stroke="#1c1c1c" stroke-width="0.8"/>
<line x1="290.4" y1="503.49" x2="292.4" y2="503.49" stroke="#1c1c1c" stroke-width="0.8"/>
<line x1="290.4" y1="500.09" x2="292.4" y2="500.09" stroke="#1c1c1c" stroke-width="0.8"/>
<line x1="289.2" y1="496.7" x2="292.4" y2="496.7" stroke="#1c1c1c" stroke-width="0.8"/>
<text x="286.1" y="499.2" font-size="7.9" text-anchor="end">100</text>
<line x1="297.86" y1="564.6" x2="297.86" y2="566.2" stroke="#1c1c1c" stroke-width="0.7"/>
<line x1="301.05" y1="564.6" x2="301.05" y2="566.2" stroke="#1c1c1c" stroke-width="0.7"/>
<line x1="303.31" y1="564.6" x2="303.31" y2="566.2" stroke="#1c1c1c" stroke-width="0.7"/>
<line x1="305.07" y1="564.6" x2="305.07" y2="566.2" stroke="#1c1c1c" stroke-width="0.7"/>
<line x1="306.5" y1="564.6" x2="306.5" y2="566.2" stroke="#1c1c1c" stroke-width="0.7"/>
<line x1="307.72" y1="564.6" x2="307.72" y2="566.2" stroke="#1c1c1c" stroke-width="0.7"/>
<line x1="308.77" y1="564.6" x2="308.77" y2="566.2" stroke="#1c1c1c" stroke-width="0.7"/>
<line x1="309.7" y1="564.6" x2="309.7" y2="566.2" stroke="#1c1c1c" stroke-width="0.7"/>
<line x1="315.98" y1="564.6" x2="315.98" y2="566.2" stroke="#1c1c1c" stroke-width="0.7"/>
<line x1="319.17" y1="564.6" x2="319.17" y2="566.2" stroke="#1c1c1c" stroke-width="0.7"/>
<line x1="321.44" y1="564.6" x2="321.44" y2="566.2" stroke="#1c1c1c" stroke-width="0.7"/>
<line x1="323.19" y1="564.6" x2="323.19" y2="566.2" stroke="#1c1c1c" stroke-width="0.7"/>
<line x1="324.63" y1="564.6" x2="324.63" y2="566.2" stroke="#1c1c1c" stroke-width="0.7"/>
<line x1="325.84" y1="564.6" x2="325.84" y2="566.2" stroke="#1c1c1c" stroke-width="0.7"/>
<line x1="326.89" y1="564.6" x2="326.89" y2="566.2" stroke="#1c1c1c" stroke-width="0.7"/>
<line x1="327.82" y1="564.6" x2="327.82" y2="566.2" stroke="#1c1c1c" stroke-width="0.7"/>
<line x1="334.11" y1="564.6" x2="334.11" y2="566.2" stroke="#1c1c1c" stroke-width="0.7"/>
<line x1="337.3" y1="564.6" x2="337.3" y2="566.2" stroke="#1c1c1c" stroke-width="0.7"/>
<line x1="339.56" y1="564.6" x2="339.56" y2="566.2" stroke="#1c1c1c" stroke-width="0.7"/>
<line x1="341.32" y1="564.6" x2="341.32" y2="566.2" stroke="#1c1c1c" stroke-width="0.7"/>
<line x1="342.75" y1="564.6" x2="342.75" y2="566.2" stroke="#1c1c1c" stroke-width="0.7"/>
<line x1="343.97" y1="564.6" x2="343.97" y2="566.2" stroke="#1c1c1c" stroke-width="0.7"/>
<line x1="345.02" y1="564.6" x2="345.02" y2="566.2" stroke="#1c1c1c" stroke-width="0.7"/>
<line x1="345.95" y1="564.6" x2="345.95" y2="566.2" stroke="#1c1c1c" stroke-width="0.7"/>
<line x1="352.23" y1="564.6" x2="352.23" y2="566.2" stroke="#1c1c1c" stroke-width="0.7"/>
<line x1="355.42" y1="564.6" x2="355.42" y2="566.2" stroke="#1c1c1c" stroke-width="0.7"/>
<line x1="357.69" y1="564.6" x2="357.69" y2="566.2" stroke="#1c1c1c" stroke-width="0.7"/>
<line x1="359.44" y1="564.6" x2="359.44" y2="566.2" stroke="#1c1c1c" stroke-width="0.7"/>
<line x1="360.88" y1="564.6" x2="360.88" y2="566.2" stroke="#1c1c1c" stroke-width="0.7"/>
<line x1="362.09" y1="564.6" x2="362.09" y2="566.2" stroke="#1c1c1c" stroke-width="0.7"/>
<line x1="363.14" y1="564.6" x2="363.14" y2="566.2" stroke="#1c1c1c" stroke-width="0.7"/>
<line x1="364.07" y1="564.6" x2="364.07" y2="566.2" stroke="#1c1c1c" stroke-width="0.7"/>
<line x1="292.4" y1="564.6" x2="292.4" y2="567.4" stroke="#1c1c1c" stroke-width="0.9"/>
<text x="291.8" y="577.2" font-size="7.9" text-anchor="middle">10<tspan font-size="5.6" dy="-3.5">0</tspan></text>
<line x1="310.52" y1="564.6" x2="310.52" y2="567.4" stroke="#1c1c1c" stroke-width="0.9"/>
<text x="309.92" y="577.2" font-size="7.9" text-anchor="middle">10<tspan font-size="5.6" dy="-3.5">1</tspan></text>
<line x1="328.65" y1="564.6" x2="328.65" y2="567.4" stroke="#1c1c1c" stroke-width="0.9"/>
<text x="328.05" y="577.2" font-size="7.9" text-anchor="middle">10<tspan font-size="5.6" dy="-3.5">2</tspan></text>
<line x1="346.77" y1="564.6" x2="346.77" y2="567.4" stroke="#1c1c1c" stroke-width="0.9"/>
<text x="346.17" y="577.2" font-size="7.9" text-anchor="middle">10<tspan font-size="5.6" dy="-3.5">3</tspan></text>
<line x1="364.9" y1="564.6" x2="364.9" y2="567.4" stroke="#1c1c1c" stroke-width="0.9"/>
<text x="364.3" y="577.2" font-size="7.9" text-anchor="middle">10<tspan font-size="5.6" dy="-3.5">4</tspan></text>
<rect x="292.4" y="492.8" width="72.5" height="71.8" fill="none" stroke="#1c1c1c" stroke-width="1.05"/>
<line x1="398.5" y1="564.6" x2="401.7" y2="564.6" stroke="#1c1c1c" stroke-width="0.8"/>
<text x="395.4" y="567.1" font-size="7.9" text-anchor="end">0</text>
<line x1="399.7" y1="561.21" x2="401.7" y2="561.21" stroke="#1c1c1c" stroke-width="0.8"/>
<line x1="399.7" y1="557.81" x2="401.7" y2="557.81" stroke="#1c1c1c" stroke-width="0.8"/>
<line x1="399.7" y1="554.41" x2="401.7" y2="554.41" stroke="#1c1c1c" stroke-width="0.8"/>
<line x1="398.5" y1="551.02" x2="401.7" y2="551.02" stroke="#1c1c1c" stroke-width="0.8"/>
<text x="395.4" y="553.52" font-size="7.9" text-anchor="end">20</text>
<line x1="399.7" y1="547.62" x2="401.7" y2="547.62" stroke="#1c1c1c" stroke-width="0.8"/>
<line x1="399.7" y1="544.23" x2="401.7" y2="544.23" stroke="#1c1c1c" stroke-width="0.8"/>
<line x1="399.7" y1="540.84" x2="401.7" y2="540.84" stroke="#1c1c1c" stroke-width="0.8"/>
<line x1="398.5" y1="537.44" x2="401.7" y2="537.44" stroke="#1c1c1c" stroke-width="0.8"/>
<text x="395.4" y="539.94" font-size="7.9" text-anchor="end">40</text>
<line x1="399.7" y1="534.05" x2="401.7" y2="534.05" stroke="#1c1c1c" stroke-width="0.8"/>
<line x1="399.7" y1="530.65" x2="401.7" y2="530.65" stroke="#1c1c1c" stroke-width="0.8"/>
<line x1="399.7" y1="527.25" x2="401.7" y2="527.25" stroke="#1c1c1c" stroke-width="0.8"/>
<line x1="398.5" y1="523.86" x2="401.7" y2="523.86" stroke="#1c1c1c" stroke-width="0.8"/>
<text x="395.4" y="526.36" font-size="7.9" text-anchor="end">60</text>
<line x1="399.7" y1="520.47" x2="401.7" y2="520.47" stroke="#1c1c1c" stroke-width="0.8"/>
<line x1="399.7" y1="517.07" x2="401.7" y2="517.07" stroke="#1c1c1c" stroke-width="0.8"/>
<line x1="399.7" y1="513.67" x2="401.7" y2="513.67" stroke="#1c1c1c" stroke-width="0.8"/>
<line x1="398.5" y1="510.28" x2="401.7" y2="510.28" stroke="#1c1c1c" stroke-width="0.8"/>
<text x="395.4" y="512.78" font-size="7.9" text-anchor="end">80</text>
<line x1="399.7" y1="506.88" x2="401.7" y2="506.88" stroke="#1c1c1c" stroke-width="0.8"/>
<line x1="399.7" y1="503.49" x2="401.7" y2="503.49" stroke="#1c1c1c" stroke-width="0.8"/>
<line x1="399.7" y1="500.09" x2="401.7" y2="500.09" stroke="#1c1c1c" stroke-width="0.8"/>
<line x1="398.5" y1="496.7" x2="401.7" y2="496.7" stroke="#1c1c1c" stroke-width="0.8"/>
<text x="395.4" y="499.2" font-size="7.9" text-anchor="end">100</text>
<line x1="407.06" y1="564.6" x2="407.06" y2="566.2" stroke="#1c1c1c" stroke-width="0.7"/>
<line x1="410.19" y1="564.6" x2="410.19" y2="566.2" stroke="#1c1c1c" stroke-width="0.7"/>
<line x1="412.42" y1="564.6" x2="412.42" y2="566.2" stroke="#1c1c1c" stroke-width="0.7"/>
<line x1="414.14" y1="564.6" x2="414.14" y2="566.2" stroke="#1c1c1c" stroke-width="0.7"/>
<line x1="415.55" y1="564.6" x2="415.55" y2="566.2" stroke="#1c1c1c" stroke-width="0.7"/>
<line x1="416.74" y1="564.6" x2="416.74" y2="566.2" stroke="#1c1c1c" stroke-width="0.7"/>
<line x1="417.78" y1="564.6" x2="417.78" y2="566.2" stroke="#1c1c1c" stroke-width="0.7"/>
<line x1="418.69" y1="564.6" x2="418.69" y2="566.2" stroke="#1c1c1c" stroke-width="0.7"/>
<line x1="424.86" y1="564.6" x2="424.86" y2="566.2" stroke="#1c1c1c" stroke-width="0.7"/>
<line x1="427.99" y1="564.6" x2="427.99" y2="566.2" stroke="#1c1c1c" stroke-width="0.7"/>
<line x1="430.22" y1="564.6" x2="430.22" y2="566.2" stroke="#1c1c1c" stroke-width="0.7"/>
<line x1="431.94" y1="564.6" x2="431.94" y2="566.2" stroke="#1c1c1c" stroke-width="0.7"/>
<line x1="433.35" y1="564.6" x2="433.35" y2="566.2" stroke="#1c1c1c" stroke-width="0.7"/>
<line x1="434.54" y1="564.6" x2="434.54" y2="566.2" stroke="#1c1c1c" stroke-width="0.7"/>
<line x1="435.58" y1="564.6" x2="435.58" y2="566.2" stroke="#1c1c1c" stroke-width="0.7"/>
<line x1="436.49" y1="564.6" x2="436.49" y2="566.2" stroke="#1c1c1c" stroke-width="0.7"/>
<line x1="442.66" y1="564.6" x2="442.66" y2="566.2" stroke="#1c1c1c" stroke-width="0.7"/>
<line x1="445.79" y1="564.6" x2="445.79" y2="566.2" stroke="#1c1c1c" stroke-width="0.7"/>
<line x1="448.02" y1="564.6" x2="448.02" y2="566.2" stroke="#1c1c1c" stroke-width="0.7"/>
<line x1="449.74" y1="564.6" x2="449.74" y2="566.2" stroke="#1c1c1c" stroke-width="0.7"/>
<line x1="451.15" y1="564.6" x2="451.15" y2="566.2" stroke="#1c1c1c" stroke-width="0.7"/>
<line x1="452.34" y1="564.6" x2="452.34" y2="566.2" stroke="#1c1c1c" stroke-width="0.7"/>
<line x1="453.38" y1="564.6" x2="453.38" y2="566.2" stroke="#1c1c1c" stroke-width="0.7"/>
<line x1="454.29" y1="564.6" x2="454.29" y2="566.2" stroke="#1c1c1c" stroke-width="0.7"/>
<line x1="460.46" y1="564.6" x2="460.46" y2="566.2" stroke="#1c1c1c" stroke-width="0.7"/>
<line x1="463.59" y1="564.6" x2="463.59" y2="566.2" stroke="#1c1c1c" stroke-width="0.7"/>
<line x1="465.82" y1="564.6" x2="465.82" y2="566.2" stroke="#1c1c1c" stroke-width="0.7"/>
<line x1="467.54" y1="564.6" x2="467.54" y2="566.2" stroke="#1c1c1c" stroke-width="0.7"/>
<line x1="468.95" y1="564.6" x2="468.95" y2="566.2" stroke="#1c1c1c" stroke-width="0.7"/>
<line x1="470.14" y1="564.6" x2="470.14" y2="566.2" stroke="#1c1c1c" stroke-width="0.7"/>
<line x1="471.18" y1="564.6" x2="471.18" y2="566.2" stroke="#1c1c1c" stroke-width="0.7"/>
<line x1="472.09" y1="564.6" x2="472.09" y2="566.2" stroke="#1c1c1c" stroke-width="0.7"/>
<line x1="401.7" y1="564.6" x2="401.7" y2="567.4" stroke="#1c1c1c" stroke-width="0.9"/>
<text x="401.1" y="577.2" font-size="7.9" text-anchor="middle">10<tspan font-size="5.6" dy="-3.5">0</tspan></text>
<line x1="419.5" y1="564.6" x2="419.5" y2="567.4" stroke="#1c1c1c" stroke-width="0.9"/>
<text x="418.9" y="577.2" font-size="7.9" text-anchor="middle">10<tspan font-size="5.6" dy="-3.5">1</tspan></text>
<line x1="437.3" y1="564.6" x2="437.3" y2="567.4" stroke="#1c1c1c" stroke-width="0.9"/>
<text x="436.7" y="577.2" font-size="7.9" text-anchor="middle">10<tspan font-size="5.6" dy="-3.5">2</tspan></text>
<line x1="455.1" y1="564.6" x2="455.1" y2="567.4" stroke="#1c1c1c" stroke-width="0.9"/>
<text x="454.5" y="577.2" font-size="7.9" text-anchor="middle">10<tspan font-size="5.6" dy="-3.5">3</tspan></text>
<line x1="472.9" y1="564.6" x2="472.9" y2="567.4" stroke="#1c1c1c" stroke-width="0.9"/>
<text x="472.3" y="577.2" font-size="7.9" text-anchor="middle">10<tspan font-size="5.6" dy="-3.5">4</tspan></text>
<rect x="401.7" y="492.8" width="75.7" height="71.8" fill="none" stroke="#1c1c1c" stroke-width="1.05"/>
<polyline points="47.79,454.28 48.67,450.78 49.5,447.79 50.41,444.34 51.25,440.99 52.21,437.98 52.91,433.98 53.95,430.95 54.55,428.53 55.73,425.35 56.48,421.57 57.13,414.15 58.53,410.19 59.81,408.13 60.75,403.99 61.75,405.78 62.54,411.05 63.93,419.68 65.01,431.75 66.47,447.86 67.75,461.54 69.04,467.21 70.09,468.1 71.14,468.99 71.9,469.05 72.66,469.12 73.41,469.18 74.17,469.25 74.93,469.31 75.68,469.38 76.44,469.44 77.2,469.51 77.95,469.51 78.71,469.51 79.46,469.51 80.22,469.51 80.97,469.51 81.73,469.51 82.49,469.51 83.24,469.51 84,469.51 84.75,469.51 85.51,469.51 86.26,469.51 87.02,469.51 87.77,469.51 88.53,469.51 89.28,469.51 90.04,469.51 90.79,469.51 91.55,469.51 92.31,469.51 93.06,469.51 93.82,469.51 94.57,469.51 95.33,469.51 96.08,469.51 96.84,469.51 97.59,469.51 98.35,469.51 99.1,469.51 99.86,469.51 100.61,469.51 101.37,469.51 102.13,469.51 102.88,469.51 103.64,469.51 104.39,469.51 105.15,469.51 105.9,469.51 106.66,469.51 107.41,469.51 108.17,469.51 108.92,469.51 109.68,469.51 110.44,469.51 111.19,469.51 111.95,469.51 112.7,469.51 113.46,469.51 114.21,469.51 114.97,469.51 115.72,469.51 116.48,469.51 117.23,469.51 117.99,469.51 118.74,469.51 119.5,469.51" fill="none" stroke="#c8102e" stroke-width="1.35" stroke-linejoin="round"/>
<polyline points="47.44,464.66 48.71,460.31 49.39,458.78 50.34,456.39 51.35,455.5 52.15,454.76 53.03,453.48 53.82,451.05 54.85,449.04 55.68,446.92 56.5,443.91 57.27,441.14 58,437.76 59.18,433.08 59.75,429.21 60.92,425.36 61.6,420.16 62.43,415.86 63.24,412.88 64.06,409.5 65.72,408.11 66.79,404.01 67.67,408.53 68.38,414.38 69.92,419.91 71.2,427.08 71.96,428.19 72.93,430.25 73.64,430.97 74.61,432.52 75.47,435.13 76.45,436.51 77.2,438.21 78.04,439.3 79.02,440.76 79.81,441.78 81.25,445.31 82.31,450.36 83.3,453.7 84.1,456.43 84.91,459.62 86,462.91 86.81,465.09 87.61,467.18 88.43,467.99 89.31,468.76 90.17,469.51 90.92,469.51 91.68,469.51 92.43,469.51 93.18,469.51 93.93,469.51 94.68,469.51 95.44,469.51 96.19,469.51 96.94,469.51 97.69,469.51 98.44,469.51 99.2,469.51 99.95,469.51 100.7,469.51 101.45,469.51 102.2,469.51 102.96,469.51 103.71,469.51 104.46,469.51 105.21,469.51 105.96,469.51 106.72,469.51 107.47,469.51 108.22,469.51 108.97,469.51 109.72,469.51 110.48,469.51 111.23,469.51 111.98,469.51 112.73,469.51 113.48,469.51 114.24,469.51 114.99,469.51 115.74,469.51 116.49,469.51 117.24,469.51 118,469.51 118.75,469.51 119.5,469.51" fill="none" stroke="#15508c" stroke-width="1.35" stroke-linejoin="round"/>
<polyline points="160.27,400.65 160.27,469.51" fill="none" stroke="#c8102e" stroke-width="1.35" stroke-linejoin="round"/>
<polyline points="160.27,469.51 161.04,469.51 161.82,469.51 162.6,469.51 163.38,469.51 164.25,469.42 165.11,469.34 165.98,469.25 166.84,469.16 167.71,469.08 168.57,468.99 169.44,468.69 170.3,468.39 171.17,468.1 172.04,467.77 172.9,467.43 173.76,467.09 174.62,466.73 175.48,466.37 176.37,466.01 177.23,465.61 178.1,465.11 178.96,464.59 179.79,464.22 180.68,463.73 181.54,463.3 182.4,462.96 183.28,462.25 184.11,461.7 184.99,461.11 185.89,460.21 186.73,459.61 187.65,457.81 188.43,455.88 189.71,449.19 191.03,435.29 192.49,414.47 193.69,402.5 194.91,412.67 195.93,430.02 197.17,447.25 198.35,459.51 199.72,466.36 200.58,467.78 201.44,469.16 202.31,469.25 203.17,469.34 204.04,469.42 204.9,469.51 205.67,469.51 206.44,469.51 207.21,469.51 207.98,469.51 208.75,469.51 209.52,469.51 210.29,469.51 211.05,469.51 211.82,469.51 212.59,469.51 213.36,469.51 214.13,469.51 214.9,469.51 215.67,469.51 216.44,469.51 217.21,469.51 217.98,469.51 218.74,469.51 219.51,469.51 220.28,469.51 221.05,469.51 221.82,469.51 222.59,469.51 223.36,469.51 224.13,469.51 224.9,469.51 225.66,469.51 226.43,469.51 227.2,469.51 227.97,469.51 228.74,469.51 229.51,469.51 230.28,469.51 231.05,469.51 231.82,469.51 232.58,469.51" fill="none" stroke="#15508c" stroke-width="1.35" stroke-linejoin="round"/>
<polyline points="160.27,449.09 160.86,446.97 161.8,444.92 162.43,441.94 163.44,439.81 164.31,436.79 165.21,434.28 165.88,431.41 166.79,428.73 167.81,424.63 168.45,422.84 169.49,420.6 170.7,414.16 171.63,409.79 172.27,411.48 173.38,414.97 174.09,417.58 175.28,420.65 176.22,433.71 177.61,447.45 178.81,459.16 179.82,463.29 180.68,466.28 181.57,467.19 182.4,468.12 183.28,468.99 184.06,469.01 184.84,469.04 185.62,469.06 186.41,469.09 187.19,469.11 187.97,469.14 188.76,469.16 189.54,469.19 190.32,469.21 191.1,469.24 191.89,469.26 192.67,469.29 193.45,469.31 194.23,469.34 195.02,469.36 195.8,469.39 196.58,469.41 197.36,469.43 198.15,469.46 198.93,469.48 199.71,469.51" fill="none" stroke="#c8102e" stroke-width="1.35" stroke-linejoin="round"/>
<polyline points="47.44,550.28 47.9,549.74 48.99,547 49.64,546.37 51.52,542.87 52.88,539.75 52.73,534.43 53.5,533.9 54.29,528.48 56.15,527.64 56.01,524.34 57.32,521.88 58.1,514.07 58.38,510.14 59.68,508.18 61.42,505.61 61.48,503.35 63.25,501.71 64.56,498.34 64.53,499.72 66.63,507.32 67.15,519.98 68.02,528.58 68.8,543.34 70.1,550.33 72.28,560.59 72.84,562.45 73.74,564.12 74.52,564.18 75.29,564.23 76.07,564.28 76.85,564.33 77.63,564.38 78.41,564.44 79.19,564.49 79.97,564.54 80.74,564.59 81.52,564.64 82.28,564.64 83.04,564.64 83.8,564.64 84.56,564.64 85.32,564.64 86.08,564.64 86.84,564.64 87.6,564.64 88.36,564.64 89.12,564.64 89.88,564.64 90.64,564.64 91.4,564.64 92.16,564.64 92.92,564.64 93.68,564.64 94.43,564.64 95.19,564.64 95.95,564.64 96.71,564.64 97.47,564.64 98.23,564.64 98.99,564.64 99.75,564.64 100.51,564.64 101.27,564.64 102.03,564.64 102.79,564.64 103.55,564.64 104.31,564.64 105.07,564.64 105.83,564.64 106.59,564.64 107.35,564.64 108.11,564.64 108.87,564.64 109.63,564.64 110.39,564.64 111.14,564.64 111.9,564.64 112.66,564.64 113.42,564.64 114.18,564.64 114.94,564.64 115.7,564.64 116.46,564.64 117.22,564.64 117.98,564.64 118.74,564.64 119.5,564.64" fill="none" stroke="#c8102e" stroke-width="1.6" stroke-linejoin="round"/>
<polyline points="47.44,557.2 48.62,553.13 49.43,551.65 50.62,549.89 51.45,547.49 51.81,544.67 52.42,543.5 53.55,542.7 55.41,539.45 56.18,533.63 56.69,533.47 57.23,527.44 57.85,526.62 58.74,521.39 60.34,518.51 60.64,515.88 62.32,514.15 61.79,509.58 63.87,509.98 64.26,506.58 65.07,497.21 66.76,506.17 68.33,503.39 68.66,505.44 70.78,507.67 71.97,514.06 73.15,522.17 74.6,530.02 74.92,532.61 76.19,538.73 77.26,543.65 77.91,549.25 78.94,551.22 80.23,557.47 81.13,558.73 81.2,560.03 82.23,561.74 83.25,563.76 84.12,564.21 84.98,564.64 85.73,564.64 86.48,564.64 87.23,564.64 87.98,564.64 88.73,564.64 89.48,564.64 90.24,564.64 90.99,564.64 91.74,564.64 92.49,564.64 93.24,564.64 93.99,564.64 94.74,564.64 95.49,564.64 96.24,564.64 96.99,564.64 97.74,564.64 98.49,564.64 99.24,564.64 99.99,564.64 100.74,564.64 101.49,564.64 102.24,564.64 102.99,564.64 103.74,564.64 104.49,564.64 105.24,564.64 105.99,564.64 106.74,564.64 107.49,564.64 108.24,564.64 108.99,564.64 109.75,564.64 110.5,564.64 111.25,564.64 112,564.64 112.75,564.64 113.5,564.64 114.25,564.64 115,564.64 115.75,564.64 116.5,564.64 117.25,564.64 118,564.64 118.75,564.64 119.5,564.64" fill="none" stroke="#15508c" stroke-width="1.6" stroke-linejoin="round"/>
<polyline points="160.27,548.55 161.21,538.26 161.7,538.28 163.67,535.78 163.7,532.76 164.95,527.63 165.63,525.32 166.59,519.15 168.33,517.07 169.27,511.83 169.87,506.14 169.81,505.07 171.25,499.2 171.63,505.39 173.43,498.54 173.84,502.4 176.11,503.63 177.57,510.39 178.52,524.63 179.89,542.89 180.5,551.82 181.9,555.84 182.66,561.31 183.34,562.74 184.14,564.12 184.9,564.16 185.66,564.19 186.41,564.22 187.17,564.25 187.93,564.29 188.68,564.32 189.44,564.35 190.2,564.38 190.95,564.42 191.71,564.45 192.47,564.48 193.22,564.51 193.98,564.55 194.74,564.58 195.5,564.61 196.25,564.64 197.01,564.64 197.77,564.64 198.52,564.64 199.28,564.64 200.04,564.64 200.79,564.64 201.55,564.64 202.31,564.64 203.06,564.64 203.82,564.64 204.58,564.64 205.34,564.64 206.09,564.64 206.85,564.64 207.61,564.64 208.36,564.64 209.12,564.64 209.88,564.64 210.63,564.64 211.39,564.64 212.15,564.64 212.9,564.64 213.66,564.64 214.42,564.64 215.18,564.64 215.93,564.64 216.69,564.64 217.45,564.64 218.2,564.64 218.96,564.64 219.72,564.64 220.47,564.64 221.23,564.64 221.99,564.64 222.74,564.64 223.5,564.64 224.26,564.64 225.02,564.64 225.77,564.64 226.53,564.64 227.29,564.64 228.04,564.64 228.8,564.64 229.56,564.64 230.31,564.64 231.07,564.64 231.83,564.64 232.58,564.64" fill="none" stroke="#c8102e" stroke-width="1.6" stroke-linejoin="round"/>
<polyline points="159.92,560.66 161,556.84 161.23,554.81 162.51,552.84 163.32,550.2 163.9,545.88 164.86,544.13 166.38,540.6 167.46,537.91 167.34,531.92 168.68,530.46 169.68,524.87 170.77,524.1 170.88,518.01 172.7,513.71 173.21,511.1 173.89,508.91 175.08,506.27 175.22,503.97 176.84,499.44 177.59,500.07 179.14,504.31 179.93,509.13 181.46,514.7 182.38,514.44 183.56,514.09 184.19,517.33 185.44,517.64 185.93,520.44 186.24,518.36 187.01,521.64 188.53,526.66 190.25,533.53 191.47,543.88 192.7,551.56 193.99,553.85 194.44,555.74 195.02,560.84 195.8,562.7 196.93,563.5 197.98,564.64 198.73,564.64 199.49,564.64 200.24,564.64 200.99,564.64 201.74,564.64 202.5,564.64 203.25,564.64 204,564.64 204.75,564.64 205.5,564.64 206.26,564.64 207.01,564.64 207.76,564.64 208.51,564.64 209.27,564.64 210.02,564.64 210.77,564.64 211.52,564.64 212.27,564.64 213.03,564.64 213.78,564.64 214.53,564.64 215.28,564.64 216.04,564.64 216.79,564.64 217.54,564.64 218.29,564.64 219.04,564.64 219.8,564.64 220.55,564.64 221.3,564.64 222.05,564.64 222.81,564.64 223.56,564.64 224.31,564.64 225.06,564.64 225.81,564.64 226.57,564.64 227.32,564.64 228.07,564.64 228.82,564.64 229.58,564.64 230.33,564.64 231.08,564.64 231.83,564.64 232.58,564.64" fill="none" stroke="#15508c" stroke-width="1.6" stroke-linejoin="round"/>
<polyline points="292.27,457.74 293.23,456.19 294,454.3 295.04,451.58 295.6,448.88 296.51,445.83 297.38,442.87 298.78,440.92 300.25,437.66 301.29,429.76 302.66,422.84 304.11,414.38 305.39,413.06 306.71,403.71 307.8,406.1 308.81,402.88 310.2,407.99 311.46,414.78 312.7,426.33 314.17,442.4 315.15,455.9 316,460.47 316.89,464.8 317.87,466.38 318.74,468.09 319.49,468.3 320.26,468.49 321.01,468.65 321.76,468.82 322.52,468.99 323.28,469.16 324.04,469.34 324.79,469.51 325.55,469.51 326.31,469.51 327.06,469.51 327.82,469.51 328.58,469.51 329.34,469.51 330.09,469.51 330.85,469.51 331.61,469.51 332.37,469.51 333.12,469.51 333.88,469.51 334.64,469.51 335.39,469.51 336.15,469.51 336.91,469.51 337.67,469.51 338.42,469.51 339.18,469.51 339.94,469.51 340.7,469.51 341.45,469.51 342.21,469.51 342.97,469.51 343.73,469.51 344.48,469.51 345.24,469.51 346,469.51 346.75,469.51 347.51,469.51 348.27,469.51 349.03,469.51 349.78,469.51 350.54,469.51 351.3,469.51 352.06,469.51 352.81,469.51 353.57,469.51 354.33,469.51 355.09,469.51 355.84,469.51 356.6,469.51 357.36,469.51 358.11,469.51 358.87,469.51 359.63,469.51 360.39,469.51 361.14,469.51 361.9,469.51 362.66,469.51 363.42,469.51 364.17,469.51 364.93,469.51" fill="none" stroke="#c8102e" stroke-width="1.35" stroke-linejoin="round"/>
<polyline points="292.27,468.12 293.41,467.36 294.57,466.5 295.4,466 296.31,466.01 297.05,465.57 298.12,463.73 298.78,461.67 299.86,460.79 300.85,458.32 301.98,455.99 303.21,452.48 304.29,448.97 305.44,444.35 306.31,439.55 307.56,434.94 308.42,430.71 309.09,426.27 310.16,421.8 310.85,418.31 312.17,410.77 313.48,405.99 314.46,408.07 315.26,406.81 316.19,408.95 316.98,402.44 318.02,410.7 319.32,420.04 320.5,427.1 321.54,433.37 322.72,444.01 324.1,454.22 325.01,463.26 326.51,468.16 327.39,468.82 328.25,469.51 329.02,469.51 329.78,469.51 330.54,469.51 331.31,469.51 332.07,469.51 332.84,469.51 333.6,469.51 334.37,469.51 335.13,469.51 335.89,469.51 336.66,469.51 337.42,469.51 338.19,469.51 338.95,469.51 339.71,469.51 340.48,469.51 341.24,469.51 342.01,469.51 342.77,469.51 343.54,469.51 344.3,469.51 345.06,469.51 345.83,469.51 346.59,469.51 347.36,469.51 348.12,469.51 348.88,469.51 349.65,469.51 350.41,469.51 351.18,469.51 351.94,469.51 352.7,469.51 353.47,469.51 354.23,469.51 355,469.51 355.76,469.51 356.53,469.51 357.29,469.51 358.05,469.51 358.82,469.51 359.58,469.51 360.35,469.51 361.11,469.51 361.87,469.51 362.64,469.51 363.4,469.51 364.17,469.51 364.93,469.51" fill="none" stroke="#15508c" stroke-width="1.35" stroke-linejoin="round"/>
<polyline points="401.65,399.79 401.68,466.27 402.51,466.02 403.43,465.38 404.25,464.87 405.04,463.8 405.93,462.46 406.69,462.15 407.61,461.5 408.41,460.07 409.52,459.54 410.34,458.12 411.11,455.55 411.9,454.28 412.85,453.01 413.87,450.48 414.78,447.85 415.51,445.59 416.35,442.02 417.06,438.4 417.99,434.75 418.85,430.34 419.95,425.34 420.77,419.94 422.15,411.11 423.27,404.08 424.04,407.9 425.66,411.45 426.69,421.32 427.91,431.74 429.29,444.4 430.57,453.81 432.09,463.14 433.14,467.26 434.27,468.39 435.39,469.51 436.14,469.51 436.89,469.51 437.64,469.51 438.39,469.51 439.14,469.51 439.89,469.51 440.64,469.51 441.39,469.51 442.14,469.51 442.89,469.51 443.64,469.51 444.39,469.51 445.14,469.51 445.89,469.51 446.64,469.51 447.39,469.51 448.14,469.51 448.89,469.51 449.64,469.51 450.39,469.51 451.14,469.51 451.89,469.51 452.64,469.51 453.39,469.51 454.14,469.51 454.89,469.51 455.64,469.51 456.39,469.51 457.14,469.51 457.9,469.51 458.65,469.51 459.4,469.51 460.15,469.51 460.9,469.51 461.65,469.51 462.4,469.51 463.15,469.51 463.9,469.51 464.65,469.51 465.4,469.51 466.15,469.51 466.9,469.51 467.65,469.51 468.4,469.51 469.15,469.51 469.9,469.51 470.65,469.51 471.4,469.51 472.15,469.51 472.9,469.51" fill="none" stroke="#15508c" stroke-width="1.35" stroke-linejoin="round"/>
<polyline points="401.65,443.9 401.87,442.63 403.21,439.97 404.11,431.48 405.4,429.35 406.4,426.99 407.64,418.41 409.07,414.59 410.1,408.62 410.66,411.24 411.72,407.09 412.27,404.79 413.44,409.65 414.72,418.39 415.86,430.52 417.26,444.1 418.77,455.77 419.57,459.29 420.39,463.37 421.45,464.42 422.37,466.46 423.28,466.83 424.17,467.43 425.01,468.08 425.87,468.64 426.64,468.74 427.41,468.84 428.18,468.93 428.95,469.03 429.72,469.12 430.49,469.22 431.25,469.32 432.02,469.41 432.79,469.51" fill="none" stroke="#c8102e" stroke-width="1.35" stroke-linejoin="round"/>
<polyline points="292.79,534.71 294.28,532.02 294.77,525.9 296.2,522.77 297.22,516.6 298.81,509.94 300.2,504.8 301.18,501.85 302.25,502.22 303.31,505.32 303.75,504.18 304.95,509.27 306.18,517.7 307.4,532.1 308.79,545.56 310.19,555.6 310.74,558.66 311.85,562.38 312.68,562.99 313.54,563.56 314.41,564.12 315.21,564.16 316.01,564.2 316.81,564.24 317.61,564.28 318.4,564.32 319.2,564.36 320,564.4 320.8,564.44 321.6,564.48 322.4,564.52 323.2,564.56 323.99,564.6 324.79,564.64 325.55,564.64 326.31,564.64 327.06,564.64 327.82,564.64 328.58,564.64 329.34,564.64 330.09,564.64 330.85,564.64 331.61,564.64 332.37,564.64 333.12,564.64 333.88,564.64 334.64,564.64 335.39,564.64 336.15,564.64 336.91,564.64 337.67,564.64 338.42,564.64 339.18,564.64 339.94,564.64 340.7,564.64 341.45,564.64 342.21,564.64 342.97,564.64 343.73,564.64 344.48,564.64 345.24,564.64 346,564.64 346.75,564.64 347.51,564.64 348.27,564.64 349.03,564.64 349.78,564.64 350.54,564.64 351.3,564.64 352.06,564.64 352.81,564.64 353.57,564.64 354.33,564.64 355.09,564.64 355.84,564.64 356.6,564.64 357.36,564.64 358.11,564.64 358.87,564.64 359.63,564.64 360.39,564.64 361.14,564.64 361.9,564.64 362.66,564.64 363.42,564.64 364.17,564.64 364.93,564.64" fill="none" stroke="#c8102e" stroke-width="1.35" stroke-linejoin="round"/>
<polyline points="292.44,495.79 292.65,543.75 293.96,535.87 294.62,530.7 295.89,528.79 297.24,521.97 298.66,518.68 299.59,515.14 299.98,513.1 301.72,508.79 302.61,505.73 304.32,508.41 305.06,503.69 305.55,502.46 306.5,503.26 307.41,515.76 309.14,518.12 310.34,522.27 311.04,523.56 312.87,522.9 313.86,525.77 314.26,528.44 315.54,531.69 316.14,532.25 316.78,535.82 318.33,543.33 319.37,551.14 320.78,553.75 321.35,557.68 322.26,559.02 323.1,561.36 324.09,562.87 325.14,564.12 325.92,564.25 326.7,564.38 327.47,564.51 328.25,564.64 329.02,564.64 329.78,564.64 330.54,564.64 331.31,564.64 332.07,564.64 332.84,564.64 333.6,564.64 334.37,564.64 335.13,564.64 335.89,564.64 336.66,564.64 337.42,564.64 338.19,564.64 338.95,564.64 339.71,564.64 340.48,564.64 341.24,564.64 342.01,564.64 342.77,564.64 343.54,564.64 344.3,564.64 345.06,564.64 345.83,564.64 346.59,564.64 347.36,564.64 348.12,564.64 348.88,564.64 349.65,564.64 350.41,564.64 351.18,564.64 351.94,564.64 352.7,564.64 353.47,564.64 354.23,564.64 355,564.64 355.76,564.64 356.53,564.64 357.29,564.64 358.05,564.64 358.82,564.64 359.58,564.64 360.35,564.64 361.11,564.64 361.87,564.64 362.64,564.64 363.4,564.64 364.17,564.64 364.93,564.64" fill="none" stroke="#15508c" stroke-width="1.35" stroke-linejoin="round"/>
<polyline points="402,531.25 403.5,524.23 404.68,517.69 406.01,510.79 406.97,504.93 407.65,510.3 408.6,506.97 409.49,505 410.3,502.11 411.2,504.67 411.94,507.29 413.41,513.84 414.76,522.29 415.72,536.55 417.2,550.35 417.99,554.36 418.85,558.91 419.99,560.69 421.05,562.32 421.79,562.76 422.58,563.28 423.36,563.69 424.14,564.12 424.93,564.17 425.71,564.22 426.5,564.27 427.29,564.31 428.07,564.36 428.86,564.41 429.65,564.45 430.43,564.5 431.22,564.55 432.01,564.6 432.79,564.64 433.55,564.64 434.31,564.64 435.06,564.64 435.82,564.64 436.58,564.64 437.33,564.64 438.09,564.64 438.85,564.64 439.6,564.64 440.36,564.64 441.12,564.64 441.87,564.64 442.63,564.64 443.39,564.64 444.14,564.64 444.9,564.64 445.66,564.64 446.41,564.64 447.17,564.64 447.93,564.64 448.68,564.64 449.44,564.64 450.2,564.64 450.95,564.64 451.71,564.64 452.47,564.64 453.22,564.64 453.98,564.64 454.74,564.64 455.49,564.64 456.25,564.64 457.01,564.64 457.77,564.64 458.52,564.64 459.28,564.64 460.04,564.64 460.79,564.64 461.55,564.64 462.31,564.64 463.06,564.64 463.82,564.64 464.58,564.64 465.33,564.64 466.09,564.64 466.85,564.64 467.6,564.64 468.36,564.64 469.12,564.64 469.87,564.64 470.63,564.64 471.39,564.64 472.14,564.64 472.9,564.64" fill="none" stroke="#c8102e" stroke-width="1.35" stroke-linejoin="round"/>
<polyline points="401.65,495.79 401.57,550.48 403.06,543.13 404.32,536.09 404.98,534.06 405.98,531.4 406.97,527.9 407.68,524.72 408.65,521.15 409.3,517.79 410.22,515.17 411.19,511.92 412.51,509.03 413.85,506.92 415.28,510.12 416.37,513.79 417.44,517.98 418.98,520.48 420.42,522.65 421.53,522.02 422.33,525.48 423.73,529.83 424.97,533.33 426.22,539.85 427.48,546.47 429.05,553.78 429.83,555.97 430.78,558.85 431.52,561.03 432.43,562.75 433.31,563.7 434.18,564.64 434.94,564.64 435.7,564.64 436.45,564.64 437.21,564.64 437.97,564.64 438.73,564.64 439.49,564.64 440.25,564.64 441.01,564.64 441.77,564.64 442.53,564.64 443.29,564.64 444.05,564.64 444.81,564.64 445.57,564.64 446.33,564.64 447.08,564.64 447.84,564.64 448.6,564.64 449.36,564.64 450.12,564.64 450.88,564.64 451.64,564.64 452.4,564.64 453.16,564.64 453.92,564.64 454.68,564.64 455.44,564.64 456.2,564.64 456.96,564.64 457.71,564.64 458.47,564.64 459.23,564.64 459.99,564.64 460.75,564.64 461.51,564.64 462.27,564.64 463.03,564.64 463.79,564.64 464.55,564.64 465.31,564.64 466.07,564.64 466.83,564.64 467.59,564.64 468.34,564.64 469.1,564.64 469.86,564.64 470.62,564.64 471.38,564.64 472.14,564.64 472.9,564.64" fill="none" stroke="#15508c" stroke-width="1.35" stroke-linejoin="round"/>
<text x="85.6" y="391.6" font-size="9.2" text-anchor="middle" textLength="24.5" lengthAdjust="spacingAndGlyphs">Day 0</text>
<text x="196.3" y="391.6" font-size="9.2" text-anchor="middle" textLength="24.5" lengthAdjust="spacingAndGlyphs">Day 4</text>
<text x="329.6" y="391.6" font-size="9.2" text-anchor="middle" textLength="24.5" lengthAdjust="spacingAndGlyphs">Day 0</text>
<text x="439.3" y="391.6" font-size="9.2" text-anchor="middle" textLength="24.5" lengthAdjust="spacingAndGlyphs">Day 4</text>
<text x="483.7" y="432.7" font-size="9.5" textLength="14.5" lengthAdjust="spacingAndGlyphs">WT</text>
<text x="484.1" y="531.7" font-size="9.3" font-style="italic" textLength="25.5" lengthAdjust="spacingAndGlyphs">Il33<tspan font-size="6" dy="-4.3">&#8722;/&#8722;</tspan></text>
<line x1="23.1" y1="583.8" x2="228" y2="583.8" stroke="#000" stroke-width="1.1"/>
<path d="M233.4 583.8L227.8 580.9L227.8 586.7Z" fill="#000"/>
<line x1="23.1" y1="584.3" x2="23.1" y2="400.5" stroke="#000" stroke-width="1.1"/>
<path d="M23.1 396.4L20.3 401.2L25.9 401.2Z" fill="#000"/>
<line x1="292.1" y1="584" x2="474" y2="584" stroke="#000" stroke-width="1.1"/>
<path d="M478 584L472.4 581.1L472.4 586.9Z" fill="#000"/>
<text x="118.9" y="598.8" font-size="9.5" text-anchor="middle" textLength="22.5" lengthAdjust="spacingAndGlyphs">CD62P</text>
<text x="385" y="598.8" font-size="9.5" text-anchor="middle" textLength="20.2" lengthAdjust="spacingAndGlyphs">Jon/A</text>
<text x="14.8" y="489" font-size="9.8" text-anchor="middle" textLength="19.7" lengthAdjust="spacingAndGlyphs" transform="rotate(-90 14.8 489)">Max%</text>
<text x="7.1" y="620.5" font-size="10.5" font-weight="bold" fill="#000" stroke="#000" stroke-width="0.6">I</text>
<text x="78.3" y="621" font-size="10" text-anchor="middle" textLength="29" lengthAdjust="spacingAndGlyphs">CD62P</text>
<text x="201.6" y="621" font-size="10" text-anchor="middle" textLength="25.8" lengthAdjust="spacingAndGlyphs">Jon/A</text>
<rect x="43.8" y="675.6" width="12.2" height="23" fill="#e3828f"/>
<rect x="62.2" y="668.9" width="12.5" height="29.7" fill="#8aa9c9"/>
<rect x="81.2" y="688" width="11.9" height="10.6" fill="#e3828f"/>
<rect x="100" y="683.7" width="12" height="14.9" fill="#8aa9c9"/>
<line x1="38.3" y1="631" x2="38.3" y2="699.1" stroke="#1c1c1c" stroke-width="1.1"/>
<line x1="35.5" y1="634.2" x2="38.3" y2="634.2" stroke="#1c1c1c" stroke-width="1"/>
<text x="32.5" y="637" font-size="7.8" text-anchor="end" textLength="8.2" lengthAdjust="spacingAndGlyphs">80</text>
<line x1="35.5" y1="650.3" x2="38.3" y2="650.3" stroke="#1c1c1c" stroke-width="1"/>
<text x="32.5" y="653.1" font-size="7.8" text-anchor="end" textLength="8.2" lengthAdjust="spacingAndGlyphs">60</text>
<line x1="35.5" y1="666.4" x2="38.3" y2="666.4" stroke="#1c1c1c" stroke-width="1"/>
<text x="32.5" y="669.2" font-size="7.8" text-anchor="end" textLength="8.2" lengthAdjust="spacingAndGlyphs">40</text>
<line x1="35.5" y1="682.5" x2="38.3" y2="682.5" stroke="#1c1c1c" stroke-width="1"/>
<text x="32.5" y="685.3" font-size="7.8" text-anchor="end" textLength="8.2" lengthAdjust="spacingAndGlyphs">20</text>
<line x1="35.5" y1="698.6" x2="38.3" y2="698.6" stroke="#1c1c1c" stroke-width="1"/>
<text x="32.5" y="701.4" font-size="7.8" text-anchor="end">0</text>
<line x1="37.8" y1="698.6" x2="117.5" y2="698.6" stroke="#1c1c1c" stroke-width="1.1"/>
<line x1="49.8" y1="698.6" x2="49.8" y2="701.4" stroke="#1c1c1c" stroke-width="1"/>
<line x1="68.4" y1="698.6" x2="68.4" y2="701.4" stroke="#1c1c1c" stroke-width="1"/>
<line x1="87.2" y1="698.6" x2="87.2" y2="701.4" stroke="#1c1c1c" stroke-width="1"/>
<line x1="105.9" y1="698.6" x2="105.9" y2="701.4" stroke="#1c1c1c" stroke-width="1"/>
<text x="15.4" y="664.9" font-size="9.8" text-anchor="middle" textLength="12" lengthAdjust="spacingAndGlyphs" transform="rotate(-90 15.4 664.9)">MFI</text>
<line x1="44" y1="675.6" x2="55.6" y2="675.6" stroke="#1c1c1c" stroke-width="1"/>
<line x1="49.8" y1="671" x2="49.8" y2="680" stroke="#1c1c1c" stroke-width="1"/>
<line x1="47" y1="671" x2="52.6" y2="671" stroke="#1c1c1c" stroke-width="1"/>
<line x1="47" y1="680" x2="52.6" y2="680" stroke="#1c1c1c" stroke-width="1"/>
<rect x="50.15" y="669.75" width="3.1" height="3.1" fill="#c8102e"/>
<rect x="46.95" y="671.25" width="3.1" height="3.1" fill="#c8102e"/>
<rect x="46.95" y="674.15" width="3.1" height="3.1" fill="#c8102e"/>
<rect x="50.15" y="674.85" width="3.1" height="3.1" fill="#c8102e"/>
<rect x="52.65" y="674.85" width="3.1" height="3.1" fill="#c8102e"/>
<rect x="43.75" y="677.95" width="3.1" height="3.1" fill="#c8102e"/>
<rect x="50.15" y="678.45" width="3.1" height="3.1" fill="#c8102e"/>
<rect x="52.65" y="678.95" width="3.1" height="3.1" fill="#c8102e"/>
<rect x="46.95" y="680.55" width="3.1" height="3.1" fill="#c8102e"/>
<rect x="50.15" y="681.15" width="3.1" height="3.1" fill="#c8102e"/>
<rect x="48.25" y="686.45" width="3.1" height="3.1" fill="#c8102e"/>
<line x1="62.8" y1="669.1" x2="74" y2="669.1" stroke="#1c1c1c" stroke-width="1"/>
<line x1="68.4" y1="657.7" x2="68.4" y2="680" stroke="#1c1c1c" stroke-width="1"/>
<line x1="65.6" y1="657.7" x2="71.2" y2="657.7" stroke="#1c1c1c" stroke-width="1"/>
<line x1="65.6" y1="680" x2="71.2" y2="680" stroke="#1c1c1c" stroke-width="1"/>
<rect x="66.85" y="649.75" width="3.1" height="3.1" fill="#15508c"/>
<rect x="62.55" y="656.65" width="3.1" height="3.1" fill="#15508c"/>
<rect x="71.85" y="657.25" width="3.1" height="3.1" fill="#15508c"/>
<rect x="62.55" y="662.05" width="3.1" height="3.1" fill="#15508c"/>
<rect x="71.85" y="664.55" width="3.1" height="3.1" fill="#15508c"/>
<rect x="62.55" y="667.35" width="3.1" height="3.1" fill="#15508c"/>
<rect x="66.85" y="672.85" width="3.1" height="3.1" fill="#15508c"/>
<rect x="66.85" y="677.65" width="3.1" height="3.1" fill="#15508c"/>
<rect x="71.85" y="680.05" width="3.1" height="3.1" fill="#15508c"/>
<rect x="62.55" y="683.25" width="3.1" height="3.1" fill="#15508c"/>
<line x1="81.4" y1="680.3" x2="93" y2="680.3" stroke="#1c1c1c" stroke-width="1"/>
<line x1="87.2" y1="673.2" x2="87.2" y2="687.5" stroke="#1c1c1c" stroke-width="1"/>
<line x1="84.4" y1="673.2" x2="90" y2="673.2" stroke="#1c1c1c" stroke-width="1"/>
<line x1="84.4" y1="687.5" x2="90" y2="687.5" stroke="#1c1c1c" stroke-width="1"/>
<circle cx="87.2" cy="676.4" r="1.6" fill="#c8102e"/>
<circle cx="86.4" cy="681.1" r="1.6" fill="#c8102e"/>
<circle cx="87.2" cy="685.3" r="1.6" fill="#c8102e"/>
<circle cx="83.3" cy="689.1" r="1.6" fill="#c8102e"/>
<circle cx="87.2" cy="688.8" r="1.6" fill="#c8102e"/>
<circle cx="91.2" cy="689.1" r="1.6" fill="#c8102e"/>
<circle cx="82.5" cy="692" r="1.6" fill="#c8102e"/>
<circle cx="86.4" cy="692.3" r="1.6" fill="#c8102e"/>
<circle cx="91.2" cy="692" r="1.6" fill="#c8102e"/>
<circle cx="88.8" cy="690.7" r="1.6" fill="#c8102e"/>
<line x1="100.1" y1="684" x2="111.7" y2="684" stroke="#1c1c1c" stroke-width="1"/>
<line x1="105.9" y1="677.3" x2="105.9" y2="690" stroke="#1c1c1c" stroke-width="1"/>
<line x1="103.1" y1="677.3" x2="108.7" y2="677.3" stroke="#1c1c1c" stroke-width="1"/>
<line x1="103.1" y1="690" x2="108.7" y2="690" stroke="#1c1c1c" stroke-width="1"/>
<circle cx="105.6" cy="668.4" r="1.6" fill="#15508c"/>
<circle cx="101.6" cy="684.3" r="1.6" fill="#15508c"/>
<circle cx="104" cy="683.2" r="1.6" fill="#15508c"/>
<circle cx="108" cy="681.6" r="1.6" fill="#15508c"/>
<circle cx="109.6" cy="684.3" r="1.6" fill="#15508c"/>
<circle cx="103.2" cy="686.4" r="1.6" fill="#15508c"/>
<circle cx="107.2" cy="685.6" r="1.6" fill="#15508c"/>
<circle cx="103.2" cy="688.8" r="1.6" fill="#15508c"/>
<circle cx="107.2" cy="688" r="1.6" fill="#15508c"/>
<circle cx="105.6" cy="686.9" r="1.6" fill="#15508c"/>
<line x1="43.7" y1="645.7" x2="72.1" y2="645.7" stroke="#777" stroke-width="1.1"/>
<polygon points="57.9,640.9 58.4,642.21 59.8,642.28 58.71,643.16 59.08,644.52 57.9,643.75 56.72,644.52 57.09,643.16 56,642.28 57.4,642.21" fill="#111"/>
<line x1="60.9" y1="634.6" x2="110.4" y2="634.6" stroke="#777" stroke-width="1.1"/>
<polygon points="83.65,629.8 84.15,631.11 85.55,631.18 84.46,632.06 84.83,633.42 83.65,632.65 82.47,633.42 82.84,632.06 81.75,631.18 83.15,631.11" fill="#111"/>
<polygon points="87.65,629.8 88.15,631.11 89.55,631.18 88.46,632.06 88.83,633.42 87.65,632.65 86.47,633.42 86.84,632.06 85.75,631.18 87.15,631.11" fill="#111"/>
<rect x="167.2" y="680" width="12.3" height="18.6" fill="#e3828f"/>
<rect x="186.3" y="667.3" width="12" height="31.3" fill="#8aa9c9"/>
<rect x="205.5" y="685.3" width="11.9" height="13.3" fill="#e3828f"/>
<rect x="224.1" y="681.1" width="12.1" height="17.5" fill="#8aa9c9"/>
<line x1="161.3" y1="629.5" x2="161.3" y2="699.1" stroke="#1c1c1c" stroke-width="1.1"/>
<line x1="158.5" y1="633" x2="161.3" y2="633" stroke="#1c1c1c" stroke-width="1"/>
<text x="155.1" y="635.8" font-size="7.8" text-anchor="end" textLength="8.2" lengthAdjust="spacingAndGlyphs">40</text>
<line x1="158.5" y1="649.4" x2="161.3" y2="649.4" stroke="#1c1c1c" stroke-width="1"/>
<text x="155.1" y="652.2" font-size="7.8" text-anchor="end" textLength="8.2" lengthAdjust="spacingAndGlyphs">30</text>
<line x1="158.5" y1="665.8" x2="161.3" y2="665.8" stroke="#1c1c1c" stroke-width="1"/>
<text x="155.1" y="668.6" font-size="7.8" text-anchor="end" textLength="8.2" lengthAdjust="spacingAndGlyphs">20</text>
<line x1="158.5" y1="682.2" x2="161.3" y2="682.2" stroke="#1c1c1c" stroke-width="1"/>
<text x="155.1" y="685" font-size="7.8" text-anchor="end" textLength="8.2" lengthAdjust="spacingAndGlyphs">10</text>
<line x1="158.5" y1="698.6" x2="161.3" y2="698.6" stroke="#1c1c1c" stroke-width="1"/>
<text x="155.1" y="701.4" font-size="7.8" text-anchor="end">0</text>
<line x1="160.8" y1="698.6" x2="242" y2="698.6" stroke="#1c1c1c" stroke-width="1.1"/>
<line x1="173.2" y1="698.6" x2="173.2" y2="701.4" stroke="#1c1c1c" stroke-width="1"/>
<line x1="192.2" y1="698.6" x2="192.2" y2="701.4" stroke="#1c1c1c" stroke-width="1"/>
<line x1="211.4" y1="698.6" x2="211.4" y2="701.4" stroke="#1c1c1c" stroke-width="1"/>
<line x1="230.2" y1="698.6" x2="230.2" y2="701.4" stroke="#1c1c1c" stroke-width="1"/>
<line x1="167.4" y1="680" x2="179" y2="680" stroke="#1c1c1c" stroke-width="1"/>
<line x1="173.2" y1="674.1" x2="173.2" y2="684.3" stroke="#1c1c1c" stroke-width="1"/>
<line x1="170.4" y1="674.1" x2="176" y2="674.1" stroke="#1c1c1c" stroke-width="1"/>
<line x1="170.4" y1="684.3" x2="176" y2="684.3" stroke="#1c1c1c" stroke-width="1"/>
<rect x="171.55" y="668.55" width="3.1" height="3.1" fill="#c8102e"/>
<rect x="166.75" y="673.25" width="3.1" height="3.1" fill="#c8102e"/>
<rect x="171.55" y="673.25" width="3.1" height="3.1" fill="#c8102e"/>
<rect x="176.35" y="675.25" width="3.1" height="3.1" fill="#c8102e"/>
<rect x="166.75" y="677.35" width="3.1" height="3.1" fill="#c8102e"/>
<rect x="171.55" y="677.65" width="3.1" height="3.1" fill="#c8102e"/>
<rect x="166.75" y="680.85" width="3.1" height="3.1" fill="#c8102e"/>
<rect x="171.55" y="681.15" width="3.1" height="3.1" fill="#c8102e"/>
<rect x="176.35" y="680.55" width="3.1" height="3.1" fill="#c8102e"/>
<rect x="166.75" y="684.85" width="3.1" height="3.1" fill="#c8102e"/>
<rect x="176.35" y="684.05" width="3.1" height="3.1" fill="#c8102e"/>
<line x1="186.4" y1="667.3" x2="198" y2="667.3" stroke="#1c1c1c" stroke-width="1"/>
<line x1="192.2" y1="656.4" x2="192.2" y2="677.3" stroke="#1c1c1c" stroke-width="1"/>
<line x1="189.4" y1="656.4" x2="195" y2="656.4" stroke="#1c1c1c" stroke-width="1"/>
<line x1="189.4" y1="677.3" x2="195" y2="677.3" stroke="#1c1c1c" stroke-width="1"/>
<rect x="190.65" y="647.65" width="3.1" height="3.1" fill="#15508c"/>
<rect x="185.85" y="656.95" width="3.1" height="3.1" fill="#15508c"/>
<rect x="195.45" y="660.15" width="3.1" height="3.1" fill="#15508c"/>
<rect x="185.85" y="662.05" width="3.1" height="3.1" fill="#15508c"/>
<rect x="190.65" y="660.95" width="3.1" height="3.1" fill="#15508c"/>
<rect x="195.45" y="665.25" width="3.1" height="3.1" fill="#15508c"/>
<rect x="190.65" y="670.95" width="3.1" height="3.1" fill="#15508c"/>
<rect x="195.45" y="670.05" width="3.1" height="3.1" fill="#15508c"/>
<rect x="190.65" y="676.05" width="3.1" height="3.1" fill="#15508c"/>
<rect x="190.65" y="683.75" width="3.1" height="3.1" fill="#15508c"/>
<line x1="205.6" y1="685.3" x2="217.2" y2="685.3" stroke="#1c1c1c" stroke-width="1"/>
<line x1="211.4" y1="678.9" x2="211.4" y2="691.2" stroke="#1c1c1c" stroke-width="1"/>
<line x1="208.6" y1="678.9" x2="214.2" y2="678.9" stroke="#1c1c1c" stroke-width="1"/>
<line x1="208.6" y1="691.2" x2="214.2" y2="691.2" stroke="#1c1c1c" stroke-width="1"/>
<circle cx="211" cy="673.6" r="1.6" fill="#c8102e"/>
<circle cx="206.3" cy="682.1" r="1.6" fill="#c8102e"/>
<circle cx="211" cy="681.6" r="1.6" fill="#c8102e"/>
<circle cx="215.8" cy="679.2" r="1.6" fill="#c8102e"/>
<circle cx="206.3" cy="686" r="1.6" fill="#c8102e"/>
<circle cx="211" cy="685.3" r="1.6" fill="#c8102e"/>
<circle cx="215.8" cy="686" r="1.6" fill="#c8102e"/>
<circle cx="206.3" cy="689.1" r="1.6" fill="#c8102e"/>
<circle cx="211" cy="690.4" r="1.6" fill="#c8102e"/>
<circle cx="215.8" cy="691.7" r="1.6" fill="#c8102e"/>
<circle cx="206.3" cy="693.6" r="1.6" fill="#c8102e"/>
<line x1="224.4" y1="681.1" x2="236" y2="681.1" stroke="#1c1c1c" stroke-width="1"/>
<line x1="230.2" y1="672.5" x2="230.2" y2="688.8" stroke="#1c1c1c" stroke-width="1"/>
<line x1="227.4" y1="672.5" x2="233" y2="672.5" stroke="#1c1c1c" stroke-width="1"/>
<line x1="227.4" y1="688.8" x2="233" y2="688.8" stroke="#1c1c1c" stroke-width="1"/>
<circle cx="230.2" cy="663.3" r="1.6" fill="#15508c"/>
<circle cx="228.6" cy="677.3" r="1.6" fill="#15508c"/>
<circle cx="225.4" cy="680" r="1.6" fill="#15508c"/>
<circle cx="230.2" cy="681.1" r="1.6" fill="#15508c"/>
<circle cx="234.6" cy="681.6" r="1.6" fill="#15508c"/>
<circle cx="225.4" cy="684.3" r="1.6" fill="#15508c"/>
<circle cx="230.2" cy="684.3" r="1.6" fill="#15508c"/>
<circle cx="228.6" cy="688.5" r="1.6" fill="#15508c"/>
<circle cx="232.6" cy="688.5" r="1.6" fill="#15508c"/>
<circle cx="228.6" cy="690.7" r="1.6" fill="#15508c"/>
<line x1="168.3" y1="643.8" x2="197" y2="643.8" stroke="#777" stroke-width="1.1"/>
<polygon points="180.65,639 181.15,640.31 182.55,640.38 181.46,641.26 181.83,642.62 180.65,641.85 179.47,642.62 179.84,641.26 178.75,640.38 180.15,640.31" fill="#111"/>
<polygon points="184.65,639 185.15,640.31 186.55,640.38 185.46,641.26 185.83,642.62 184.65,641.85 183.47,642.62 183.84,641.26 182.75,640.38 184.15,640.31" fill="#111"/>
<line x1="186" y1="632.7" x2="235" y2="632.7" stroke="#777" stroke-width="1.1"/>
<polygon points="208.5,627.9 209,629.21 210.4,629.28 209.31,630.16 209.68,631.52 208.5,630.75 207.32,631.52 207.69,630.16 206.6,629.28 208,629.21" fill="#111"/>
<polygon points="212.5,627.9 213,629.21 214.4,629.28 213.31,630.16 213.68,631.52 212.5,630.75 211.32,631.52 211.69,630.16 210.6,629.28 212,629.21" fill="#111"/>
<rect x="253.9" y="633.9" width="5.1" height="5.1" fill="#c8102e"/>
<text x="262" y="638.9" font-size="8" textLength="19.4" lengthAdjust="spacingAndGlyphs">Day 0</text>
<rect x="253.9" y="647.6" width="5.1" height="5.1" fill="#15508c"/>
<text x="262" y="652.6" font-size="8" textLength="19.4" lengthAdjust="spacingAndGlyphs">Day 4</text>
<rect x="254.5" y="668" width="3.2" height="3.2" fill="none" stroke="#333" stroke-width="0.8"/>
<text x="262.4" y="671.9" font-size="8" textLength="11" lengthAdjust="spacingAndGlyphs">WT</text>
<circle cx="256.1" cy="682.2" r="1.7" fill="none" stroke="#333" stroke-width="0.8"/>
<text x="262.4" y="685" font-size="8" textLength="19.2" lengthAdjust="spacingAndGlyphs">Il33<tspan font-size="5.2" dy="-3.4">&#8722;/&#8722;</tspan></text>
<rect x="0.5" y="0.5" width="519" height="708" fill="none" stroke="#000" stroke-width="1.2"/>
</svg></body></html>
